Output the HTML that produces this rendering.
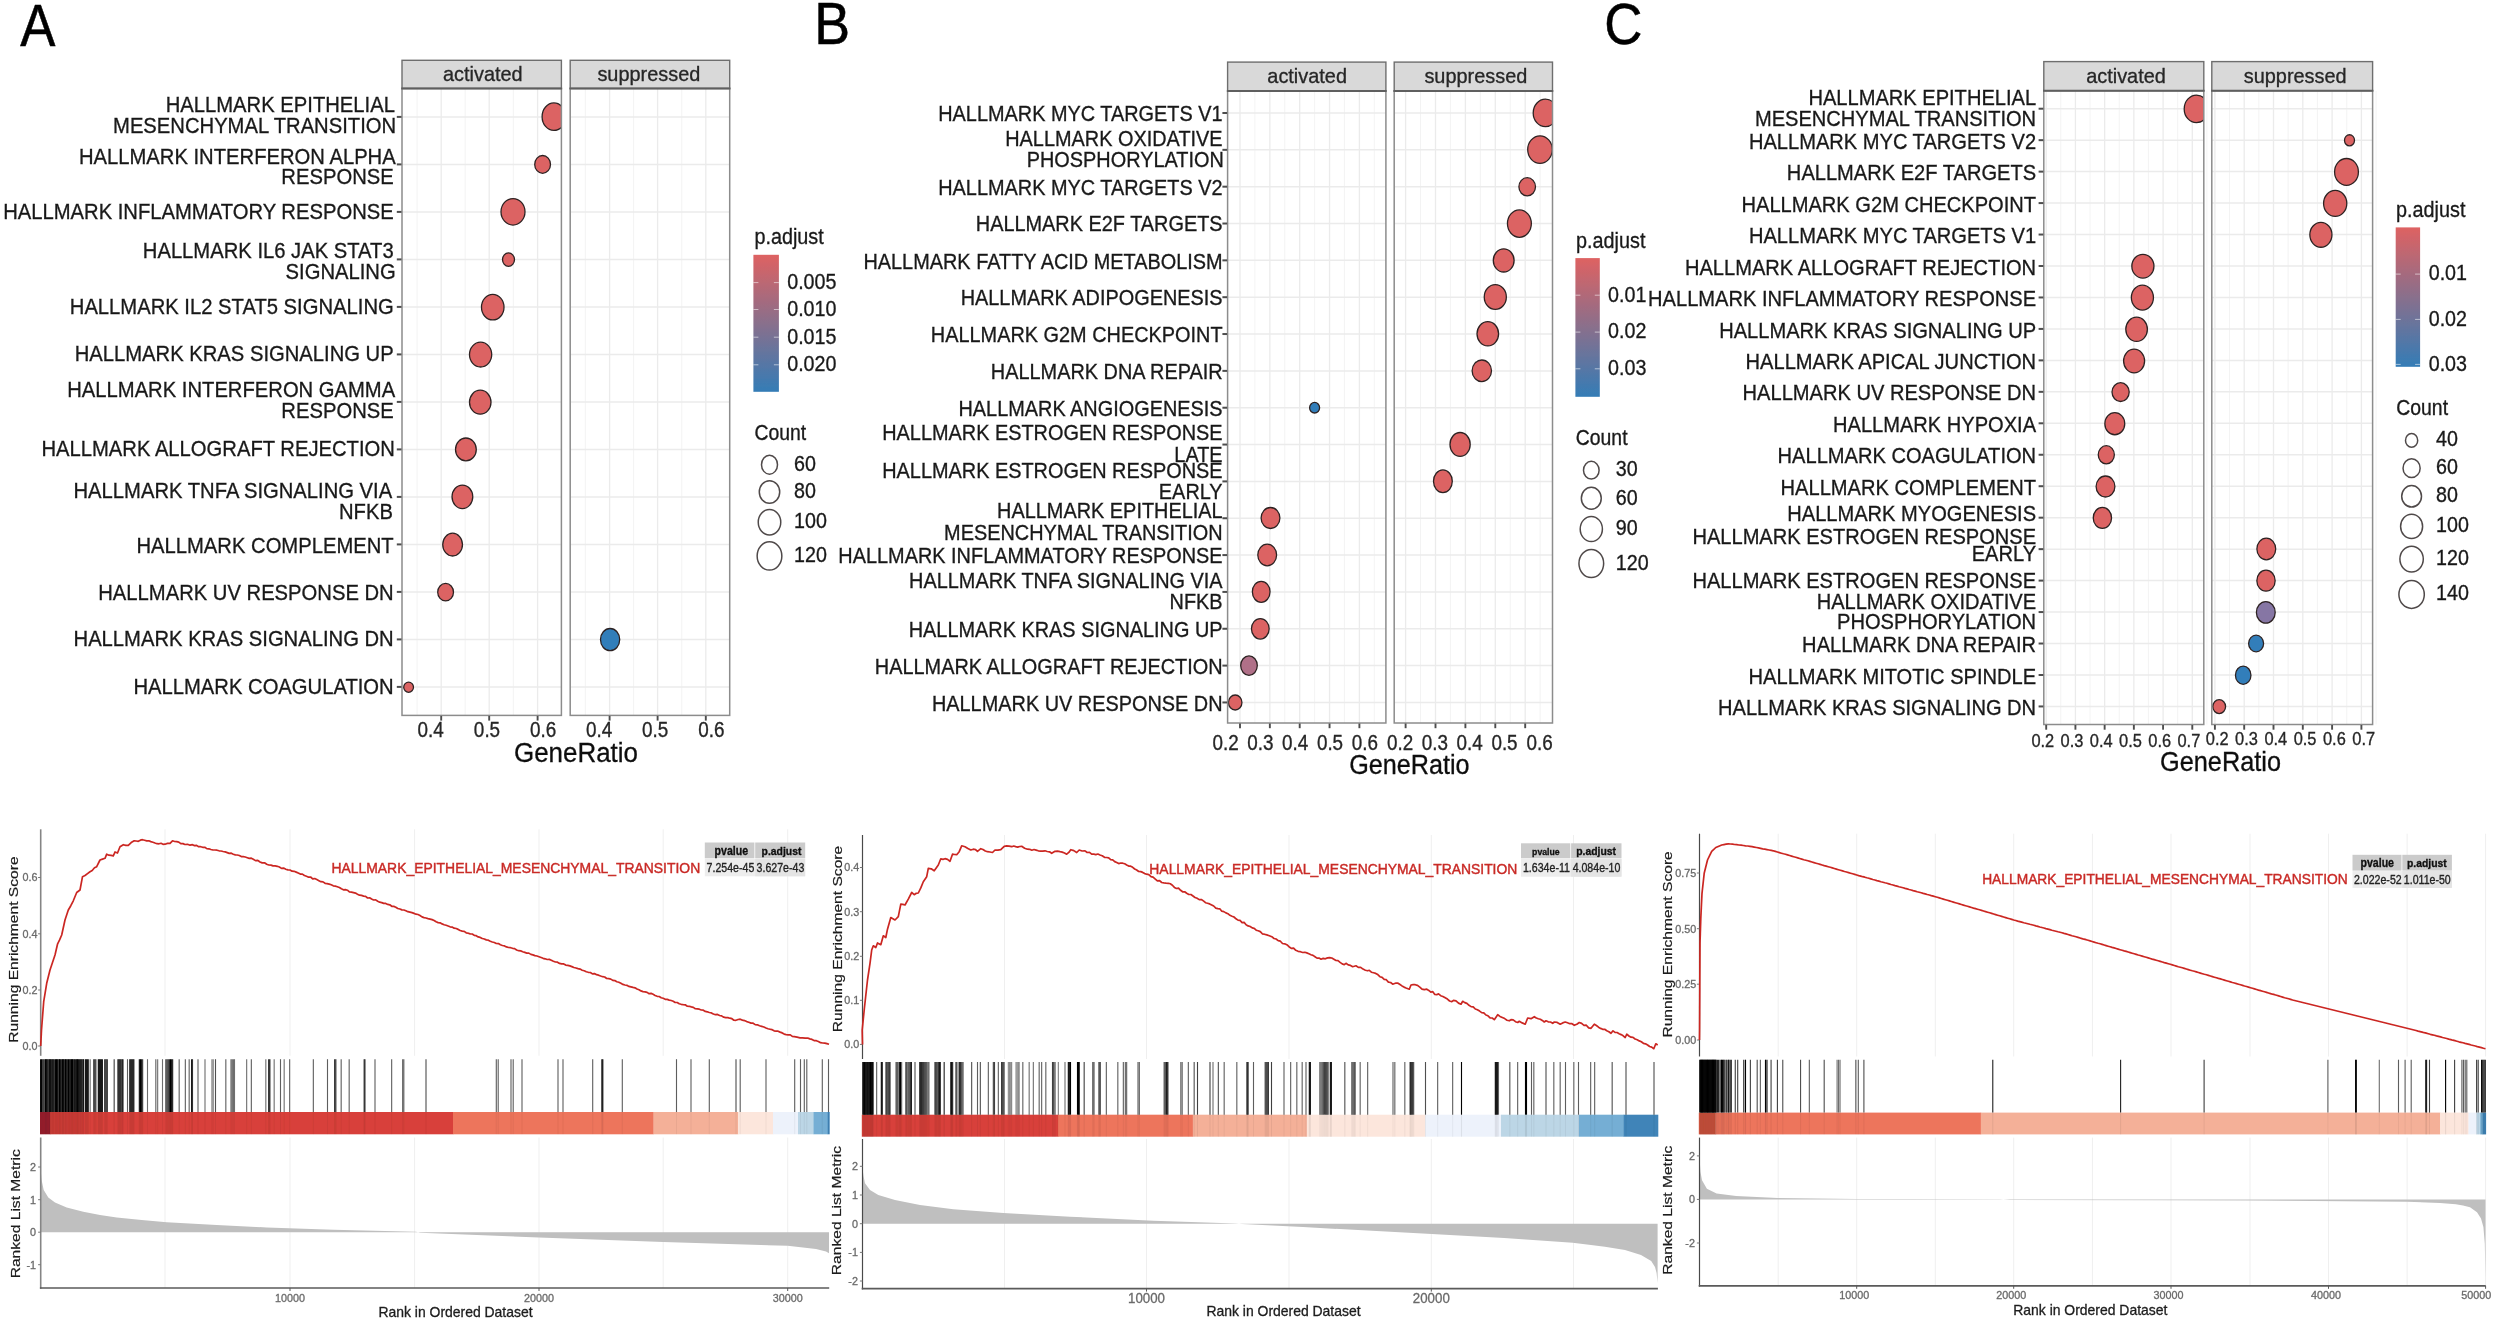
<!DOCTYPE html>
<html lang="en"><head><meta charset="utf-8"><title>GSEA hallmark enrichment figure</title>
<style>html,body{margin:0;padding:0;background:#fff}svg{display:block}text{font-family:'Liberation Sans', Arial, Helvetica, sans-serif;}</style></head><body>
<svg width="2496" height="1322" viewBox="0 0 2496 1322">
<defs><filter id="soft" x="-2%" y="-2%" width="104%" height="104%"><feGaussianBlur stdDeviation="0.55"/></filter></defs>
<rect width="2496" height="1322" fill="#ffffff"/>
<g filter="url(#soft)">
<text transform="translate(20.30,45.80) scale(1.000,1.140)" font-size="52.7" text-anchor="start" fill="#000" stroke="#000" stroke-width="0.5">A</text>
<text transform="translate(814.20,44.30) scale(1.000,1.103)" font-size="53.7" text-anchor="start" fill="#000" stroke="#000" stroke-width="0.5">B</text>
<text transform="translate(1604.20,43.90) scale(1.000,1.095)" font-size="52.8" text-anchor="start" fill="#000" stroke="#000" stroke-width="0.5">C</text>
<rect x="402.00" y="60.30" width="159.40" height="28.20" fill="#d9d9d9" stroke="#6e6e6e" stroke-width="1.4"/>
<text transform="translate(482.80,80.89) scale(1.000,1.040)" font-size="19.9" text-anchor="middle" fill="#262626" stroke="#262626" stroke-width="0.3">activated</text>
<rect x="570.20" y="60.30" width="159.50" height="28.20" fill="#d9d9d9" stroke="#6e6e6e" stroke-width="1.4"/>
<text transform="translate(648.85,80.89) scale(1.000,1.040)" font-size="19.9" text-anchor="middle" fill="#262626" stroke="#262626" stroke-width="0.3">suppressed</text>
<rect x="402.00" y="88.50" width="159.40" height="626.90" fill="#ffffff"/>
<line x1="417.10" y1="88.50" x2="417.10" y2="715.40" stroke="#f2f2f2" stroke-width="0.9"/>
<line x1="465.20" y1="88.50" x2="465.20" y2="715.40" stroke="#f2f2f2" stroke-width="0.9"/>
<line x1="513.40" y1="88.50" x2="513.40" y2="715.40" stroke="#f2f2f2" stroke-width="0.9"/>
<line x1="441.20" y1="88.50" x2="441.20" y2="715.40" stroke="#ebebeb" stroke-width="1.3"/>
<line x1="489.20" y1="88.50" x2="489.20" y2="715.40" stroke="#ebebeb" stroke-width="1.3"/>
<line x1="537.60" y1="88.50" x2="537.60" y2="715.40" stroke="#ebebeb" stroke-width="1.3"/>
<line x1="402.00" y1="116.90" x2="561.40" y2="116.90" stroke="#ebebeb" stroke-width="1.5"/>
<line x1="402.00" y1="164.40" x2="561.40" y2="164.40" stroke="#ebebeb" stroke-width="1.5"/>
<line x1="402.00" y1="211.90" x2="561.40" y2="211.90" stroke="#ebebeb" stroke-width="1.5"/>
<line x1="402.00" y1="259.40" x2="561.40" y2="259.40" stroke="#ebebeb" stroke-width="1.5"/>
<line x1="402.00" y1="306.90" x2="561.40" y2="306.90" stroke="#ebebeb" stroke-width="1.5"/>
<line x1="402.00" y1="354.40" x2="561.40" y2="354.40" stroke="#ebebeb" stroke-width="1.5"/>
<line x1="402.00" y1="401.90" x2="561.40" y2="401.90" stroke="#ebebeb" stroke-width="1.5"/>
<line x1="402.00" y1="449.40" x2="561.40" y2="449.40" stroke="#ebebeb" stroke-width="1.5"/>
<line x1="402.00" y1="496.90" x2="561.40" y2="496.90" stroke="#ebebeb" stroke-width="1.5"/>
<line x1="402.00" y1="544.40" x2="561.40" y2="544.40" stroke="#ebebeb" stroke-width="1.5"/>
<line x1="402.00" y1="591.90" x2="561.40" y2="591.90" stroke="#ebebeb" stroke-width="1.5"/>
<line x1="402.00" y1="639.40" x2="561.40" y2="639.40" stroke="#ebebeb" stroke-width="1.5"/>
<line x1="402.00" y1="686.90" x2="561.40" y2="686.90" stroke="#ebebeb" stroke-width="1.5"/>
<rect x="570.20" y="88.50" width="159.50" height="626.90" fill="#ffffff"/>
<line x1="585.40" y1="88.50" x2="585.40" y2="715.40" stroke="#f2f2f2" stroke-width="0.9"/>
<line x1="633.60" y1="88.50" x2="633.60" y2="715.40" stroke="#f2f2f2" stroke-width="0.9"/>
<line x1="681.80" y1="88.50" x2="681.80" y2="715.40" stroke="#f2f2f2" stroke-width="0.9"/>
<line x1="609.60" y1="88.50" x2="609.60" y2="715.40" stroke="#ebebeb" stroke-width="1.3"/>
<line x1="657.60" y1="88.50" x2="657.60" y2="715.40" stroke="#ebebeb" stroke-width="1.3"/>
<line x1="705.80" y1="88.50" x2="705.80" y2="715.40" stroke="#ebebeb" stroke-width="1.3"/>
<line x1="570.20" y1="116.90" x2="729.70" y2="116.90" stroke="#ebebeb" stroke-width="1.5"/>
<line x1="570.20" y1="164.40" x2="729.70" y2="164.40" stroke="#ebebeb" stroke-width="1.5"/>
<line x1="570.20" y1="211.90" x2="729.70" y2="211.90" stroke="#ebebeb" stroke-width="1.5"/>
<line x1="570.20" y1="259.40" x2="729.70" y2="259.40" stroke="#ebebeb" stroke-width="1.5"/>
<line x1="570.20" y1="306.90" x2="729.70" y2="306.90" stroke="#ebebeb" stroke-width="1.5"/>
<line x1="570.20" y1="354.40" x2="729.70" y2="354.40" stroke="#ebebeb" stroke-width="1.5"/>
<line x1="570.20" y1="401.90" x2="729.70" y2="401.90" stroke="#ebebeb" stroke-width="1.5"/>
<line x1="570.20" y1="449.40" x2="729.70" y2="449.40" stroke="#ebebeb" stroke-width="1.5"/>
<line x1="570.20" y1="496.90" x2="729.70" y2="496.90" stroke="#ebebeb" stroke-width="1.5"/>
<line x1="570.20" y1="544.40" x2="729.70" y2="544.40" stroke="#ebebeb" stroke-width="1.5"/>
<line x1="570.20" y1="591.90" x2="729.70" y2="591.90" stroke="#ebebeb" stroke-width="1.5"/>
<line x1="570.20" y1="639.40" x2="729.70" y2="639.40" stroke="#ebebeb" stroke-width="1.5"/>
<line x1="570.20" y1="686.90" x2="729.70" y2="686.90" stroke="#ebebeb" stroke-width="1.5"/>
<clipPath id="c1"><rect x="402" y="88.5" width="159.39999999999998" height="626.9"/></clipPath>
<g clip-path="url(#c1)">
<ellipse cx="553.90" cy="116.70" rx="11.80" ry="13.75" fill="#dc6464" stroke="#2e2424" stroke-width="1.3"/>
<ellipse cx="542.60" cy="164.40" rx="7.88" ry="8.88" fill="#dc6464" stroke="#2e2424" stroke-width="1.3"/>
<ellipse cx="513.00" cy="211.80" rx="12.00" ry="13.25" fill="#dc6464" stroke="#2e2424" stroke-width="1.3"/>
<ellipse cx="508.50" cy="259.60" rx="6.00" ry="6.75" fill="#dc6464" stroke="#2e2424" stroke-width="1.3"/>
<ellipse cx="492.75" cy="307.20" rx="11.25" ry="12.75" fill="#dc6464" stroke="#2e2424" stroke-width="1.3"/>
<ellipse cx="480.60" cy="354.60" rx="11.12" ry="12.38" fill="#dc6464" stroke="#2e2424" stroke-width="1.3"/>
<ellipse cx="480.25" cy="402.20" rx="10.75" ry="12.00" fill="#dc6464" stroke="#2e2424" stroke-width="1.3"/>
<ellipse cx="465.90" cy="449.40" rx="10.38" ry="11.38" fill="#dc6464" stroke="#2e2424" stroke-width="1.3"/>
<ellipse cx="462.40" cy="496.80" rx="10.38" ry="11.75" fill="#dc6464" stroke="#2e2424" stroke-width="1.3"/>
<ellipse cx="452.60" cy="544.60" rx="9.88" ry="11.38" fill="#dc6464" stroke="#2e2424" stroke-width="1.3"/>
<ellipse cx="445.60" cy="592.20" rx="7.88" ry="8.75" fill="#dc6464" stroke="#2e2424" stroke-width="1.3"/>
<ellipse cx="408.60" cy="687.20" rx="4.88" ry="5.12" fill="#dc6464" stroke="#2e2424" stroke-width="1.3"/>
</g>
<clipPath id="c2"><rect x="570.2" y="88.5" width="159.5" height="626.9"/></clipPath>
<g clip-path="url(#c2)">
<ellipse cx="610.10" cy="639.60" rx="9.62" ry="11.12" fill="#327eba" stroke="#2e2424" stroke-width="1.3"/>
</g>
<rect x="402.00" y="88.50" width="159.40" height="626.90" fill="none" stroke="#8c8c8c" stroke-width="1.5"/>
<line x1="401.30" y1="88.50" x2="562.10" y2="88.50" stroke="#5f5f5f" stroke-width="2.0"/>
<rect x="570.20" y="88.50" width="159.50" height="626.90" fill="none" stroke="#8c8c8c" stroke-width="1.5"/>
<line x1="569.50" y1="88.50" x2="730.40" y2="88.50" stroke="#5f5f5f" stroke-width="2.0"/>
<line x1="396.80" y1="116.90" x2="401.50" y2="116.90" stroke="#4d4d4d" stroke-width="2.0"/>
<text transform="translate(394.90,112.00) scale(1.000,1.100)" font-size="20.22" text-anchor="end" fill="#1a1a1a" stroke="#1a1a1a" stroke-width="0.3">HALLMARK EPITHELIAL</text>
<text transform="translate(396.10,133.00) scale(1.000,1.100)" font-size="20.22" text-anchor="end" fill="#1a1a1a" stroke="#1a1a1a" stroke-width="0.3">MESENCHYMAL TRANSITION</text>
<line x1="396.80" y1="164.40" x2="401.50" y2="164.40" stroke="#4d4d4d" stroke-width="2.0"/>
<text transform="translate(395.70,163.70) scale(1.000,1.100)" font-size="20.22" text-anchor="end" fill="#1a1a1a" stroke="#1a1a1a" stroke-width="0.3">HALLMARK INTERFERON ALPHA</text>
<text transform="translate(393.70,184.00) scale(1.000,1.100)" font-size="20.22" text-anchor="end" fill="#1a1a1a" stroke="#1a1a1a" stroke-width="0.3">RESPONSE</text>
<line x1="396.80" y1="211.90" x2="401.50" y2="211.90" stroke="#4d4d4d" stroke-width="2.0"/>
<text transform="translate(393.70,218.90) scale(1.000,1.100)" font-size="20.22" text-anchor="end" fill="#1a1a1a" stroke="#1a1a1a" stroke-width="0.3">HALLMARK INFLAMMATORY RESPONSE</text>
<line x1="396.80" y1="259.40" x2="401.50" y2="259.40" stroke="#4d4d4d" stroke-width="2.0"/>
<text transform="translate(393.70,258.40) scale(1.000,1.100)" font-size="20.22" text-anchor="end" fill="#1a1a1a" stroke="#1a1a1a" stroke-width="0.3">HALLMARK IL6 JAK STAT3</text>
<text transform="translate(395.70,278.70) scale(1.000,1.100)" font-size="20.22" text-anchor="end" fill="#1a1a1a" stroke="#1a1a1a" stroke-width="0.3">SIGNALING</text>
<line x1="396.80" y1="306.90" x2="401.50" y2="306.90" stroke="#4d4d4d" stroke-width="2.0"/>
<text transform="translate(393.70,313.90) scale(1.000,1.100)" font-size="20.22" text-anchor="end" fill="#1a1a1a" stroke="#1a1a1a" stroke-width="0.3">HALLMARK IL2 STAT5 SIGNALING</text>
<line x1="396.80" y1="354.40" x2="401.50" y2="354.40" stroke="#4d4d4d" stroke-width="2.0"/>
<text transform="translate(393.70,361.40) scale(1.000,1.100)" font-size="20.22" text-anchor="end" fill="#1a1a1a" stroke="#1a1a1a" stroke-width="0.3">HALLMARK KRAS SIGNALING UP</text>
<line x1="396.80" y1="401.90" x2="401.50" y2="401.90" stroke="#4d4d4d" stroke-width="2.0"/>
<text transform="translate(395.20,397.20) scale(1.000,1.100)" font-size="20.22" text-anchor="end" fill="#1a1a1a" stroke="#1a1a1a" stroke-width="0.3">HALLMARK INTERFERON GAMMA</text>
<text transform="translate(393.70,417.50) scale(1.000,1.100)" font-size="20.22" text-anchor="end" fill="#1a1a1a" stroke="#1a1a1a" stroke-width="0.3">RESPONSE</text>
<line x1="396.80" y1="449.40" x2="401.50" y2="449.40" stroke="#4d4d4d" stroke-width="2.0"/>
<text transform="translate(394.90,456.20) scale(1.000,1.100)" font-size="20.22" text-anchor="end" fill="#1a1a1a" stroke="#1a1a1a" stroke-width="0.3">HALLMARK ALLOGRAFT REJECTION</text>
<line x1="396.80" y1="496.90" x2="401.50" y2="496.90" stroke="#4d4d4d" stroke-width="2.0"/>
<text transform="translate(392.20,498.00) scale(1.000,1.100)" font-size="20.22" text-anchor="end" fill="#1a1a1a" stroke="#1a1a1a" stroke-width="0.3">HALLMARK TNFA SIGNALING VIA</text>
<text transform="translate(392.90,518.70) scale(1.000,1.100)" font-size="20.22" text-anchor="end" fill="#1a1a1a" stroke="#1a1a1a" stroke-width="0.3">NFKB</text>
<line x1="396.80" y1="544.40" x2="401.50" y2="544.40" stroke="#4d4d4d" stroke-width="2.0"/>
<text transform="translate(393.70,553.40) scale(1.000,1.100)" font-size="20.22" text-anchor="end" fill="#1a1a1a" stroke="#1a1a1a" stroke-width="0.3">HALLMARK COMPLEMENT</text>
<line x1="396.80" y1="591.90" x2="401.50" y2="591.90" stroke="#4d4d4d" stroke-width="2.0"/>
<text transform="translate(393.70,600.30) scale(1.000,1.100)" font-size="20.22" text-anchor="end" fill="#1a1a1a" stroke="#1a1a1a" stroke-width="0.3">HALLMARK UV RESPONSE DN</text>
<line x1="396.80" y1="639.40" x2="401.50" y2="639.40" stroke="#4d4d4d" stroke-width="2.0"/>
<text transform="translate(393.70,646.40) scale(1.000,1.100)" font-size="20.22" text-anchor="end" fill="#1a1a1a" stroke="#1a1a1a" stroke-width="0.3">HALLMARK KRAS SIGNALING DN</text>
<line x1="396.80" y1="686.90" x2="401.50" y2="686.90" stroke="#4d4d4d" stroke-width="2.0"/>
<text transform="translate(393.70,693.90) scale(1.000,1.100)" font-size="20.22" text-anchor="end" fill="#1a1a1a" stroke="#1a1a1a" stroke-width="0.3">HALLMARK COAGULATION</text>
<line x1="441.20" y1="715.90" x2="441.20" y2="720.60" stroke="#4d4d4d" stroke-width="1.9"/>
<text transform="translate(430.60,736.90) scale(1.000,1.200)" font-size="18.9" text-anchor="middle" fill="#262626" stroke="#262626" stroke-width="0.3">0.4</text>
<line x1="489.20" y1="715.90" x2="489.20" y2="720.60" stroke="#4d4d4d" stroke-width="1.9"/>
<text transform="translate(487.00,736.90) scale(1.000,1.200)" font-size="18.9" text-anchor="middle" fill="#262626" stroke="#262626" stroke-width="0.3">0.5</text>
<line x1="537.60" y1="715.90" x2="537.60" y2="720.60" stroke="#4d4d4d" stroke-width="1.9"/>
<text transform="translate(543.10,736.90) scale(1.000,1.200)" font-size="18.9" text-anchor="middle" fill="#262626" stroke="#262626" stroke-width="0.3">0.6</text>
<line x1="609.60" y1="715.90" x2="609.60" y2="720.60" stroke="#4d4d4d" stroke-width="1.9"/>
<text transform="translate(599.10,736.90) scale(1.000,1.200)" font-size="18.9" text-anchor="middle" fill="#262626" stroke="#262626" stroke-width="0.3">0.4</text>
<line x1="657.60" y1="715.90" x2="657.60" y2="720.60" stroke="#4d4d4d" stroke-width="1.9"/>
<text transform="translate(655.20,736.90) scale(1.000,1.200)" font-size="18.9" text-anchor="middle" fill="#262626" stroke="#262626" stroke-width="0.3">0.5</text>
<line x1="705.80" y1="715.90" x2="705.80" y2="720.60" stroke="#4d4d4d" stroke-width="1.9"/>
<text transform="translate(711.40,736.90) scale(1.000,1.200)" font-size="18.9" text-anchor="middle" fill="#262626" stroke="#262626" stroke-width="0.3">0.6</text>
<text transform="translate(576.00,762.00) scale(1.000,1.080)" font-size="25.95" text-anchor="middle" fill="#111" stroke="#111" stroke-width="0.3">GeneRatio</text>
<linearGradient id="gA" x1="0" y1="0" x2="0" y2="1"><stop offset="0" stop-color="#de6262"/><stop offset="1" stop-color="#347cb6"/></linearGradient>
<rect x="753.40" y="254.80" width="25.50" height="137.00" fill="url(#gA)"/>
<line x1="753.40" y1="282.60" x2="758.40" y2="282.60" stroke="#ffffff" stroke-width="1.0" opacity="0.55"/>
<line x1="773.90" y1="282.60" x2="778.90" y2="282.60" stroke="#ffffff" stroke-width="1.0" opacity="0.55"/>
<text transform="translate(787.20,288.90) scale(1.000,1.100)" font-size="19.7" text-anchor="start" fill="#1a1a1a" stroke="#1a1a1a" stroke-width="0.3">0.005</text>
<line x1="753.40" y1="309.50" x2="758.40" y2="309.50" stroke="#ffffff" stroke-width="1.0" opacity="0.55"/>
<line x1="773.90" y1="309.50" x2="778.90" y2="309.50" stroke="#ffffff" stroke-width="1.0" opacity="0.55"/>
<text transform="translate(787.20,315.80) scale(1.000,1.100)" font-size="19.7" text-anchor="start" fill="#1a1a1a" stroke="#1a1a1a" stroke-width="0.3">0.010</text>
<line x1="753.40" y1="337.20" x2="758.40" y2="337.20" stroke="#ffffff" stroke-width="1.0" opacity="0.55"/>
<line x1="773.90" y1="337.20" x2="778.90" y2="337.20" stroke="#ffffff" stroke-width="1.0" opacity="0.55"/>
<text transform="translate(787.20,343.50) scale(1.000,1.100)" font-size="19.7" text-anchor="start" fill="#1a1a1a" stroke="#1a1a1a" stroke-width="0.3">0.015</text>
<line x1="753.40" y1="364.80" x2="758.40" y2="364.80" stroke="#ffffff" stroke-width="1.0" opacity="0.55"/>
<line x1="773.90" y1="364.80" x2="778.90" y2="364.80" stroke="#ffffff" stroke-width="1.0" opacity="0.55"/>
<text transform="translate(787.20,371.10) scale(1.000,1.100)" font-size="19.7" text-anchor="start" fill="#1a1a1a" stroke="#1a1a1a" stroke-width="0.3">0.020</text>
<text transform="translate(754.40,243.60) scale(1.000,1.100)" font-size="19.8" text-anchor="start" fill="#1a1a1a" stroke="#1a1a1a" stroke-width="0.3">p.adjust</text>
<text transform="translate(754.40,440.00) scale(1.000,1.100)" font-size="19.4" text-anchor="start" fill="#1a1a1a" stroke="#1a1a1a" stroke-width="0.3">Count</text>
<ellipse cx="769.50" cy="464.70" rx="8.00" ry="9.45" fill="#fff" stroke="#504a4a" stroke-width="1.5"/>
<text transform="translate(794.00,470.70) scale(1.000,1.100)" font-size="19.7" text-anchor="start" fill="#1a1a1a" stroke="#1a1a1a" stroke-width="0.3">60</text>
<ellipse cx="769.50" cy="492.00" rx="10.20" ry="11.25" fill="#fff" stroke="#504a4a" stroke-width="1.5"/>
<text transform="translate(794.00,498.40) scale(1.000,1.100)" font-size="19.7" text-anchor="start" fill="#1a1a1a" stroke="#1a1a1a" stroke-width="0.3">80</text>
<ellipse cx="769.50" cy="522.20" rx="11.25" ry="12.70" fill="#fff" stroke="#504a4a" stroke-width="1.5"/>
<text transform="translate(794.00,528.20) scale(1.000,1.100)" font-size="19.7" text-anchor="start" fill="#1a1a1a" stroke="#1a1a1a" stroke-width="0.3">100</text>
<ellipse cx="769.50" cy="555.90" rx="12.35" ry="14.15" fill="#fff" stroke="#504a4a" stroke-width="1.5"/>
<text transform="translate(794.00,561.90) scale(1.000,1.100)" font-size="19.7" text-anchor="start" fill="#1a1a1a" stroke="#1a1a1a" stroke-width="0.3">120</text>
<rect x="1227.60" y="62.10" width="158.30" height="28.90" fill="#d9d9d9" stroke="#6e6e6e" stroke-width="1.4"/>
<text transform="translate(1307.15,83.20) scale(1.000,1.040)" font-size="19.9" text-anchor="middle" fill="#262626" stroke="#262626" stroke-width="0.3">activated</text>
<rect x="1394.20" y="62.10" width="158.30" height="28.90" fill="#d9d9d9" stroke="#6e6e6e" stroke-width="1.4"/>
<text transform="translate(1475.85,83.20) scale(1.000,1.040)" font-size="19.9" text-anchor="middle" fill="#262626" stroke="#262626" stroke-width="0.3">suppressed</text>
<rect x="1227.60" y="91.00" width="158.30" height="632.00" fill="#ffffff"/>
<line x1="1254.92" y1="91.00" x2="1254.92" y2="723.00" stroke="#f2f2f2" stroke-width="0.9"/>
<line x1="1284.77" y1="91.00" x2="1284.77" y2="723.00" stroke="#f2f2f2" stroke-width="0.9"/>
<line x1="1314.62" y1="91.00" x2="1314.62" y2="723.00" stroke="#f2f2f2" stroke-width="0.9"/>
<line x1="1344.47" y1="91.00" x2="1344.47" y2="723.00" stroke="#f2f2f2" stroke-width="0.9"/>
<line x1="1374.32" y1="91.00" x2="1374.32" y2="723.00" stroke="#f2f2f2" stroke-width="0.9"/>
<line x1="1240.00" y1="91.00" x2="1240.00" y2="723.00" stroke="#ebebeb" stroke-width="1.3"/>
<line x1="1269.85" y1="91.00" x2="1269.85" y2="723.00" stroke="#ebebeb" stroke-width="1.3"/>
<line x1="1299.70" y1="91.00" x2="1299.70" y2="723.00" stroke="#ebebeb" stroke-width="1.3"/>
<line x1="1329.55" y1="91.00" x2="1329.55" y2="723.00" stroke="#ebebeb" stroke-width="1.3"/>
<line x1="1359.40" y1="91.00" x2="1359.40" y2="723.00" stroke="#ebebeb" stroke-width="1.3"/>
<line x1="1227.60" y1="113.00" x2="1385.90" y2="113.00" stroke="#ebebeb" stroke-width="1.5"/>
<line x1="1227.60" y1="149.84" x2="1385.90" y2="149.84" stroke="#ebebeb" stroke-width="1.5"/>
<line x1="1227.60" y1="186.68" x2="1385.90" y2="186.68" stroke="#ebebeb" stroke-width="1.5"/>
<line x1="1227.60" y1="223.52" x2="1385.90" y2="223.52" stroke="#ebebeb" stroke-width="1.5"/>
<line x1="1227.60" y1="260.36" x2="1385.90" y2="260.36" stroke="#ebebeb" stroke-width="1.5"/>
<line x1="1227.60" y1="297.20" x2="1385.90" y2="297.20" stroke="#ebebeb" stroke-width="1.5"/>
<line x1="1227.60" y1="334.04" x2="1385.90" y2="334.04" stroke="#ebebeb" stroke-width="1.5"/>
<line x1="1227.60" y1="370.88" x2="1385.90" y2="370.88" stroke="#ebebeb" stroke-width="1.5"/>
<line x1="1227.60" y1="407.72" x2="1385.90" y2="407.72" stroke="#ebebeb" stroke-width="1.5"/>
<line x1="1227.60" y1="444.56" x2="1385.90" y2="444.56" stroke="#ebebeb" stroke-width="1.5"/>
<line x1="1227.60" y1="481.40" x2="1385.90" y2="481.40" stroke="#ebebeb" stroke-width="1.5"/>
<line x1="1227.60" y1="518.24" x2="1385.90" y2="518.24" stroke="#ebebeb" stroke-width="1.5"/>
<line x1="1227.60" y1="555.08" x2="1385.90" y2="555.08" stroke="#ebebeb" stroke-width="1.5"/>
<line x1="1227.60" y1="591.92" x2="1385.90" y2="591.92" stroke="#ebebeb" stroke-width="1.5"/>
<line x1="1227.60" y1="628.76" x2="1385.90" y2="628.76" stroke="#ebebeb" stroke-width="1.5"/>
<line x1="1227.60" y1="665.60" x2="1385.90" y2="665.60" stroke="#ebebeb" stroke-width="1.5"/>
<line x1="1227.60" y1="702.44" x2="1385.90" y2="702.44" stroke="#ebebeb" stroke-width="1.5"/>
<rect x="1394.20" y="91.00" width="158.30" height="632.00" fill="#ffffff"/>
<line x1="1420.55" y1="91.00" x2="1420.55" y2="723.00" stroke="#f2f2f2" stroke-width="0.9"/>
<line x1="1450.45" y1="91.00" x2="1450.45" y2="723.00" stroke="#f2f2f2" stroke-width="0.9"/>
<line x1="1480.35" y1="91.00" x2="1480.35" y2="723.00" stroke="#f2f2f2" stroke-width="0.9"/>
<line x1="1510.25" y1="91.00" x2="1510.25" y2="723.00" stroke="#f2f2f2" stroke-width="0.9"/>
<line x1="1540.15" y1="91.00" x2="1540.15" y2="723.00" stroke="#f2f2f2" stroke-width="0.9"/>
<line x1="1405.60" y1="91.00" x2="1405.60" y2="723.00" stroke="#ebebeb" stroke-width="1.3"/>
<line x1="1435.50" y1="91.00" x2="1435.50" y2="723.00" stroke="#ebebeb" stroke-width="1.3"/>
<line x1="1465.40" y1="91.00" x2="1465.40" y2="723.00" stroke="#ebebeb" stroke-width="1.3"/>
<line x1="1495.30" y1="91.00" x2="1495.30" y2="723.00" stroke="#ebebeb" stroke-width="1.3"/>
<line x1="1525.20" y1="91.00" x2="1525.20" y2="723.00" stroke="#ebebeb" stroke-width="1.3"/>
<line x1="1394.20" y1="113.00" x2="1552.50" y2="113.00" stroke="#ebebeb" stroke-width="1.5"/>
<line x1="1394.20" y1="149.84" x2="1552.50" y2="149.84" stroke="#ebebeb" stroke-width="1.5"/>
<line x1="1394.20" y1="186.68" x2="1552.50" y2="186.68" stroke="#ebebeb" stroke-width="1.5"/>
<line x1="1394.20" y1="223.52" x2="1552.50" y2="223.52" stroke="#ebebeb" stroke-width="1.5"/>
<line x1="1394.20" y1="260.36" x2="1552.50" y2="260.36" stroke="#ebebeb" stroke-width="1.5"/>
<line x1="1394.20" y1="297.20" x2="1552.50" y2="297.20" stroke="#ebebeb" stroke-width="1.5"/>
<line x1="1394.20" y1="334.04" x2="1552.50" y2="334.04" stroke="#ebebeb" stroke-width="1.5"/>
<line x1="1394.20" y1="370.88" x2="1552.50" y2="370.88" stroke="#ebebeb" stroke-width="1.5"/>
<line x1="1394.20" y1="407.72" x2="1552.50" y2="407.72" stroke="#ebebeb" stroke-width="1.5"/>
<line x1="1394.20" y1="444.56" x2="1552.50" y2="444.56" stroke="#ebebeb" stroke-width="1.5"/>
<line x1="1394.20" y1="481.40" x2="1552.50" y2="481.40" stroke="#ebebeb" stroke-width="1.5"/>
<line x1="1394.20" y1="518.24" x2="1552.50" y2="518.24" stroke="#ebebeb" stroke-width="1.5"/>
<line x1="1394.20" y1="555.08" x2="1552.50" y2="555.08" stroke="#ebebeb" stroke-width="1.5"/>
<line x1="1394.20" y1="591.92" x2="1552.50" y2="591.92" stroke="#ebebeb" stroke-width="1.5"/>
<line x1="1394.20" y1="628.76" x2="1552.50" y2="628.76" stroke="#ebebeb" stroke-width="1.5"/>
<line x1="1394.20" y1="665.60" x2="1552.50" y2="665.60" stroke="#ebebeb" stroke-width="1.5"/>
<line x1="1394.20" y1="702.44" x2="1552.50" y2="702.44" stroke="#ebebeb" stroke-width="1.5"/>
<clipPath id="c3"><rect x="1227.6" y="91.0" width="158.30000000000018" height="632.0"/></clipPath>
<g clip-path="url(#c3)">
<ellipse cx="1314.60" cy="407.70" rx="5.00" ry="5.30" fill="#327eba" stroke="#2e2424" stroke-width="1.3"/>
<ellipse cx="1270.50" cy="518.00" rx="9.40" ry="10.50" fill="#dc6464" stroke="#2e2424" stroke-width="1.3"/>
<ellipse cx="1267.20" cy="555.00" rx="9.40" ry="10.80" fill="#dc6464" stroke="#2e2424" stroke-width="1.3"/>
<ellipse cx="1261.20" cy="591.80" rx="8.85" ry="10.50" fill="#dc6464" stroke="#2e2424" stroke-width="1.3"/>
<ellipse cx="1260.30" cy="628.80" rx="8.85" ry="10.25" fill="#dc6464" stroke="#2e2424" stroke-width="1.3"/>
<ellipse cx="1249.00" cy="665.60" rx="8.30" ry="9.70" fill="#b07088" stroke="#2e2424" stroke-width="1.3"/>
<ellipse cx="1235.20" cy="702.50" rx="6.75" ry="7.50" fill="#dc6464" stroke="#2e2424" stroke-width="1.3"/>
</g>
<clipPath id="c4"><rect x="1394.2" y="91.0" width="158.29999999999995" height="632.0"/></clipPath>
<g clip-path="url(#c4)">
<ellipse cx="1545.40" cy="112.90" rx="12.20" ry="13.70" fill="#dc6464" stroke="#2e2424" stroke-width="1.3"/>
<ellipse cx="1540.00" cy="149.60" rx="12.30" ry="13.80" fill="#dc6464" stroke="#2e2424" stroke-width="1.3"/>
<ellipse cx="1527.20" cy="186.80" rx="8.30" ry="9.15" fill="#dc6464" stroke="#2e2424" stroke-width="1.3"/>
<ellipse cx="1519.40" cy="223.60" rx="11.95" ry="13.70" fill="#dc6464" stroke="#2e2424" stroke-width="1.3"/>
<ellipse cx="1503.70" cy="260.40" rx="10.40" ry="11.60" fill="#dc6464" stroke="#2e2424" stroke-width="1.3"/>
<ellipse cx="1495.30" cy="297.00" rx="11.05" ry="12.45" fill="#dc6464" stroke="#2e2424" stroke-width="1.3"/>
<ellipse cx="1487.80" cy="333.80" rx="10.80" ry="12.15" fill="#dc6464" stroke="#2e2424" stroke-width="1.3"/>
<ellipse cx="1481.80" cy="370.80" rx="9.70" ry="10.80" fill="#dc6464" stroke="#2e2424" stroke-width="1.3"/>
<ellipse cx="1460.10" cy="444.40" rx="10.10" ry="11.90" fill="#dc6464" stroke="#2e2424" stroke-width="1.3"/>
<ellipse cx="1442.90" cy="481.30" rx="9.40" ry="11.35" fill="#dc6464" stroke="#2e2424" stroke-width="1.3"/>
</g>
<rect x="1227.60" y="91.00" width="158.30" height="632.00" fill="none" stroke="#8c8c8c" stroke-width="1.5"/>
<line x1="1226.90" y1="91.00" x2="1386.60" y2="91.00" stroke="#5f5f5f" stroke-width="2.0"/>
<rect x="1394.20" y="91.00" width="158.30" height="632.00" fill="none" stroke="#8c8c8c" stroke-width="1.5"/>
<line x1="1393.50" y1="91.00" x2="1553.20" y2="91.00" stroke="#5f5f5f" stroke-width="2.0"/>
<line x1="1222.40" y1="113.00" x2="1227.10" y2="113.00" stroke="#4d4d4d" stroke-width="2.0"/>
<text transform="translate(1222.60,121.20) scale(1.000,1.100)" font-size="19.9" text-anchor="end" fill="#1a1a1a" stroke="#1a1a1a" stroke-width="0.3">HALLMARK MYC TARGETS V1</text>
<line x1="1222.40" y1="149.84" x2="1227.10" y2="149.84" stroke="#4d4d4d" stroke-width="2.0"/>
<text transform="translate(1222.60,146.20) scale(1.000,1.100)" font-size="19.9" text-anchor="end" fill="#1a1a1a" stroke="#1a1a1a" stroke-width="0.3">HALLMARK OXIDATIVE</text>
<text transform="translate(1223.80,166.90) scale(1.000,1.100)" font-size="19.9" text-anchor="end" fill="#1a1a1a" stroke="#1a1a1a" stroke-width="0.3">PHOSPHORYLATION</text>
<line x1="1222.40" y1="186.68" x2="1227.10" y2="186.68" stroke="#4d4d4d" stroke-width="2.0"/>
<text transform="translate(1222.60,194.88) scale(1.000,1.100)" font-size="19.9" text-anchor="end" fill="#1a1a1a" stroke="#1a1a1a" stroke-width="0.3">HALLMARK MYC TARGETS V2</text>
<line x1="1222.40" y1="223.52" x2="1227.10" y2="223.52" stroke="#4d4d4d" stroke-width="2.0"/>
<text transform="translate(1222.60,231.30) scale(1.000,1.100)" font-size="19.9" text-anchor="end" fill="#1a1a1a" stroke="#1a1a1a" stroke-width="0.3">HALLMARK E2F TARGETS</text>
<line x1="1222.40" y1="260.36" x2="1227.10" y2="260.36" stroke="#4d4d4d" stroke-width="2.0"/>
<text transform="translate(1222.60,268.56) scale(1.000,1.100)" font-size="19.9" text-anchor="end" fill="#1a1a1a" stroke="#1a1a1a" stroke-width="0.3">HALLMARK FATTY ACID METABOLISM</text>
<line x1="1222.40" y1="297.20" x2="1227.10" y2="297.20" stroke="#4d4d4d" stroke-width="2.0"/>
<text transform="translate(1222.60,305.40) scale(1.000,1.100)" font-size="19.9" text-anchor="end" fill="#1a1a1a" stroke="#1a1a1a" stroke-width="0.3">HALLMARK ADIPOGENESIS</text>
<line x1="1222.40" y1="334.04" x2="1227.10" y2="334.04" stroke="#4d4d4d" stroke-width="2.0"/>
<text transform="translate(1222.60,342.24) scale(1.000,1.100)" font-size="19.9" text-anchor="end" fill="#1a1a1a" stroke="#1a1a1a" stroke-width="0.3">HALLMARK G2M CHECKPOINT</text>
<line x1="1222.40" y1="370.88" x2="1227.10" y2="370.88" stroke="#4d4d4d" stroke-width="2.0"/>
<text transform="translate(1222.60,379.08) scale(1.000,1.100)" font-size="19.9" text-anchor="end" fill="#1a1a1a" stroke="#1a1a1a" stroke-width="0.3">HALLMARK DNA REPAIR</text>
<line x1="1222.40" y1="407.72" x2="1227.10" y2="407.72" stroke="#4d4d4d" stroke-width="2.0"/>
<text transform="translate(1222.60,415.92) scale(1.000,1.100)" font-size="19.9" text-anchor="end" fill="#1a1a1a" stroke="#1a1a1a" stroke-width="0.3">HALLMARK ANGIOGENESIS</text>
<line x1="1222.40" y1="444.56" x2="1227.10" y2="444.56" stroke="#4d4d4d" stroke-width="2.0"/>
<text transform="translate(1222.60,440.10) scale(1.000,1.100)" font-size="19.9" text-anchor="end" fill="#1a1a1a" stroke="#1a1a1a" stroke-width="0.3">HALLMARK ESTROGEN RESPONSE</text>
<text transform="translate(1222.60,461.60) scale(1.000,1.100)" font-size="19.9" text-anchor="end" fill="#1a1a1a" stroke="#1a1a1a" stroke-width="0.3">LATE</text>
<line x1="1222.40" y1="481.40" x2="1227.10" y2="481.40" stroke="#4d4d4d" stroke-width="2.0"/>
<text transform="translate(1222.60,478.20) scale(1.000,1.100)" font-size="19.9" text-anchor="end" fill="#1a1a1a" stroke="#1a1a1a" stroke-width="0.3">HALLMARK ESTROGEN RESPONSE</text>
<text transform="translate(1222.60,499.40) scale(1.000,1.100)" font-size="19.9" text-anchor="end" fill="#1a1a1a" stroke="#1a1a1a" stroke-width="0.3">EARLY</text>
<line x1="1222.40" y1="518.24" x2="1227.10" y2="518.24" stroke="#4d4d4d" stroke-width="2.0"/>
<text transform="translate(1222.60,518.00) scale(1.000,1.100)" font-size="19.9" text-anchor="end" fill="#1a1a1a" stroke="#1a1a1a" stroke-width="0.3">HALLMARK EPITHELIAL</text>
<text transform="translate(1222.60,539.50) scale(1.000,1.100)" font-size="19.9" text-anchor="end" fill="#1a1a1a" stroke="#1a1a1a" stroke-width="0.3">MESENCHYMAL TRANSITION</text>
<line x1="1222.40" y1="555.08" x2="1227.10" y2="555.08" stroke="#4d4d4d" stroke-width="2.0"/>
<text transform="translate(1222.60,563.00) scale(1.000,1.100)" font-size="19.9" text-anchor="end" fill="#1a1a1a" stroke="#1a1a1a" stroke-width="0.3">HALLMARK INFLAMMATORY RESPONSE</text>
<line x1="1222.40" y1="591.92" x2="1227.10" y2="591.92" stroke="#4d4d4d" stroke-width="2.0"/>
<text transform="translate(1222.60,587.60) scale(1.000,1.100)" font-size="19.9" text-anchor="end" fill="#1a1a1a" stroke="#1a1a1a" stroke-width="0.3">HALLMARK TNFA SIGNALING VIA</text>
<text transform="translate(1222.60,609.10) scale(1.000,1.100)" font-size="19.9" text-anchor="end" fill="#1a1a1a" stroke="#1a1a1a" stroke-width="0.3">NFKB</text>
<line x1="1222.40" y1="628.76" x2="1227.10" y2="628.76" stroke="#4d4d4d" stroke-width="2.0"/>
<text transform="translate(1222.60,636.96) scale(1.000,1.100)" font-size="19.9" text-anchor="end" fill="#1a1a1a" stroke="#1a1a1a" stroke-width="0.3">HALLMARK KRAS SIGNALING UP</text>
<line x1="1222.40" y1="665.60" x2="1227.10" y2="665.60" stroke="#4d4d4d" stroke-width="2.0"/>
<text transform="translate(1222.60,673.80) scale(1.000,1.100)" font-size="19.9" text-anchor="end" fill="#1a1a1a" stroke="#1a1a1a" stroke-width="0.3">HALLMARK ALLOGRAFT REJECTION</text>
<line x1="1222.40" y1="702.44" x2="1227.10" y2="702.44" stroke="#4d4d4d" stroke-width="2.0"/>
<text transform="translate(1222.60,710.64) scale(1.000,1.100)" font-size="19.9" text-anchor="end" fill="#1a1a1a" stroke="#1a1a1a" stroke-width="0.3">HALLMARK UV RESPONSE DN</text>
<line x1="1240.00" y1="723.50" x2="1240.00" y2="728.20" stroke="#4d4d4d" stroke-width="1.9"/>
<text transform="translate(1225.70,749.60) scale(1.000,1.200)" font-size="18.85" text-anchor="middle" fill="#262626" stroke="#262626" stroke-width="0.3">0.2</text>
<line x1="1269.85" y1="723.50" x2="1269.85" y2="728.20" stroke="#4d4d4d" stroke-width="1.9"/>
<text transform="translate(1260.40,749.60) scale(1.000,1.200)" font-size="18.85" text-anchor="middle" fill="#262626" stroke="#262626" stroke-width="0.3">0.3</text>
<line x1="1299.70" y1="723.50" x2="1299.70" y2="728.20" stroke="#4d4d4d" stroke-width="1.9"/>
<text transform="translate(1295.10,749.60) scale(1.000,1.200)" font-size="18.85" text-anchor="middle" fill="#262626" stroke="#262626" stroke-width="0.3">0.4</text>
<line x1="1329.55" y1="723.50" x2="1329.55" y2="728.20" stroke="#4d4d4d" stroke-width="1.9"/>
<text transform="translate(1330.00,749.60) scale(1.000,1.200)" font-size="18.85" text-anchor="middle" fill="#262626" stroke="#262626" stroke-width="0.3">0.5</text>
<line x1="1359.40" y1="723.50" x2="1359.40" y2="728.20" stroke="#4d4d4d" stroke-width="1.9"/>
<text transform="translate(1364.80,749.60) scale(1.000,1.200)" font-size="18.85" text-anchor="middle" fill="#262626" stroke="#262626" stroke-width="0.3">0.6</text>
<line x1="1405.60" y1="723.50" x2="1405.60" y2="728.20" stroke="#4d4d4d" stroke-width="1.9"/>
<text transform="translate(1400.20,749.60) scale(1.000,1.200)" font-size="18.85" text-anchor="middle" fill="#262626" stroke="#262626" stroke-width="0.3">0.2</text>
<line x1="1435.50" y1="723.50" x2="1435.50" y2="728.20" stroke="#4d4d4d" stroke-width="1.9"/>
<text transform="translate(1434.80,749.60) scale(1.000,1.200)" font-size="18.85" text-anchor="middle" fill="#262626" stroke="#262626" stroke-width="0.3">0.3</text>
<line x1="1465.40" y1="723.50" x2="1465.40" y2="728.20" stroke="#4d4d4d" stroke-width="1.9"/>
<text transform="translate(1469.70,749.60) scale(1.000,1.200)" font-size="18.85" text-anchor="middle" fill="#262626" stroke="#262626" stroke-width="0.3">0.4</text>
<line x1="1495.30" y1="723.50" x2="1495.30" y2="728.20" stroke="#4d4d4d" stroke-width="1.9"/>
<text transform="translate(1504.50,749.60) scale(1.000,1.200)" font-size="18.85" text-anchor="middle" fill="#262626" stroke="#262626" stroke-width="0.3">0.5</text>
<line x1="1525.20" y1="723.50" x2="1525.20" y2="728.20" stroke="#4d4d4d" stroke-width="1.9"/>
<text transform="translate(1539.60,749.60) scale(1.000,1.200)" font-size="18.85" text-anchor="middle" fill="#262626" stroke="#262626" stroke-width="0.3">0.6</text>
<text transform="translate(1409.40,774.00) scale(1.000,1.080)" font-size="25.2" text-anchor="middle" fill="#111" stroke="#111" stroke-width="0.3">GeneRatio</text>
<linearGradient id="gB" x1="0" y1="0" x2="0" y2="1"><stop offset="0" stop-color="#de6262"/><stop offset="1" stop-color="#347cb6"/></linearGradient>
<rect x="1575.40" y="258.10" width="24.40" height="138.70" fill="url(#gB)"/>
<line x1="1575.40" y1="295.20" x2="1580.40" y2="295.20" stroke="#ffffff" stroke-width="1.0" opacity="0.55"/>
<line x1="1594.80" y1="295.20" x2="1599.80" y2="295.20" stroke="#ffffff" stroke-width="1.0" opacity="0.55"/>
<text transform="translate(1608.10,301.50) scale(1.000,1.100)" font-size="19.7" text-anchor="start" fill="#1a1a1a" stroke="#1a1a1a" stroke-width="0.3">0.01</text>
<line x1="1575.40" y1="332.10" x2="1580.40" y2="332.10" stroke="#ffffff" stroke-width="1.0" opacity="0.55"/>
<line x1="1594.80" y1="332.10" x2="1599.80" y2="332.10" stroke="#ffffff" stroke-width="1.0" opacity="0.55"/>
<text transform="translate(1608.10,338.40) scale(1.000,1.100)" font-size="19.7" text-anchor="start" fill="#1a1a1a" stroke="#1a1a1a" stroke-width="0.3">0.02</text>
<line x1="1575.40" y1="368.80" x2="1580.40" y2="368.80" stroke="#ffffff" stroke-width="1.0" opacity="0.55"/>
<line x1="1594.80" y1="368.80" x2="1599.80" y2="368.80" stroke="#ffffff" stroke-width="1.0" opacity="0.55"/>
<text transform="translate(1608.10,375.10) scale(1.000,1.100)" font-size="19.7" text-anchor="start" fill="#1a1a1a" stroke="#1a1a1a" stroke-width="0.3">0.03</text>
<text transform="translate(1576.10,247.60) scale(1.000,1.100)" font-size="19.8" text-anchor="start" fill="#1a1a1a" stroke="#1a1a1a" stroke-width="0.3">p.adjust</text>
<text transform="translate(1575.80,445.20) scale(1.000,1.100)" font-size="19.4" text-anchor="start" fill="#1a1a1a" stroke="#1a1a1a" stroke-width="0.3">Count</text>
<ellipse cx="1591.30" cy="470.20" rx="7.80" ry="8.90" fill="#fff" stroke="#504a4a" stroke-width="1.5"/>
<text transform="translate(1615.80,476.20) scale(1.000,1.100)" font-size="19.7" text-anchor="start" fill="#1a1a1a" stroke="#1a1a1a" stroke-width="0.3">30</text>
<ellipse cx="1591.30" cy="498.30" rx="9.95" ry="11.05" fill="#fff" stroke="#504a4a" stroke-width="1.5"/>
<text transform="translate(1615.80,504.50) scale(1.000,1.100)" font-size="19.7" text-anchor="start" fill="#1a1a1a" stroke="#1a1a1a" stroke-width="0.3">60</text>
<ellipse cx="1591.30" cy="529.00" rx="11.10" ry="12.55" fill="#fff" stroke="#504a4a" stroke-width="1.5"/>
<text transform="translate(1615.80,535.10) scale(1.000,1.100)" font-size="19.7" text-anchor="start" fill="#1a1a1a" stroke="#1a1a1a" stroke-width="0.3">90</text>
<ellipse cx="1591.30" cy="563.50" rx="12.35" ry="14.00" fill="#fff" stroke="#504a4a" stroke-width="1.5"/>
<text transform="translate(1615.80,569.70) scale(1.000,1.100)" font-size="19.7" text-anchor="start" fill="#1a1a1a" stroke="#1a1a1a" stroke-width="0.3">120</text>
<rect x="2043.80" y="61.60" width="160.00" height="29.20" fill="#d9d9d9" stroke="#6e6e6e" stroke-width="1.4"/>
<text transform="translate(2126.00,82.92) scale(1.000,1.040)" font-size="19.9" text-anchor="middle" fill="#262626" stroke="#262626" stroke-width="0.3">activated</text>
<rect x="2211.80" y="61.60" width="160.80" height="29.20" fill="#d9d9d9" stroke="#6e6e6e" stroke-width="1.4"/>
<text transform="translate(2295.20,82.92) scale(1.000,1.040)" font-size="19.9" text-anchor="middle" fill="#262626" stroke="#262626" stroke-width="0.3">suppressed</text>
<rect x="2043.80" y="90.80" width="160.00" height="633.70" fill="#ffffff"/>
<line x1="2060.81" y1="90.80" x2="2060.81" y2="724.50" stroke="#f2f2f2" stroke-width="0.9"/>
<line x1="2090.03" y1="90.80" x2="2090.03" y2="724.50" stroke="#f2f2f2" stroke-width="0.9"/>
<line x1="2119.25" y1="90.80" x2="2119.25" y2="724.50" stroke="#f2f2f2" stroke-width="0.9"/>
<line x1="2148.47" y1="90.80" x2="2148.47" y2="724.50" stroke="#f2f2f2" stroke-width="0.9"/>
<line x1="2177.69" y1="90.80" x2="2177.69" y2="724.50" stroke="#f2f2f2" stroke-width="0.9"/>
<line x1="2206.91" y1="90.80" x2="2206.91" y2="724.50" stroke="#f2f2f2" stroke-width="0.9"/>
<line x1="2046.20" y1="90.80" x2="2046.20" y2="724.50" stroke="#ebebeb" stroke-width="1.3"/>
<line x1="2075.42" y1="90.80" x2="2075.42" y2="724.50" stroke="#ebebeb" stroke-width="1.3"/>
<line x1="2104.64" y1="90.80" x2="2104.64" y2="724.50" stroke="#ebebeb" stroke-width="1.3"/>
<line x1="2133.86" y1="90.80" x2="2133.86" y2="724.50" stroke="#ebebeb" stroke-width="1.3"/>
<line x1="2163.08" y1="90.80" x2="2163.08" y2="724.50" stroke="#ebebeb" stroke-width="1.3"/>
<line x1="2192.30" y1="90.80" x2="2192.30" y2="724.50" stroke="#ebebeb" stroke-width="1.3"/>
<line x1="2043.80" y1="108.70" x2="2203.80" y2="108.70" stroke="#ebebeb" stroke-width="1.5"/>
<line x1="2043.80" y1="140.16" x2="2203.80" y2="140.16" stroke="#ebebeb" stroke-width="1.5"/>
<line x1="2043.80" y1="171.62" x2="2203.80" y2="171.62" stroke="#ebebeb" stroke-width="1.5"/>
<line x1="2043.80" y1="203.08" x2="2203.80" y2="203.08" stroke="#ebebeb" stroke-width="1.5"/>
<line x1="2043.80" y1="234.54" x2="2203.80" y2="234.54" stroke="#ebebeb" stroke-width="1.5"/>
<line x1="2043.80" y1="266.00" x2="2203.80" y2="266.00" stroke="#ebebeb" stroke-width="1.5"/>
<line x1="2043.80" y1="297.46" x2="2203.80" y2="297.46" stroke="#ebebeb" stroke-width="1.5"/>
<line x1="2043.80" y1="328.92" x2="2203.80" y2="328.92" stroke="#ebebeb" stroke-width="1.5"/>
<line x1="2043.80" y1="360.38" x2="2203.80" y2="360.38" stroke="#ebebeb" stroke-width="1.5"/>
<line x1="2043.80" y1="391.84" x2="2203.80" y2="391.84" stroke="#ebebeb" stroke-width="1.5"/>
<line x1="2043.80" y1="423.30" x2="2203.80" y2="423.30" stroke="#ebebeb" stroke-width="1.5"/>
<line x1="2043.80" y1="454.76" x2="2203.80" y2="454.76" stroke="#ebebeb" stroke-width="1.5"/>
<line x1="2043.80" y1="486.22" x2="2203.80" y2="486.22" stroke="#ebebeb" stroke-width="1.5"/>
<line x1="2043.80" y1="517.68" x2="2203.80" y2="517.68" stroke="#ebebeb" stroke-width="1.5"/>
<line x1="2043.80" y1="549.14" x2="2203.80" y2="549.14" stroke="#ebebeb" stroke-width="1.5"/>
<line x1="2043.80" y1="580.60" x2="2203.80" y2="580.60" stroke="#ebebeb" stroke-width="1.5"/>
<line x1="2043.80" y1="612.06" x2="2203.80" y2="612.06" stroke="#ebebeb" stroke-width="1.5"/>
<line x1="2043.80" y1="643.52" x2="2203.80" y2="643.52" stroke="#ebebeb" stroke-width="1.5"/>
<line x1="2043.80" y1="674.98" x2="2203.80" y2="674.98" stroke="#ebebeb" stroke-width="1.5"/>
<line x1="2043.80" y1="706.44" x2="2203.80" y2="706.44" stroke="#ebebeb" stroke-width="1.5"/>
<rect x="2211.80" y="90.80" width="160.80" height="633.70" fill="#ffffff"/>
<line x1="2229.55" y1="90.80" x2="2229.55" y2="724.50" stroke="#f2f2f2" stroke-width="0.9"/>
<line x1="2258.85" y1="90.80" x2="2258.85" y2="724.50" stroke="#f2f2f2" stroke-width="0.9"/>
<line x1="2288.15" y1="90.80" x2="2288.15" y2="724.50" stroke="#f2f2f2" stroke-width="0.9"/>
<line x1="2317.45" y1="90.80" x2="2317.45" y2="724.50" stroke="#f2f2f2" stroke-width="0.9"/>
<line x1="2346.75" y1="90.80" x2="2346.75" y2="724.50" stroke="#f2f2f2" stroke-width="0.9"/>
<line x1="2376.05" y1="90.80" x2="2376.05" y2="724.50" stroke="#f2f2f2" stroke-width="0.9"/>
<line x1="2214.90" y1="90.80" x2="2214.90" y2="724.50" stroke="#ebebeb" stroke-width="1.3"/>
<line x1="2244.20" y1="90.80" x2="2244.20" y2="724.50" stroke="#ebebeb" stroke-width="1.3"/>
<line x1="2273.50" y1="90.80" x2="2273.50" y2="724.50" stroke="#ebebeb" stroke-width="1.3"/>
<line x1="2302.80" y1="90.80" x2="2302.80" y2="724.50" stroke="#ebebeb" stroke-width="1.3"/>
<line x1="2332.10" y1="90.80" x2="2332.10" y2="724.50" stroke="#ebebeb" stroke-width="1.3"/>
<line x1="2361.40" y1="90.80" x2="2361.40" y2="724.50" stroke="#ebebeb" stroke-width="1.3"/>
<line x1="2211.80" y1="108.70" x2="2372.60" y2="108.70" stroke="#ebebeb" stroke-width="1.5"/>
<line x1="2211.80" y1="140.16" x2="2372.60" y2="140.16" stroke="#ebebeb" stroke-width="1.5"/>
<line x1="2211.80" y1="171.62" x2="2372.60" y2="171.62" stroke="#ebebeb" stroke-width="1.5"/>
<line x1="2211.80" y1="203.08" x2="2372.60" y2="203.08" stroke="#ebebeb" stroke-width="1.5"/>
<line x1="2211.80" y1="234.54" x2="2372.60" y2="234.54" stroke="#ebebeb" stroke-width="1.5"/>
<line x1="2211.80" y1="266.00" x2="2372.60" y2="266.00" stroke="#ebebeb" stroke-width="1.5"/>
<line x1="2211.80" y1="297.46" x2="2372.60" y2="297.46" stroke="#ebebeb" stroke-width="1.5"/>
<line x1="2211.80" y1="328.92" x2="2372.60" y2="328.92" stroke="#ebebeb" stroke-width="1.5"/>
<line x1="2211.80" y1="360.38" x2="2372.60" y2="360.38" stroke="#ebebeb" stroke-width="1.5"/>
<line x1="2211.80" y1="391.84" x2="2372.60" y2="391.84" stroke="#ebebeb" stroke-width="1.5"/>
<line x1="2211.80" y1="423.30" x2="2372.60" y2="423.30" stroke="#ebebeb" stroke-width="1.5"/>
<line x1="2211.80" y1="454.76" x2="2372.60" y2="454.76" stroke="#ebebeb" stroke-width="1.5"/>
<line x1="2211.80" y1="486.22" x2="2372.60" y2="486.22" stroke="#ebebeb" stroke-width="1.5"/>
<line x1="2211.80" y1="517.68" x2="2372.60" y2="517.68" stroke="#ebebeb" stroke-width="1.5"/>
<line x1="2211.80" y1="549.14" x2="2372.60" y2="549.14" stroke="#ebebeb" stroke-width="1.5"/>
<line x1="2211.80" y1="580.60" x2="2372.60" y2="580.60" stroke="#ebebeb" stroke-width="1.5"/>
<line x1="2211.80" y1="612.06" x2="2372.60" y2="612.06" stroke="#ebebeb" stroke-width="1.5"/>
<line x1="2211.80" y1="643.52" x2="2372.60" y2="643.52" stroke="#ebebeb" stroke-width="1.5"/>
<line x1="2211.80" y1="674.98" x2="2372.60" y2="674.98" stroke="#ebebeb" stroke-width="1.5"/>
<line x1="2211.80" y1="706.44" x2="2372.60" y2="706.44" stroke="#ebebeb" stroke-width="1.5"/>
<clipPath id="c5"><rect x="2043.8" y="90.8" width="160.00000000000023" height="633.7"/></clipPath>
<g clip-path="url(#c5)">
<ellipse cx="2196.50" cy="108.90" rx="12.30" ry="13.80" fill="#dc6464" stroke="#2e2424" stroke-width="1.3"/>
<ellipse cx="2142.90" cy="266.20" rx="11.05" ry="11.90" fill="#dc6464" stroke="#2e2424" stroke-width="1.3"/>
<ellipse cx="2142.40" cy="297.60" rx="11.05" ry="12.45" fill="#dc6464" stroke="#2e2424" stroke-width="1.3"/>
<ellipse cx="2136.60" cy="329.30" rx="10.80" ry="12.15" fill="#dc6464" stroke="#2e2424" stroke-width="1.3"/>
<ellipse cx="2134.10" cy="361.00" rx="10.50" ry="11.90" fill="#dc6464" stroke="#2e2424" stroke-width="1.3"/>
<ellipse cx="2120.60" cy="392.10" rx="8.60" ry="9.40" fill="#dc6464" stroke="#2e2424" stroke-width="1.3"/>
<ellipse cx="2114.80" cy="423.70" rx="9.95" ry="11.05" fill="#dc6464" stroke="#2e2424" stroke-width="1.3"/>
<ellipse cx="2106.30" cy="454.80" rx="8.05" ry="9.15" fill="#dc6464" stroke="#2e2424" stroke-width="1.3"/>
<ellipse cx="2105.50" cy="486.50" rx="9.40" ry="10.50" fill="#dc6464" stroke="#2e2424" stroke-width="1.3"/>
<ellipse cx="2102.40" cy="517.90" rx="9.15" ry="10.50" fill="#dc6464" stroke="#2e2424" stroke-width="1.3"/>
</g>
<clipPath id="c6"><rect x="2211.8" y="90.8" width="160.79999999999973" height="633.7"/></clipPath>
<g clip-path="url(#c6)">
<ellipse cx="2349.50" cy="140.30" rx="5.00" ry="5.55" fill="#dc6464" stroke="#2e2424" stroke-width="1.3"/>
<ellipse cx="2346.50" cy="171.90" rx="11.90" ry="13.40" fill="#dc6464" stroke="#2e2424" stroke-width="1.3"/>
<ellipse cx="2335.20" cy="203.40" rx="11.60" ry="13.00" fill="#dc6464" stroke="#2e2424" stroke-width="1.3"/>
<ellipse cx="2320.90" cy="234.80" rx="11.05" ry="12.45" fill="#dc6464" stroke="#2e2424" stroke-width="1.3"/>
<ellipse cx="2266.30" cy="549.00" rx="9.40" ry="10.80" fill="#dc6464" stroke="#2e2424" stroke-width="1.3"/>
<ellipse cx="2266.00" cy="580.70" rx="9.15" ry="10.50" fill="#dc6464" stroke="#2e2424" stroke-width="1.3"/>
<ellipse cx="2265.80" cy="612.40" rx="9.40" ry="10.80" fill="#8676a4" stroke="#2e2424" stroke-width="1.3"/>
<ellipse cx="2256.10" cy="643.50" rx="7.50" ry="8.30" fill="#327eba" stroke="#2e2424" stroke-width="1.3"/>
<ellipse cx="2243.20" cy="675.20" rx="7.75" ry="9.15" fill="#327eba" stroke="#2e2424" stroke-width="1.3"/>
<ellipse cx="2219.20" cy="706.60" rx="6.40" ry="6.95" fill="#dc6464" stroke="#2e2424" stroke-width="1.3"/>
</g>
<rect x="2043.80" y="90.80" width="160.00" height="633.70" fill="none" stroke="#8c8c8c" stroke-width="1.5"/>
<line x1="2043.10" y1="90.80" x2="2204.50" y2="90.80" stroke="#5f5f5f" stroke-width="2.0"/>
<rect x="2211.80" y="90.80" width="160.80" height="633.70" fill="none" stroke="#8c8c8c" stroke-width="1.5"/>
<line x1="2211.10" y1="90.80" x2="2373.30" y2="90.80" stroke="#5f5f5f" stroke-width="2.0"/>
<line x1="2038.60" y1="108.70" x2="2043.30" y2="108.70" stroke="#4d4d4d" stroke-width="2.0"/>
<text transform="translate(2036.10,105.20) scale(1.000,1.100)" font-size="20.1" text-anchor="end" fill="#1a1a1a" stroke="#1a1a1a" stroke-width="0.3">HALLMARK EPITHELIAL</text>
<text transform="translate(2036.10,126.40) scale(1.000,1.100)" font-size="20.1" text-anchor="end" fill="#1a1a1a" stroke="#1a1a1a" stroke-width="0.3">MESENCHYMAL TRANSITION</text>
<line x1="2038.60" y1="140.16" x2="2043.30" y2="140.16" stroke="#4d4d4d" stroke-width="2.0"/>
<text transform="translate(2036.10,148.76) scale(1.000,1.100)" font-size="20.1" text-anchor="end" fill="#1a1a1a" stroke="#1a1a1a" stroke-width="0.3">HALLMARK MYC TARGETS V2</text>
<line x1="2038.60" y1="171.62" x2="2043.30" y2="171.62" stroke="#4d4d4d" stroke-width="2.0"/>
<text transform="translate(2036.10,180.22) scale(1.000,1.100)" font-size="20.1" text-anchor="end" fill="#1a1a1a" stroke="#1a1a1a" stroke-width="0.3">HALLMARK E2F TARGETS</text>
<line x1="2038.60" y1="203.08" x2="2043.30" y2="203.08" stroke="#4d4d4d" stroke-width="2.0"/>
<text transform="translate(2036.10,211.68) scale(1.000,1.100)" font-size="20.1" text-anchor="end" fill="#1a1a1a" stroke="#1a1a1a" stroke-width="0.3">HALLMARK G2M CHECKPOINT</text>
<line x1="2038.60" y1="234.54" x2="2043.30" y2="234.54" stroke="#4d4d4d" stroke-width="2.0"/>
<text transform="translate(2036.10,243.14) scale(1.000,1.100)" font-size="20.1" text-anchor="end" fill="#1a1a1a" stroke="#1a1a1a" stroke-width="0.3">HALLMARK MYC TARGETS V1</text>
<line x1="2038.60" y1="266.00" x2="2043.30" y2="266.00" stroke="#4d4d4d" stroke-width="2.0"/>
<text transform="translate(2036.10,274.60) scale(1.000,1.100)" font-size="20.1" text-anchor="end" fill="#1a1a1a" stroke="#1a1a1a" stroke-width="0.3">HALLMARK ALLOGRAFT REJECTION</text>
<line x1="2038.60" y1="297.46" x2="2043.30" y2="297.46" stroke="#4d4d4d" stroke-width="2.0"/>
<text transform="translate(2036.10,306.06) scale(1.000,1.100)" font-size="20.1" text-anchor="end" fill="#1a1a1a" stroke="#1a1a1a" stroke-width="0.3">HALLMARK INFLAMMATORY RESPONSE</text>
<line x1="2038.60" y1="328.92" x2="2043.30" y2="328.92" stroke="#4d4d4d" stroke-width="2.0"/>
<text transform="translate(2036.10,337.52) scale(1.000,1.100)" font-size="20.1" text-anchor="end" fill="#1a1a1a" stroke="#1a1a1a" stroke-width="0.3">HALLMARK KRAS SIGNALING UP</text>
<line x1="2038.60" y1="360.38" x2="2043.30" y2="360.38" stroke="#4d4d4d" stroke-width="2.0"/>
<text transform="translate(2036.10,368.98) scale(1.000,1.100)" font-size="20.1" text-anchor="end" fill="#1a1a1a" stroke="#1a1a1a" stroke-width="0.3">HALLMARK APICAL JUNCTION</text>
<line x1="2038.60" y1="391.84" x2="2043.30" y2="391.84" stroke="#4d4d4d" stroke-width="2.0"/>
<text transform="translate(2036.10,400.44) scale(1.000,1.100)" font-size="20.1" text-anchor="end" fill="#1a1a1a" stroke="#1a1a1a" stroke-width="0.3">HALLMARK UV RESPONSE DN</text>
<line x1="2038.60" y1="423.30" x2="2043.30" y2="423.30" stroke="#4d4d4d" stroke-width="2.0"/>
<text transform="translate(2036.10,431.90) scale(1.000,1.100)" font-size="20.1" text-anchor="end" fill="#1a1a1a" stroke="#1a1a1a" stroke-width="0.3">HALLMARK HYPOXIA</text>
<line x1="2038.60" y1="454.76" x2="2043.30" y2="454.76" stroke="#4d4d4d" stroke-width="2.0"/>
<text transform="translate(2036.10,463.36) scale(1.000,1.100)" font-size="20.1" text-anchor="end" fill="#1a1a1a" stroke="#1a1a1a" stroke-width="0.3">HALLMARK COAGULATION</text>
<line x1="2038.60" y1="486.22" x2="2043.30" y2="486.22" stroke="#4d4d4d" stroke-width="2.0"/>
<text transform="translate(2036.10,494.82) scale(1.000,1.100)" font-size="20.1" text-anchor="end" fill="#1a1a1a" stroke="#1a1a1a" stroke-width="0.3">HALLMARK COMPLEMENT</text>
<line x1="2038.60" y1="517.68" x2="2043.30" y2="517.68" stroke="#4d4d4d" stroke-width="2.0"/>
<text transform="translate(2036.10,521.20) scale(1.000,1.100)" font-size="20.1" text-anchor="end" fill="#1a1a1a" stroke="#1a1a1a" stroke-width="0.3">HALLMARK MYOGENESIS</text>
<line x1="2038.60" y1="549.14" x2="2043.30" y2="549.14" stroke="#4d4d4d" stroke-width="2.0"/>
<text transform="translate(2036.10,544.20) scale(1.000,1.100)" font-size="20.1" text-anchor="end" fill="#1a1a1a" stroke="#1a1a1a" stroke-width="0.3">HALLMARK ESTROGEN RESPONSE</text>
<text transform="translate(2036.10,560.80) scale(1.000,1.100)" font-size="20.1" text-anchor="end" fill="#1a1a1a" stroke="#1a1a1a" stroke-width="0.3">EARLY</text>
<line x1="2038.60" y1="580.60" x2="2043.30" y2="580.60" stroke="#4d4d4d" stroke-width="2.0"/>
<text transform="translate(2036.10,587.60) scale(1.000,1.100)" font-size="20.1" text-anchor="end" fill="#1a1a1a" stroke="#1a1a1a" stroke-width="0.3">HALLMARK ESTROGEN RESPONSE</text>
<line x1="2038.60" y1="612.06" x2="2043.30" y2="612.06" stroke="#4d4d4d" stroke-width="2.0"/>
<text transform="translate(2036.10,609.00) scale(1.000,1.100)" font-size="20.1" text-anchor="end" fill="#1a1a1a" stroke="#1a1a1a" stroke-width="0.3">HALLMARK OXIDATIVE</text>
<text transform="translate(2036.10,629.20) scale(1.000,1.100)" font-size="20.1" text-anchor="end" fill="#1a1a1a" stroke="#1a1a1a" stroke-width="0.3">PHOSPHORYLATION</text>
<line x1="2038.60" y1="643.52" x2="2043.30" y2="643.52" stroke="#4d4d4d" stroke-width="2.0"/>
<text transform="translate(2036.10,652.12) scale(1.000,1.100)" font-size="20.1" text-anchor="end" fill="#1a1a1a" stroke="#1a1a1a" stroke-width="0.3">HALLMARK DNA REPAIR</text>
<line x1="2038.60" y1="674.98" x2="2043.30" y2="674.98" stroke="#4d4d4d" stroke-width="2.0"/>
<text transform="translate(2036.10,683.58) scale(1.000,1.100)" font-size="20.1" text-anchor="end" fill="#1a1a1a" stroke="#1a1a1a" stroke-width="0.3">HALLMARK MITOTIC SPINDLE</text>
<line x1="2038.60" y1="706.44" x2="2043.30" y2="706.44" stroke="#4d4d4d" stroke-width="2.0"/>
<text transform="translate(2036.10,715.04) scale(1.000,1.100)" font-size="20.1" text-anchor="end" fill="#1a1a1a" stroke="#1a1a1a" stroke-width="0.3">HALLMARK KRAS SIGNALING DN</text>
<line x1="2046.20" y1="725.00" x2="2046.20" y2="729.70" stroke="#4d4d4d" stroke-width="1.9"/>
<text transform="translate(2042.80,746.70) scale(1.000,1.160)" font-size="16.4" text-anchor="middle" fill="#262626" stroke="#262626" stroke-width="0.3">0.2</text>
<line x1="2075.42" y1="725.00" x2="2075.42" y2="729.70" stroke="#4d4d4d" stroke-width="1.9"/>
<text transform="translate(2072.02,746.70) scale(1.000,1.160)" font-size="16.4" text-anchor="middle" fill="#262626" stroke="#262626" stroke-width="0.3">0.3</text>
<line x1="2104.64" y1="725.00" x2="2104.64" y2="729.70" stroke="#4d4d4d" stroke-width="1.9"/>
<text transform="translate(2101.24,746.70) scale(1.000,1.160)" font-size="16.4" text-anchor="middle" fill="#262626" stroke="#262626" stroke-width="0.3">0.4</text>
<line x1="2133.86" y1="725.00" x2="2133.86" y2="729.70" stroke="#4d4d4d" stroke-width="1.9"/>
<text transform="translate(2130.46,746.70) scale(1.000,1.160)" font-size="16.4" text-anchor="middle" fill="#262626" stroke="#262626" stroke-width="0.3">0.5</text>
<line x1="2163.08" y1="725.00" x2="2163.08" y2="729.70" stroke="#4d4d4d" stroke-width="1.9"/>
<text transform="translate(2159.68,746.70) scale(1.000,1.160)" font-size="16.4" text-anchor="middle" fill="#262626" stroke="#262626" stroke-width="0.3">0.6</text>
<line x1="2192.30" y1="725.00" x2="2192.30" y2="729.70" stroke="#4d4d4d" stroke-width="1.9"/>
<text transform="translate(2188.90,746.70) scale(1.000,1.160)" font-size="16.4" text-anchor="middle" fill="#262626" stroke="#262626" stroke-width="0.3">0.7</text>
<line x1="2214.90" y1="725.00" x2="2214.90" y2="729.70" stroke="#4d4d4d" stroke-width="1.9"/>
<text transform="translate(2217.20,744.50) scale(1.000,1.160)" font-size="16.4" text-anchor="middle" fill="#262626" stroke="#262626" stroke-width="0.3">0.2</text>
<line x1="2244.20" y1="725.00" x2="2244.20" y2="729.70" stroke="#4d4d4d" stroke-width="1.9"/>
<text transform="translate(2246.50,744.50) scale(1.000,1.160)" font-size="16.4" text-anchor="middle" fill="#262626" stroke="#262626" stroke-width="0.3">0.3</text>
<line x1="2273.50" y1="725.00" x2="2273.50" y2="729.70" stroke="#4d4d4d" stroke-width="1.9"/>
<text transform="translate(2275.80,744.50) scale(1.000,1.160)" font-size="16.4" text-anchor="middle" fill="#262626" stroke="#262626" stroke-width="0.3">0.4</text>
<line x1="2302.80" y1="725.00" x2="2302.80" y2="729.70" stroke="#4d4d4d" stroke-width="1.9"/>
<text transform="translate(2305.10,744.50) scale(1.000,1.160)" font-size="16.4" text-anchor="middle" fill="#262626" stroke="#262626" stroke-width="0.3">0.5</text>
<line x1="2332.10" y1="725.00" x2="2332.10" y2="729.70" stroke="#4d4d4d" stroke-width="1.9"/>
<text transform="translate(2334.40,744.50) scale(1.000,1.160)" font-size="16.4" text-anchor="middle" fill="#262626" stroke="#262626" stroke-width="0.3">0.6</text>
<line x1="2361.40" y1="725.00" x2="2361.40" y2="729.70" stroke="#4d4d4d" stroke-width="1.9"/>
<text transform="translate(2363.70,744.50) scale(1.000,1.160)" font-size="16.4" text-anchor="middle" fill="#262626" stroke="#262626" stroke-width="0.3">0.7</text>
<text transform="translate(2220.50,771.20) scale(1.000,1.080)" font-size="25.3" text-anchor="middle" fill="#111" stroke="#111" stroke-width="0.3">GeneRatio</text>
<linearGradient id="gC" x1="0" y1="0" x2="0" y2="1"><stop offset="0" stop-color="#de6262"/><stop offset="1" stop-color="#347cb6"/></linearGradient>
<rect x="2395.70" y="227.40" width="24.40" height="139.40" fill="url(#gC)"/>
<line x1="2395.70" y1="274.10" x2="2400.70" y2="274.10" stroke="#ffffff" stroke-width="1.0" opacity="0.55"/>
<line x1="2415.10" y1="274.10" x2="2420.10" y2="274.10" stroke="#ffffff" stroke-width="1.0" opacity="0.55"/>
<text transform="translate(2428.70,280.40) scale(1.000,1.100)" font-size="19.7" text-anchor="start" fill="#1a1a1a" stroke="#1a1a1a" stroke-width="0.3">0.01</text>
<line x1="2395.70" y1="319.40" x2="2400.70" y2="319.40" stroke="#ffffff" stroke-width="1.0" opacity="0.55"/>
<line x1="2415.10" y1="319.40" x2="2420.10" y2="319.40" stroke="#ffffff" stroke-width="1.0" opacity="0.55"/>
<text transform="translate(2428.70,325.70) scale(1.000,1.100)" font-size="19.7" text-anchor="start" fill="#1a1a1a" stroke="#1a1a1a" stroke-width="0.3">0.02</text>
<line x1="2395.70" y1="364.40" x2="2400.70" y2="364.40" stroke="#ffffff" stroke-width="1.0" opacity="0.55"/>
<line x1="2415.10" y1="364.40" x2="2420.10" y2="364.40" stroke="#ffffff" stroke-width="1.0" opacity="0.55"/>
<text transform="translate(2428.70,370.70) scale(1.000,1.100)" font-size="19.7" text-anchor="start" fill="#1a1a1a" stroke="#1a1a1a" stroke-width="0.3">0.03</text>
<text transform="translate(2396.10,216.60) scale(1.000,1.100)" font-size="19.8" text-anchor="start" fill="#1a1a1a" stroke="#1a1a1a" stroke-width="0.3">p.adjust</text>
<text transform="translate(2396.30,414.90) scale(1.000,1.100)" font-size="19.4" text-anchor="start" fill="#1a1a1a" stroke="#1a1a1a" stroke-width="0.3">Count</text>
<ellipse cx="2411.60" cy="440.40" rx="6.10" ry="6.90" fill="#fff" stroke="#504a4a" stroke-width="1.5"/>
<text transform="translate(2436.00,446.30) scale(1.000,1.100)" font-size="19.7" text-anchor="start" fill="#1a1a1a" stroke="#1a1a1a" stroke-width="0.3">40</text>
<ellipse cx="2411.60" cy="468.20" rx="8.55" ry="9.40" fill="#fff" stroke="#504a4a" stroke-width="1.5"/>
<text transform="translate(2436.00,474.10) scale(1.000,1.100)" font-size="19.7" text-anchor="start" fill="#1a1a1a" stroke="#1a1a1a" stroke-width="0.3">60</text>
<ellipse cx="2411.60" cy="496.30" rx="9.90" ry="10.70" fill="#fff" stroke="#504a4a" stroke-width="1.5"/>
<text transform="translate(2436.00,502.00) scale(1.000,1.100)" font-size="19.7" text-anchor="start" fill="#1a1a1a" stroke="#1a1a1a" stroke-width="0.3">80</text>
<ellipse cx="2411.60" cy="526.40" rx="11.00" ry="12.20" fill="#fff" stroke="#504a4a" stroke-width="1.5"/>
<text transform="translate(2436.00,532.30) scale(1.000,1.100)" font-size="19.7" text-anchor="start" fill="#1a1a1a" stroke="#1a1a1a" stroke-width="0.3">100</text>
<ellipse cx="2411.60" cy="559.10" rx="11.70" ry="12.90" fill="#fff" stroke="#504a4a" stroke-width="1.5"/>
<text transform="translate(2436.00,564.80) scale(1.000,1.100)" font-size="19.7" text-anchor="start" fill="#1a1a1a" stroke="#1a1a1a" stroke-width="0.3">120</text>
<ellipse cx="2411.60" cy="594.50" rx="12.70" ry="13.90" fill="#fff" stroke="#504a4a" stroke-width="1.5"/>
<text transform="translate(2436.00,599.80) scale(1.000,1.100)" font-size="19.7" text-anchor="start" fill="#1a1a1a" stroke="#1a1a1a" stroke-width="0.3">140</text>
<line x1="165.00" y1="829.30" x2="165.00" y2="1055.80" stroke="#efefef" stroke-width="1.0"/>
<line x1="165.00" y1="1137.50" x2="165.00" y2="1288.00" stroke="#efefef" stroke-width="1.0"/>
<line x1="290.00" y1="829.30" x2="290.00" y2="1055.80" stroke="#efefef" stroke-width="1.0"/>
<line x1="290.00" y1="1137.50" x2="290.00" y2="1288.00" stroke="#efefef" stroke-width="1.0"/>
<line x1="414.60" y1="829.30" x2="414.60" y2="1055.80" stroke="#efefef" stroke-width="1.0"/>
<line x1="414.60" y1="1137.50" x2="414.60" y2="1288.00" stroke="#efefef" stroke-width="1.0"/>
<line x1="539.00" y1="829.30" x2="539.00" y2="1055.80" stroke="#efefef" stroke-width="1.0"/>
<line x1="539.00" y1="1137.50" x2="539.00" y2="1288.00" stroke="#efefef" stroke-width="1.0"/>
<line x1="663.20" y1="829.30" x2="663.20" y2="1055.80" stroke="#efefef" stroke-width="1.0"/>
<line x1="663.20" y1="1137.50" x2="663.20" y2="1288.00" stroke="#efefef" stroke-width="1.0"/>
<line x1="787.70" y1="829.30" x2="787.70" y2="1055.80" stroke="#efefef" stroke-width="1.0"/>
<line x1="787.70" y1="1137.50" x2="787.70" y2="1288.00" stroke="#efefef" stroke-width="1.0"/>
<line x1="40.70" y1="829.30" x2="40.70" y2="1055.80" stroke="#858585" stroke-width="1.6"/>
<line x1="38.10" y1="877.50" x2="40.70" y2="877.50" stroke="#777" stroke-width="1.0"/>
<text transform="translate(37.50,881.40) scale(1.000,1.000)" font-size="10.8" text-anchor="end" fill="#6a6a6a" stroke="#6a6a6a" stroke-width="0.3">0.6</text>
<line x1="38.10" y1="933.80" x2="40.70" y2="933.80" stroke="#777" stroke-width="1.0"/>
<text transform="translate(37.50,937.70) scale(1.000,1.000)" font-size="10.8" text-anchor="end" fill="#6a6a6a" stroke="#6a6a6a" stroke-width="0.3">0.4</text>
<line x1="38.10" y1="990.00" x2="40.70" y2="990.00" stroke="#777" stroke-width="1.0"/>
<text transform="translate(37.50,993.90) scale(1.000,1.000)" font-size="10.8" text-anchor="end" fill="#6a6a6a" stroke="#6a6a6a" stroke-width="0.3">0.2</text>
<line x1="38.10" y1="1046.00" x2="40.70" y2="1046.00" stroke="#777" stroke-width="1.0"/>
<text transform="translate(37.50,1049.90) scale(1.000,1.000)" font-size="10.8" text-anchor="end" fill="#6a6a6a" stroke="#6a6a6a" stroke-width="0.3">0.0</text>
<text transform="translate(18.20,949.60) scale(1.000,1.228) rotate(-90)" font-size="12.7" text-anchor="middle" fill="#1c1c1c" stroke="#1c1c1c" stroke-width="0.2">Running Enrichment Score</text>
<path d="M40.7,1046.0 L41.5,1030.0 L43.7,1001.7 L46.7,983.3 L50.0,970.0 L52.5,962.6 L55.0,955.0 L57.5,944.2 L59.6,939.9 L61.7,935.0 L65.0,920.0 L68.3,910.0 L70.8,905.7 L73.3,900.8 L76.7,892.5 L80.0,890.0 L82.5,876.7 L85.0,875.5 L87.5,873.6 L90.0,871.7 L92.2,870.5 L94.5,867.8 L96.7,866.7 L100.0,860.0 L102.5,859.1 L105.0,858.3 L106.7,854.2 L108.9,855.2 L111.1,855.4 L113.3,855.8 L115.0,852.0 L117.5,853.0 L120.0,846.7 L123.3,844.7 L125.8,845.4 L128.3,845.3 L131.2,842.6 L134.2,840.8 L136.2,841.0 L138.3,841.3 L140.4,840.2 L142.5,839.7 L144.6,840.3 L146.7,840.9 L148.8,840.8 L150.8,841.6 L152.9,842.2 L155.0,843.0 L157.0,843.7 L159.0,843.8 L161.0,843.3 L163.0,844.3 L165.0,844.2 L167.5,843.4 L170.0,843.3 L172.5,840.8 L174.6,841.5 L176.7,841.6 L178.8,842.1 L180.8,843.7 L182.9,843.6 L185.0,844.5 L187.5,844.3 L190.0,845.2 L192.5,844.7 L194.5,845.6 L196.6,845.4 L198.6,846.7 L200.7,846.7 L202.7,847.3 L204.8,847.3 L206.8,848.6 L208.9,848.8 L210.9,849.5 L213.0,850.0 L215.0,850.0 L217.0,850.2 L219.1,850.8 L221.1,851.0 L223.1,851.5 L225.2,851.9 L227.2,852.6 L229.2,853.4 L231.3,853.2 L233.3,854.2 L235.3,854.9 L237.3,855.0 L239.3,855.5 L241.3,856.6 L243.3,856.7 L245.3,857.0 L247.3,857.7 L249.3,858.4 L251.3,858.2 L253.3,859.2 L255.5,860.6 L257.8,860.3 L260.0,862.0 L262.2,862.9 L264.5,862.8 L266.7,864.2 L268.8,865.0 L270.9,865.1 L273.1,865.9 L275.2,865.8 L277.3,866.3 L279.4,867.0 L281.5,868.4 L283.6,868.1 L285.8,869.2 L287.9,869.9 L290.0,870.0 L292.1,871.2 L294.1,871.3 L296.2,872.1 L298.2,873.0 L300.3,874.1 L302.4,874.1 L304.4,875.5 L306.5,876.3 L308.6,877.2 L310.6,877.0 L312.7,878.8 L314.7,878.6 L316.8,879.6 L318.9,880.7 L320.9,881.7 L323.0,881.9 L325.1,883.3 L327.1,883.6 L329.2,884.1 L331.2,884.8 L333.3,885.8 L335.3,886.1 L337.3,886.7 L339.4,887.5 L341.4,888.8 L343.4,889.8 L345.4,889.6 L347.4,890.2 L349.4,891.9 L351.5,892.1 L353.5,892.6 L355.5,893.1 L357.5,894.2 L359.5,895.2 L361.5,895.4 L363.6,896.1 L365.6,896.4 L367.6,898.0 L369.6,897.8 L371.6,899.0 L373.6,900.0 L375.7,899.9 L377.7,901.3 L379.7,902.2 L381.7,902.6 L383.7,903.4 L385.7,903.4 L387.8,904.4 L389.8,904.8 L391.8,906.3 L393.8,906.4 L395.8,907.2 L397.8,908.5 L399.9,909.0 L401.9,909.9 L403.9,910.0 L405.9,910.7 L407.9,911.7 L409.9,912.1 L412.0,912.6 L414.0,913.4 L416.0,914.2 L418.0,914.5 L420.0,915.5 L422.0,916.9 L424.0,917.6 L426.0,918.0 L428.0,918.6 L430.1,919.1 L432.1,919.6 L434.1,920.5 L436.1,921.8 L438.1,922.6 L440.1,922.8 L442.1,923.9 L444.1,924.7 L446.1,925.3 L448.1,926.0 L450.1,926.8 L452.1,927.1 L454.1,928.2 L456.2,928.5 L458.2,929.4 L460.2,930.5 L462.2,931.1 L464.2,931.4 L466.2,932.8 L468.2,933.2 L470.2,933.9 L472.2,934.0 L474.2,935.3 L476.2,935.7 L478.2,936.9 L480.2,937.4 L482.3,938.5 L484.3,939.0 L486.3,939.9 L488.3,940.2 L490.3,941.2 L492.3,942.0 L494.3,942.5 L496.3,943.5 L498.4,943.6 L500.4,944.8 L502.4,945.5 L504.5,945.9 L506.5,946.9 L508.5,947.5 L510.6,947.7 L512.6,948.3 L514.6,948.6 L516.6,950.0 L518.7,950.7 L520.7,950.9 L522.7,951.7 L524.8,952.4 L526.8,953.1 L528.8,953.1 L530.9,954.4 L532.9,954.9 L534.9,955.6 L537.0,956.0 L539.0,956.7 L541.1,957.5 L543.1,958.3 L545.2,958.8 L547.2,959.5 L549.3,959.4 L551.3,960.2 L553.4,961.2 L555.4,962.0 L557.5,962.2 L559.5,963.4 L561.6,963.9 L563.7,963.9 L565.7,965.1 L567.8,965.4 L569.8,965.9 L571.9,966.6 L573.9,967.5 L576.0,968.0 L578.0,968.6 L580.1,969.1 L582.2,970.2 L584.2,970.8 L586.3,971.7 L588.3,972.3 L590.4,972.5 L592.4,973.9 L594.5,973.6 L596.5,974.7 L598.6,975.2 L600.6,976.0 L602.7,976.7 L604.7,977.0 L606.7,978.5 L608.8,978.7 L610.8,979.1 L612.8,980.4 L614.8,980.6 L616.8,981.8 L618.8,982.3 L620.9,983.3 L622.9,984.4 L624.9,985.0 L626.9,985.3 L628.9,986.4 L630.9,986.9 L633.0,987.4 L635.0,987.8 L637.0,989.0 L639.0,989.7 L641.0,990.9 L643.0,991.6 L645.1,991.9 L647.1,992.4 L649.1,993.7 L651.1,993.4 L653.1,994.3 L655.1,995.5 L657.2,996.3 L659.2,996.5 L661.2,997.7 L663.2,998.3 L665.2,999.3 L667.2,999.4 L669.2,1000.1 L671.2,1000.5 L673.2,1001.2 L675.2,1002.5 L677.2,1002.5 L679.2,1003.7 L681.2,1004.3 L683.2,1004.6 L685.2,1004.8 L687.3,1006.2 L689.3,1006.3 L691.3,1006.9 L693.3,1007.4 L695.3,1008.7 L697.3,1008.8 L699.3,1009.2 L701.3,1010.0 L703.3,1010.2 L705.3,1011.4 L707.3,1011.8 L709.3,1012.5 L711.4,1012.9 L713.4,1014.0 L715.5,1014.7 L717.5,1014.4 L719.6,1015.5 L721.6,1015.9 L723.7,1017.2 L725.7,1017.6 L727.8,1017.6 L729.8,1018.2 L731.9,1018.7 L733.9,1020.2 L736.0,1020.3 L738.1,1019.5 L740.2,1019.2 L742.4,1020.1 L744.5,1020.6 L746.7,1021.6 L748.8,1022.2 L751.0,1023.1 L753.1,1023.2 L755.2,1024.6 L757.4,1024.8 L759.5,1025.8 L761.7,1026.4 L763.9,1027.0 L766.0,1028.0 L768.0,1028.7 L770.0,1029.2 L772.1,1029.7 L774.1,1030.8 L776.1,1031.2 L778.1,1031.2 L780.1,1032.1 L782.2,1032.9 L784.2,1034.1 L786.2,1034.6 L788.2,1034.9 L790.3,1034.9 L792.3,1036.4 L794.3,1036.7 L797.1,1037.2 L800.0,1037.8 L802.6,1037.9 L805.1,1038.2 L807.7,1038.0 L809.8,1038.9 L812.0,1039.4 L814.1,1040.6 L816.3,1040.7 L818.4,1041.5 L820.6,1042.7 L822.7,1043.0 L824.8,1043.1 L826.9,1043.6 L829.0,1044.2" fill="none" stroke="#cb2722" stroke-width="1.7" stroke-linejoin="round"/>
<text transform="translate(700.20,873.00) scale(1.000,1.070)" font-size="13.93" text-anchor="end" fill="#c92a26" stroke="#c92a26" stroke-width="0.4">HALLMARK_EPITHELIAL_MESENCHYMAL_TRANSITION</text>
<rect x="704.80" y="842.50" width="49.60" height="15.80" fill="#cbcbcb"/>
<rect x="755.20" y="842.50" width="50.00" height="15.80" fill="#cbcbcb"/>
<rect x="704.80" y="858.80" width="100.40" height="17.50" fill="#ededed"/>
<rect x="755.20" y="858.80" width="50.00" height="17.50" fill="#e4e4e4"/>
<text transform="translate(731.30,854.50) scale(1.000,1.120)" font-size="10.6" text-anchor="middle" fill="#111" font-weight="bold" stroke="#111" stroke-width="0.3">pvalue</text>
<text transform="translate(781.50,854.50) scale(1.000,1.120)" font-size="10.4" text-anchor="middle" fill="#111" font-weight="bold" stroke="#111" stroke-width="0.3">p.adjust</text>
<text transform="translate(730.40,871.90) scale(1.000,1.120)" font-size="10.6" text-anchor="middle" fill="#222" stroke="#222" stroke-width="0.3">7.254e-45</text>
<text transform="translate(780.40,871.90) scale(1.000,1.120)" font-size="10.6" text-anchor="middle" fill="#222" stroke="#222" stroke-width="0.3">3.627e-43</text>
<rect x="40.00" y="1112.00" width="10.30" height="22.30" fill="#9e2230"/>
<rect x="50.00" y="1112.00" width="403.30" height="22.30" fill="#d8403a"/>
<rect x="453.00" y="1112.00" width="200.80" height="22.30" fill="#ed745c"/>
<rect x="653.50" y="1112.00" width="84.80" height="22.30" fill="#f4b098"/>
<rect x="738.00" y="1112.00" width="35.30" height="22.30" fill="#fce6dc"/>
<rect x="773.00" y="1112.00" width="25.30" height="22.30" fill="#edf2fb"/>
<rect x="798.00" y="1112.00" width="15.80" height="22.30" fill="#bcd6e6"/>
<rect x="813.50" y="1112.00" width="14.50" height="22.30" fill="#74aed4"/>
<rect x="827.70" y="1112.00" width="2.00" height="22.30" fill="#3f84b8"/>
<line x1="40.60" y1="1059.20" x2="40.60" y2="1112.00" stroke="#000" stroke-width="1.12" opacity="1.00"/>
<line x1="40.60" y1="1112.00" x2="40.60" y2="1134.30" stroke="#000" stroke-width="1.12" opacity="0.070"/>
<line x1="41.58" y1="1059.20" x2="41.58" y2="1112.00" stroke="#000" stroke-width="1.12" opacity="1.00"/>
<line x1="41.58" y1="1112.00" x2="41.58" y2="1134.30" stroke="#000" stroke-width="1.12" opacity="0.070"/>
<line x1="42.42" y1="1059.20" x2="42.42" y2="1112.00" stroke="#000" stroke-width="1.12" opacity="0.69"/>
<line x1="42.42" y1="1112.00" x2="42.42" y2="1134.30" stroke="#000" stroke-width="1.12" opacity="0.048"/>
<line x1="43.34" y1="1059.20" x2="43.34" y2="1112.00" stroke="#000" stroke-width="1.12" opacity="0.69"/>
<line x1="43.34" y1="1112.00" x2="43.34" y2="1134.30" stroke="#000" stroke-width="1.12" opacity="0.048"/>
<line x1="44.05" y1="1059.20" x2="44.05" y2="1112.00" stroke="#000" stroke-width="1.12" opacity="0.69"/>
<line x1="44.05" y1="1112.00" x2="44.05" y2="1134.30" stroke="#000" stroke-width="1.12" opacity="0.048"/>
<line x1="45.01" y1="1059.20" x2="45.01" y2="1112.00" stroke="#000" stroke-width="1.12" opacity="0.87"/>
<line x1="45.01" y1="1112.00" x2="45.01" y2="1134.30" stroke="#000" stroke-width="1.12" opacity="0.061"/>
<line x1="45.58" y1="1059.20" x2="45.58" y2="1112.00" stroke="#000" stroke-width="1.12" opacity="1.00"/>
<line x1="45.58" y1="1112.00" x2="45.58" y2="1134.30" stroke="#000" stroke-width="1.12" opacity="0.070"/>
<line x1="46.32" y1="1059.20" x2="46.32" y2="1112.00" stroke="#000" stroke-width="1.12" opacity="0.87"/>
<line x1="46.32" y1="1112.00" x2="46.32" y2="1134.30" stroke="#000" stroke-width="1.12" opacity="0.061"/>
<line x1="46.91" y1="1059.20" x2="46.91" y2="1112.00" stroke="#000" stroke-width="1.12" opacity="1.00"/>
<line x1="46.91" y1="1112.00" x2="46.91" y2="1134.30" stroke="#000" stroke-width="1.12" opacity="0.070"/>
<line x1="47.49" y1="1059.20" x2="47.49" y2="1112.00" stroke="#000" stroke-width="1.12" opacity="0.69"/>
<line x1="47.49" y1="1112.00" x2="47.49" y2="1134.30" stroke="#000" stroke-width="1.12" opacity="0.048"/>
<line x1="48.46" y1="1059.20" x2="48.46" y2="1112.00" stroke="#000" stroke-width="1.12" opacity="0.69"/>
<line x1="48.46" y1="1112.00" x2="48.46" y2="1134.30" stroke="#000" stroke-width="1.12" opacity="0.048"/>
<line x1="49.27" y1="1059.20" x2="49.27" y2="1112.00" stroke="#000" stroke-width="1.12" opacity="1.00"/>
<line x1="49.27" y1="1112.00" x2="49.27" y2="1134.30" stroke="#000" stroke-width="1.12" opacity="0.070"/>
<line x1="49.84" y1="1059.20" x2="49.84" y2="1112.00" stroke="#000" stroke-width="1.12" opacity="0.87"/>
<line x1="49.84" y1="1112.00" x2="49.84" y2="1134.30" stroke="#000" stroke-width="1.12" opacity="0.061"/>
<line x1="50.41" y1="1059.20" x2="50.41" y2="1112.00" stroke="#000" stroke-width="1.12" opacity="0.87"/>
<line x1="50.41" y1="1112.00" x2="50.41" y2="1134.30" stroke="#000" stroke-width="1.12" opacity="0.061"/>
<line x1="51.10" y1="1059.20" x2="51.10" y2="1112.00" stroke="#000" stroke-width="1.12" opacity="0.87"/>
<line x1="51.10" y1="1112.00" x2="51.10" y2="1134.30" stroke="#000" stroke-width="1.12" opacity="0.061"/>
<line x1="51.89" y1="1059.20" x2="51.89" y2="1112.00" stroke="#000" stroke-width="1.12" opacity="1.00"/>
<line x1="51.89" y1="1112.00" x2="51.89" y2="1134.30" stroke="#000" stroke-width="1.12" opacity="0.070"/>
<line x1="52.69" y1="1059.20" x2="52.69" y2="1112.00" stroke="#000" stroke-width="1.12" opacity="0.87"/>
<line x1="52.69" y1="1112.00" x2="52.69" y2="1134.30" stroke="#000" stroke-width="1.12" opacity="0.061"/>
<line x1="53.29" y1="1059.20" x2="53.29" y2="1112.00" stroke="#000" stroke-width="1.12" opacity="0.87"/>
<line x1="53.29" y1="1112.00" x2="53.29" y2="1134.30" stroke="#000" stroke-width="1.12" opacity="0.061"/>
<line x1="54.00" y1="1059.20" x2="54.00" y2="1112.00" stroke="#000" stroke-width="1.12" opacity="0.69"/>
<line x1="54.00" y1="1112.00" x2="54.00" y2="1134.30" stroke="#000" stroke-width="1.12" opacity="0.048"/>
<line x1="54.81" y1="1059.20" x2="54.81" y2="1112.00" stroke="#000" stroke-width="1.12" opacity="0.87"/>
<line x1="54.81" y1="1112.00" x2="54.81" y2="1134.30" stroke="#000" stroke-width="1.12" opacity="0.061"/>
<line x1="55.58" y1="1059.20" x2="55.58" y2="1112.00" stroke="#000" stroke-width="1.12" opacity="1.00"/>
<line x1="55.58" y1="1112.00" x2="55.58" y2="1134.30" stroke="#000" stroke-width="1.12" opacity="0.070"/>
<line x1="56.48" y1="1059.20" x2="56.48" y2="1112.00" stroke="#000" stroke-width="1.12" opacity="1.00"/>
<line x1="56.48" y1="1112.00" x2="56.48" y2="1134.30" stroke="#000" stroke-width="1.12" opacity="0.070"/>
<line x1="57.30" y1="1059.20" x2="57.30" y2="1112.00" stroke="#000" stroke-width="1.12" opacity="1.00"/>
<line x1="57.30" y1="1112.00" x2="57.30" y2="1134.30" stroke="#000" stroke-width="1.12" opacity="0.070"/>
<line x1="58.01" y1="1059.20" x2="58.01" y2="1112.00" stroke="#000" stroke-width="1.12" opacity="0.87"/>
<line x1="58.01" y1="1112.00" x2="58.01" y2="1134.30" stroke="#000" stroke-width="1.12" opacity="0.061"/>
<line x1="58.92" y1="1059.20" x2="58.92" y2="1112.00" stroke="#000" stroke-width="1.12" opacity="0.87"/>
<line x1="58.92" y1="1112.00" x2="58.92" y2="1134.30" stroke="#000" stroke-width="1.12" opacity="0.061"/>
<line x1="59.50" y1="1059.20" x2="59.50" y2="1112.00" stroke="#000" stroke-width="1.12" opacity="1.00"/>
<line x1="59.50" y1="1112.00" x2="59.50" y2="1134.30" stroke="#000" stroke-width="1.12" opacity="0.070"/>
<line x1="60.29" y1="1059.20" x2="60.29" y2="1112.00" stroke="#000" stroke-width="1.12" opacity="1.00"/>
<line x1="60.29" y1="1112.00" x2="60.29" y2="1134.30" stroke="#000" stroke-width="1.12" opacity="0.070"/>
<line x1="61.17" y1="1059.20" x2="61.17" y2="1112.00" stroke="#000" stroke-width="1.12" opacity="1.00"/>
<line x1="61.17" y1="1112.00" x2="61.17" y2="1134.30" stroke="#000" stroke-width="1.12" opacity="0.070"/>
<line x1="61.99" y1="1059.20" x2="61.99" y2="1112.00" stroke="#000" stroke-width="1.12" opacity="0.69"/>
<line x1="61.99" y1="1112.00" x2="61.99" y2="1134.30" stroke="#000" stroke-width="1.12" opacity="0.048"/>
<line x1="62.59" y1="1059.20" x2="62.59" y2="1112.00" stroke="#000" stroke-width="1.12" opacity="1.00"/>
<line x1="62.59" y1="1112.00" x2="62.59" y2="1134.30" stroke="#000" stroke-width="1.12" opacity="0.070"/>
<line x1="63.22" y1="1059.20" x2="63.22" y2="1112.00" stroke="#000" stroke-width="1.12" opacity="1.00"/>
<line x1="63.22" y1="1112.00" x2="63.22" y2="1134.30" stroke="#000" stroke-width="1.12" opacity="0.070"/>
<line x1="63.84" y1="1059.20" x2="63.84" y2="1112.00" stroke="#000" stroke-width="1.12" opacity="1.00"/>
<line x1="63.84" y1="1112.00" x2="63.84" y2="1134.30" stroke="#000" stroke-width="1.12" opacity="0.070"/>
<line x1="64.58" y1="1059.20" x2="64.58" y2="1112.00" stroke="#000" stroke-width="1.12" opacity="0.69"/>
<line x1="64.58" y1="1112.00" x2="64.58" y2="1134.30" stroke="#000" stroke-width="1.12" opacity="0.048"/>
<line x1="65.47" y1="1059.20" x2="65.47" y2="1112.00" stroke="#000" stroke-width="1.12" opacity="1.00"/>
<line x1="65.47" y1="1112.00" x2="65.47" y2="1134.30" stroke="#000" stroke-width="1.12" opacity="0.070"/>
<line x1="66.17" y1="1059.20" x2="66.17" y2="1112.00" stroke="#000" stroke-width="1.12" opacity="1.00"/>
<line x1="66.17" y1="1112.00" x2="66.17" y2="1134.30" stroke="#000" stroke-width="1.12" opacity="0.070"/>
<line x1="66.99" y1="1059.20" x2="66.99" y2="1112.00" stroke="#000" stroke-width="1.12" opacity="1.00"/>
<line x1="66.99" y1="1112.00" x2="66.99" y2="1134.30" stroke="#000" stroke-width="1.12" opacity="0.070"/>
<line x1="67.57" y1="1059.20" x2="67.57" y2="1112.00" stroke="#000" stroke-width="1.12" opacity="0.69"/>
<line x1="67.57" y1="1112.00" x2="67.57" y2="1134.30" stroke="#000" stroke-width="1.12" opacity="0.048"/>
<line x1="68.55" y1="1059.20" x2="68.55" y2="1112.00" stroke="#000" stroke-width="1.12" opacity="1.00"/>
<line x1="68.55" y1="1112.00" x2="68.55" y2="1134.30" stroke="#000" stroke-width="1.12" opacity="0.070"/>
<line x1="69.41" y1="1059.20" x2="69.41" y2="1112.00" stroke="#000" stroke-width="1.12" opacity="0.69"/>
<line x1="69.41" y1="1112.00" x2="69.41" y2="1134.30" stroke="#000" stroke-width="1.12" opacity="0.048"/>
<line x1="69.99" y1="1059.20" x2="69.99" y2="1112.00" stroke="#000" stroke-width="1.12" opacity="1.00"/>
<line x1="69.99" y1="1112.00" x2="69.99" y2="1134.30" stroke="#000" stroke-width="1.12" opacity="0.070"/>
<line x1="70.83" y1="1059.20" x2="70.83" y2="1112.00" stroke="#000" stroke-width="1.12" opacity="1.00"/>
<line x1="70.83" y1="1112.00" x2="70.83" y2="1134.30" stroke="#000" stroke-width="1.12" opacity="0.070"/>
<line x1="71.51" y1="1059.20" x2="71.51" y2="1112.00" stroke="#000" stroke-width="1.12" opacity="1.00"/>
<line x1="71.51" y1="1112.00" x2="71.51" y2="1134.30" stroke="#000" stroke-width="1.12" opacity="0.070"/>
<line x1="72.46" y1="1059.20" x2="72.46" y2="1112.00" stroke="#000" stroke-width="1.12" opacity="1.00"/>
<line x1="72.46" y1="1112.00" x2="72.46" y2="1134.30" stroke="#000" stroke-width="1.12" opacity="0.070"/>
<line x1="73.02" y1="1059.20" x2="73.02" y2="1112.00" stroke="#000" stroke-width="1.12" opacity="1.00"/>
<line x1="73.02" y1="1112.00" x2="73.02" y2="1134.30" stroke="#000" stroke-width="1.12" opacity="0.070"/>
<line x1="73.73" y1="1059.20" x2="73.73" y2="1112.00" stroke="#000" stroke-width="1.12" opacity="0.69"/>
<line x1="73.73" y1="1112.00" x2="73.73" y2="1134.30" stroke="#000" stroke-width="1.12" opacity="0.048"/>
<line x1="74.50" y1="1059.20" x2="74.50" y2="1112.00" stroke="#000" stroke-width="1.12" opacity="0.87"/>
<line x1="74.50" y1="1112.00" x2="74.50" y2="1134.30" stroke="#000" stroke-width="1.12" opacity="0.061"/>
<line x1="75.39" y1="1059.20" x2="75.39" y2="1112.00" stroke="#000" stroke-width="1.12" opacity="0.87"/>
<line x1="75.39" y1="1112.00" x2="75.39" y2="1134.30" stroke="#000" stroke-width="1.12" opacity="0.061"/>
<line x1="76.28" y1="1059.20" x2="76.28" y2="1112.00" stroke="#000" stroke-width="1.12" opacity="1.00"/>
<line x1="76.28" y1="1112.00" x2="76.28" y2="1134.30" stroke="#000" stroke-width="1.12" opacity="0.070"/>
<line x1="77.00" y1="1059.20" x2="77.00" y2="1112.00" stroke="#000" stroke-width="1.12" opacity="1.00"/>
<line x1="77.00" y1="1112.00" x2="77.00" y2="1134.30" stroke="#000" stroke-width="1.12" opacity="0.070"/>
<line x1="77.59" y1="1059.20" x2="77.59" y2="1112.00" stroke="#000" stroke-width="1.12" opacity="1.00"/>
<line x1="77.59" y1="1112.00" x2="77.59" y2="1134.30" stroke="#000" stroke-width="1.12" opacity="0.070"/>
<line x1="78.32" y1="1059.20" x2="78.32" y2="1112.00" stroke="#000" stroke-width="1.12" opacity="1.00"/>
<line x1="78.32" y1="1112.00" x2="78.32" y2="1134.30" stroke="#000" stroke-width="1.12" opacity="0.070"/>
<line x1="79.27" y1="1059.20" x2="79.27" y2="1112.00" stroke="#000" stroke-width="1.12" opacity="1.00"/>
<line x1="79.27" y1="1112.00" x2="79.27" y2="1134.30" stroke="#000" stroke-width="1.12" opacity="0.070"/>
<line x1="80.21" y1="1059.20" x2="80.21" y2="1112.00" stroke="#000" stroke-width="1.12" opacity="1.00"/>
<line x1="80.21" y1="1112.00" x2="80.21" y2="1134.30" stroke="#000" stroke-width="1.12" opacity="0.070"/>
<line x1="81.07" y1="1059.20" x2="81.07" y2="1112.00" stroke="#000" stroke-width="1.12" opacity="1.00"/>
<line x1="81.07" y1="1112.00" x2="81.07" y2="1134.30" stroke="#000" stroke-width="1.12" opacity="0.070"/>
<line x1="81.93" y1="1059.20" x2="81.93" y2="1112.00" stroke="#000" stroke-width="1.12" opacity="1.00"/>
<line x1="81.93" y1="1112.00" x2="81.93" y2="1134.30" stroke="#000" stroke-width="1.12" opacity="0.070"/>
<line x1="82.91" y1="1059.20" x2="82.91" y2="1112.00" stroke="#000" stroke-width="1.12" opacity="0.87"/>
<line x1="82.91" y1="1112.00" x2="82.91" y2="1134.30" stroke="#000" stroke-width="1.12" opacity="0.061"/>
<line x1="83.50" y1="1059.20" x2="83.50" y2="1112.00" stroke="#000" stroke-width="1.12" opacity="0.87"/>
<line x1="83.50" y1="1112.00" x2="83.50" y2="1134.30" stroke="#000" stroke-width="1.12" opacity="0.061"/>
<line x1="85.33" y1="1059.20" x2="85.33" y2="1112.00" stroke="#000" stroke-width="1.12" opacity="1.00"/>
<line x1="85.33" y1="1112.00" x2="85.33" y2="1134.30" stroke="#000" stroke-width="1.12" opacity="0.070"/>
<line x1="86.33" y1="1059.20" x2="86.33" y2="1112.00" stroke="#000" stroke-width="1.12" opacity="1.00"/>
<line x1="86.33" y1="1112.00" x2="86.33" y2="1134.30" stroke="#000" stroke-width="1.12" opacity="0.070"/>
<line x1="87.33" y1="1059.20" x2="87.33" y2="1112.00" stroke="#000" stroke-width="1.12" opacity="1.00"/>
<line x1="87.33" y1="1112.00" x2="87.33" y2="1134.30" stroke="#000" stroke-width="1.12" opacity="0.070"/>
<line x1="88.33" y1="1059.20" x2="88.33" y2="1112.00" stroke="#000" stroke-width="1.12" opacity="0.87"/>
<line x1="88.33" y1="1112.00" x2="88.33" y2="1134.30" stroke="#000" stroke-width="1.12" opacity="0.061"/>
<line x1="90.17" y1="1059.20" x2="90.17" y2="1112.00" stroke="#000" stroke-width="1.12" opacity="0.57"/>
<line x1="90.17" y1="1112.00" x2="90.17" y2="1134.30" stroke="#000" stroke-width="1.12" opacity="0.040"/>
<line x1="93.67" y1="1059.20" x2="93.67" y2="1112.00" stroke="#000" stroke-width="1.12" opacity="0.75"/>
<line x1="93.67" y1="1112.00" x2="93.67" y2="1134.30" stroke="#000" stroke-width="1.12" opacity="0.053"/>
<line x1="94.67" y1="1059.20" x2="94.67" y2="1112.00" stroke="#000" stroke-width="1.12" opacity="0.75"/>
<line x1="94.67" y1="1112.00" x2="94.67" y2="1134.30" stroke="#000" stroke-width="1.12" opacity="0.053"/>
<line x1="95.83" y1="1059.20" x2="95.83" y2="1112.00" stroke="#000" stroke-width="1.12" opacity="0.87"/>
<line x1="95.83" y1="1112.00" x2="95.83" y2="1134.30" stroke="#000" stroke-width="1.12" opacity="0.061"/>
<line x1="98.33" y1="1059.20" x2="98.33" y2="1112.00" stroke="#000" stroke-width="1.12" opacity="1.00"/>
<line x1="98.33" y1="1112.00" x2="98.33" y2="1134.30" stroke="#000" stroke-width="1.12" opacity="0.070"/>
<line x1="99.33" y1="1059.20" x2="99.33" y2="1112.00" stroke="#000" stroke-width="1.12" opacity="1.00"/>
<line x1="99.33" y1="1112.00" x2="99.33" y2="1134.30" stroke="#000" stroke-width="1.12" opacity="0.070"/>
<line x1="100.33" y1="1059.20" x2="100.33" y2="1112.00" stroke="#000" stroke-width="1.12" opacity="1.00"/>
<line x1="100.33" y1="1112.00" x2="100.33" y2="1134.30" stroke="#000" stroke-width="1.12" opacity="0.070"/>
<line x1="101.33" y1="1059.20" x2="101.33" y2="1112.00" stroke="#000" stroke-width="1.12" opacity="1.00"/>
<line x1="101.33" y1="1112.00" x2="101.33" y2="1134.30" stroke="#000" stroke-width="1.12" opacity="0.070"/>
<line x1="102.33" y1="1059.20" x2="102.33" y2="1112.00" stroke="#000" stroke-width="1.12" opacity="1.00"/>
<line x1="102.33" y1="1112.00" x2="102.33" y2="1134.30" stroke="#000" stroke-width="1.12" opacity="0.070"/>
<line x1="104.83" y1="1059.20" x2="104.83" y2="1112.00" stroke="#000" stroke-width="1.12" opacity="1.00"/>
<line x1="104.83" y1="1112.00" x2="104.83" y2="1134.30" stroke="#000" stroke-width="1.12" opacity="0.070"/>
<line x1="106.00" y1="1059.20" x2="106.00" y2="1112.00" stroke="#000" stroke-width="1.12" opacity="1.00"/>
<line x1="106.00" y1="1112.00" x2="106.00" y2="1134.30" stroke="#000" stroke-width="1.12" opacity="0.070"/>
<line x1="107.17" y1="1059.20" x2="107.17" y2="1112.00" stroke="#000" stroke-width="1.12" opacity="1.00"/>
<line x1="107.17" y1="1112.00" x2="107.17" y2="1134.30" stroke="#000" stroke-width="1.12" opacity="0.070"/>
<line x1="114.17" y1="1059.20" x2="114.17" y2="1112.00" stroke="#000" stroke-width="1.12" opacity="0.75"/>
<line x1="114.17" y1="1112.00" x2="114.17" y2="1134.30" stroke="#000" stroke-width="1.12" opacity="0.053"/>
<line x1="118.00" y1="1059.20" x2="118.00" y2="1112.00" stroke="#000" stroke-width="1.12" opacity="1.00"/>
<line x1="118.00" y1="1112.00" x2="118.00" y2="1134.30" stroke="#000" stroke-width="1.12" opacity="0.070"/>
<line x1="119.00" y1="1059.20" x2="119.00" y2="1112.00" stroke="#000" stroke-width="1.12" opacity="1.00"/>
<line x1="119.00" y1="1112.00" x2="119.00" y2="1134.30" stroke="#000" stroke-width="1.12" opacity="0.070"/>
<line x1="120.00" y1="1059.20" x2="120.00" y2="1112.00" stroke="#000" stroke-width="1.12" opacity="1.00"/>
<line x1="120.00" y1="1112.00" x2="120.00" y2="1134.30" stroke="#000" stroke-width="1.12" opacity="0.070"/>
<line x1="121.00" y1="1059.20" x2="121.00" y2="1112.00" stroke="#000" stroke-width="1.12" opacity="1.00"/>
<line x1="121.00" y1="1112.00" x2="121.00" y2="1134.30" stroke="#000" stroke-width="1.12" opacity="0.070"/>
<line x1="122.17" y1="1059.20" x2="122.17" y2="1112.00" stroke="#000" stroke-width="1.12" opacity="1.00"/>
<line x1="122.17" y1="1112.00" x2="122.17" y2="1134.30" stroke="#000" stroke-width="1.12" opacity="0.070"/>
<line x1="123.00" y1="1059.20" x2="123.00" y2="1112.00" stroke="#000" stroke-width="1.12" opacity="0.87"/>
<line x1="123.00" y1="1112.00" x2="123.00" y2="1134.30" stroke="#000" stroke-width="1.12" opacity="0.061"/>
<line x1="127.50" y1="1059.20" x2="127.50" y2="1112.00" stroke="#000" stroke-width="1.12" opacity="0.63"/>
<line x1="127.50" y1="1112.00" x2="127.50" y2="1134.30" stroke="#000" stroke-width="1.12" opacity="0.044"/>
<line x1="129.83" y1="1059.20" x2="129.83" y2="1112.00" stroke="#000" stroke-width="1.12" opacity="1.00"/>
<line x1="129.83" y1="1112.00" x2="129.83" y2="1134.30" stroke="#000" stroke-width="1.12" opacity="0.070"/>
<line x1="130.83" y1="1059.20" x2="130.83" y2="1112.00" stroke="#000" stroke-width="1.12" opacity="1.00"/>
<line x1="130.83" y1="1112.00" x2="130.83" y2="1134.30" stroke="#000" stroke-width="1.12" opacity="0.070"/>
<line x1="131.83" y1="1059.20" x2="131.83" y2="1112.00" stroke="#000" stroke-width="1.12" opacity="1.00"/>
<line x1="131.83" y1="1112.00" x2="131.83" y2="1134.30" stroke="#000" stroke-width="1.12" opacity="0.070"/>
<line x1="132.83" y1="1059.20" x2="132.83" y2="1112.00" stroke="#000" stroke-width="1.12" opacity="1.00"/>
<line x1="132.83" y1="1112.00" x2="132.83" y2="1134.30" stroke="#000" stroke-width="1.12" opacity="0.070"/>
<line x1="133.83" y1="1059.20" x2="133.83" y2="1112.00" stroke="#000" stroke-width="1.12" opacity="1.00"/>
<line x1="133.83" y1="1112.00" x2="133.83" y2="1134.30" stroke="#000" stroke-width="1.12" opacity="0.070"/>
<line x1="139.33" y1="1059.20" x2="139.33" y2="1112.00" stroke="#000" stroke-width="1.12" opacity="1.00"/>
<line x1="139.33" y1="1112.00" x2="139.33" y2="1134.30" stroke="#000" stroke-width="1.12" opacity="0.070"/>
<line x1="140.50" y1="1059.20" x2="140.50" y2="1112.00" stroke="#000" stroke-width="1.12" opacity="1.00"/>
<line x1="140.50" y1="1112.00" x2="140.50" y2="1134.30" stroke="#000" stroke-width="1.12" opacity="0.070"/>
<line x1="141.67" y1="1059.20" x2="141.67" y2="1112.00" stroke="#000" stroke-width="1.12" opacity="1.00"/>
<line x1="141.67" y1="1112.00" x2="141.67" y2="1134.30" stroke="#000" stroke-width="1.12" opacity="0.070"/>
<line x1="142.67" y1="1059.20" x2="142.67" y2="1112.00" stroke="#000" stroke-width="1.12" opacity="0.75"/>
<line x1="142.67" y1="1112.00" x2="142.67" y2="1134.30" stroke="#000" stroke-width="1.12" opacity="0.053"/>
<line x1="147.50" y1="1059.20" x2="147.50" y2="1112.00" stroke="#000" stroke-width="1.12" opacity="0.57"/>
<line x1="147.50" y1="1112.00" x2="147.50" y2="1134.30" stroke="#000" stroke-width="1.12" opacity="0.040"/>
<line x1="155.83" y1="1059.20" x2="155.83" y2="1112.00" stroke="#000" stroke-width="1.12" opacity="0.63"/>
<line x1="155.83" y1="1112.00" x2="155.83" y2="1134.30" stroke="#000" stroke-width="1.12" opacity="0.044"/>
<line x1="157.67" y1="1059.20" x2="157.67" y2="1112.00" stroke="#000" stroke-width="1.12" opacity="0.57"/>
<line x1="157.67" y1="1112.00" x2="157.67" y2="1134.30" stroke="#000" stroke-width="1.12" opacity="0.040"/>
<line x1="162.50" y1="1059.20" x2="162.50" y2="1112.00" stroke="#000" stroke-width="1.12" opacity="0.57"/>
<line x1="162.50" y1="1112.00" x2="162.50" y2="1134.30" stroke="#000" stroke-width="1.12" opacity="0.040"/>
<line x1="165.83" y1="1059.20" x2="165.83" y2="1112.00" stroke="#000" stroke-width="1.12" opacity="0.75"/>
<line x1="165.83" y1="1112.00" x2="165.83" y2="1134.30" stroke="#000" stroke-width="1.12" opacity="0.053"/>
<line x1="167.00" y1="1059.20" x2="167.00" y2="1112.00" stroke="#000" stroke-width="1.12" opacity="0.87"/>
<line x1="167.00" y1="1112.00" x2="167.00" y2="1134.30" stroke="#000" stroke-width="1.12" opacity="0.061"/>
<line x1="168.17" y1="1059.20" x2="168.17" y2="1112.00" stroke="#000" stroke-width="1.12" opacity="0.87"/>
<line x1="168.17" y1="1112.00" x2="168.17" y2="1134.30" stroke="#000" stroke-width="1.12" opacity="0.061"/>
<line x1="169.33" y1="1059.20" x2="169.33" y2="1112.00" stroke="#000" stroke-width="1.12" opacity="0.94"/>
<line x1="169.33" y1="1112.00" x2="169.33" y2="1134.30" stroke="#000" stroke-width="1.12" opacity="0.065"/>
<line x1="170.50" y1="1059.20" x2="170.50" y2="1112.00" stroke="#000" stroke-width="1.12" opacity="1.00"/>
<line x1="170.50" y1="1112.00" x2="170.50" y2="1134.30" stroke="#000" stroke-width="1.12" opacity="0.070"/>
<line x1="171.67" y1="1059.20" x2="171.67" y2="1112.00" stroke="#000" stroke-width="1.12" opacity="1.00"/>
<line x1="171.67" y1="1112.00" x2="171.67" y2="1134.30" stroke="#000" stroke-width="1.12" opacity="0.070"/>
<line x1="172.67" y1="1059.20" x2="172.67" y2="1112.00" stroke="#000" stroke-width="1.12" opacity="0.87"/>
<line x1="172.67" y1="1112.00" x2="172.67" y2="1134.30" stroke="#000" stroke-width="1.12" opacity="0.061"/>
<line x1="179.17" y1="1059.20" x2="179.17" y2="1112.00" stroke="#000" stroke-width="1.12" opacity="0.63"/>
<line x1="179.17" y1="1112.00" x2="179.17" y2="1134.30" stroke="#000" stroke-width="1.12" opacity="0.044"/>
<line x1="185.33" y1="1059.20" x2="185.33" y2="1112.00" stroke="#000" stroke-width="1.12" opacity="0.63"/>
<line x1="185.33" y1="1112.00" x2="185.33" y2="1134.30" stroke="#000" stroke-width="1.12" opacity="0.044"/>
<line x1="189.17" y1="1059.20" x2="189.17" y2="1112.00" stroke="#000" stroke-width="1.12" opacity="0.63"/>
<line x1="189.17" y1="1112.00" x2="189.17" y2="1134.30" stroke="#000" stroke-width="1.12" opacity="0.044"/>
<line x1="191.67" y1="1059.20" x2="191.67" y2="1112.00" stroke="#000" stroke-width="1.12" opacity="1.00"/>
<line x1="191.67" y1="1112.00" x2="191.67" y2="1134.30" stroke="#000" stroke-width="1.12" opacity="0.070"/>
<line x1="192.50" y1="1059.20" x2="192.50" y2="1112.00" stroke="#000" stroke-width="1.12" opacity="0.75"/>
<line x1="192.50" y1="1112.00" x2="192.50" y2="1134.30" stroke="#000" stroke-width="1.12" opacity="0.053"/>
<line x1="198.00" y1="1059.20" x2="198.00" y2="1112.00" stroke="#000" stroke-width="1.12" opacity="0.63"/>
<line x1="198.00" y1="1112.00" x2="198.00" y2="1134.30" stroke="#000" stroke-width="1.12" opacity="0.044"/>
<line x1="205.00" y1="1059.20" x2="205.00" y2="1112.00" stroke="#000" stroke-width="1.12" opacity="0.57"/>
<line x1="205.00" y1="1112.00" x2="205.00" y2="1134.30" stroke="#000" stroke-width="1.12" opacity="0.040"/>
<line x1="212.00" y1="1059.20" x2="212.00" y2="1112.00" stroke="#000" stroke-width="1.12" opacity="0.57"/>
<line x1="212.00" y1="1112.00" x2="212.00" y2="1134.30" stroke="#000" stroke-width="1.12" opacity="0.040"/>
<line x1="213.33" y1="1059.20" x2="213.33" y2="1112.00" stroke="#000" stroke-width="1.12" opacity="0.45"/>
<line x1="213.33" y1="1112.00" x2="213.33" y2="1134.30" stroke="#000" stroke-width="1.12" opacity="0.031"/>
<line x1="215.50" y1="1059.20" x2="215.50" y2="1112.00" stroke="#000" stroke-width="1.12" opacity="0.69"/>
<line x1="215.50" y1="1112.00" x2="215.50" y2="1134.30" stroke="#000" stroke-width="1.12" opacity="0.048"/>
<line x1="225.83" y1="1059.20" x2="225.83" y2="1112.00" stroke="#000" stroke-width="1.12" opacity="0.63"/>
<line x1="225.83" y1="1112.00" x2="225.83" y2="1134.30" stroke="#000" stroke-width="1.12" opacity="0.044"/>
<line x1="231.00" y1="1059.20" x2="231.00" y2="1112.00" stroke="#000" stroke-width="1.12" opacity="0.63"/>
<line x1="231.00" y1="1112.00" x2="231.00" y2="1134.30" stroke="#000" stroke-width="1.12" opacity="0.044"/>
<line x1="232.17" y1="1059.20" x2="232.17" y2="1112.00" stroke="#000" stroke-width="1.12" opacity="0.63"/>
<line x1="232.17" y1="1112.00" x2="232.17" y2="1134.30" stroke="#000" stroke-width="1.12" opacity="0.044"/>
<line x1="233.33" y1="1059.20" x2="233.33" y2="1112.00" stroke="#000" stroke-width="1.12" opacity="0.63"/>
<line x1="233.33" y1="1112.00" x2="233.33" y2="1134.30" stroke="#000" stroke-width="1.12" opacity="0.044"/>
<line x1="234.50" y1="1059.20" x2="234.50" y2="1112.00" stroke="#000" stroke-width="1.12" opacity="0.57"/>
<line x1="234.50" y1="1112.00" x2="234.50" y2="1134.30" stroke="#000" stroke-width="1.12" opacity="0.040"/>
<line x1="246.67" y1="1059.20" x2="246.67" y2="1112.00" stroke="#000" stroke-width="1.12" opacity="0.57"/>
<line x1="246.67" y1="1112.00" x2="246.67" y2="1134.30" stroke="#000" stroke-width="1.12" opacity="0.040"/>
<line x1="251.33" y1="1059.20" x2="251.33" y2="1112.00" stroke="#000" stroke-width="1.12" opacity="0.63"/>
<line x1="251.33" y1="1112.00" x2="251.33" y2="1134.30" stroke="#000" stroke-width="1.12" opacity="0.044"/>
<line x1="265.83" y1="1059.20" x2="265.83" y2="1112.00" stroke="#000" stroke-width="1.12" opacity="0.57"/>
<line x1="265.83" y1="1112.00" x2="265.83" y2="1134.30" stroke="#000" stroke-width="1.12" opacity="0.040"/>
<line x1="268.67" y1="1059.20" x2="268.67" y2="1112.00" stroke="#000" stroke-width="1.12" opacity="0.87"/>
<line x1="268.67" y1="1112.00" x2="268.67" y2="1134.30" stroke="#000" stroke-width="1.12" opacity="0.061"/>
<line x1="269.83" y1="1059.20" x2="269.83" y2="1112.00" stroke="#000" stroke-width="1.12" opacity="1.00"/>
<line x1="269.83" y1="1112.00" x2="269.83" y2="1134.30" stroke="#000" stroke-width="1.12" opacity="0.070"/>
<line x1="274.17" y1="1059.20" x2="274.17" y2="1112.00" stroke="#000" stroke-width="1.12" opacity="0.57"/>
<line x1="274.17" y1="1112.00" x2="274.17" y2="1134.30" stroke="#000" stroke-width="1.12" opacity="0.040"/>
<line x1="280.50" y1="1059.20" x2="280.50" y2="1112.00" stroke="#000" stroke-width="1.12" opacity="0.63"/>
<line x1="280.50" y1="1112.00" x2="280.50" y2="1134.30" stroke="#000" stroke-width="1.12" opacity="0.044"/>
<line x1="284.17" y1="1059.20" x2="284.17" y2="1112.00" stroke="#000" stroke-width="1.12" opacity="0.57"/>
<line x1="284.17" y1="1112.00" x2="284.17" y2="1134.30" stroke="#000" stroke-width="1.12" opacity="0.040"/>
<line x1="289.67" y1="1059.20" x2="289.67" y2="1112.00" stroke="#000" stroke-width="1.12" opacity="0.63"/>
<line x1="289.67" y1="1112.00" x2="289.67" y2="1134.30" stroke="#000" stroke-width="1.12" opacity="0.044"/>
<line x1="313.33" y1="1059.20" x2="313.33" y2="1112.00" stroke="#000" stroke-width="1.12" opacity="0.63"/>
<line x1="313.33" y1="1112.00" x2="313.33" y2="1134.30" stroke="#000" stroke-width="1.12" opacity="0.044"/>
<line x1="327.50" y1="1059.20" x2="327.50" y2="1112.00" stroke="#000" stroke-width="1.12" opacity="0.63"/>
<line x1="327.50" y1="1112.00" x2="327.50" y2="1134.30" stroke="#000" stroke-width="1.12" opacity="0.044"/>
<line x1="334.67" y1="1059.20" x2="334.67" y2="1112.00" stroke="#000" stroke-width="1.12" opacity="0.87"/>
<line x1="334.67" y1="1112.00" x2="334.67" y2="1134.30" stroke="#000" stroke-width="1.12" opacity="0.061"/>
<line x1="335.83" y1="1059.20" x2="335.83" y2="1112.00" stroke="#000" stroke-width="1.12" opacity="0.87"/>
<line x1="335.83" y1="1112.00" x2="335.83" y2="1134.30" stroke="#000" stroke-width="1.12" opacity="0.061"/>
<line x1="341.17" y1="1059.20" x2="341.17" y2="1112.00" stroke="#000" stroke-width="1.12" opacity="0.63"/>
<line x1="341.17" y1="1112.00" x2="341.17" y2="1134.30" stroke="#000" stroke-width="1.12" opacity="0.044"/>
<line x1="349.17" y1="1059.20" x2="349.17" y2="1112.00" stroke="#000" stroke-width="1.12" opacity="0.63"/>
<line x1="349.17" y1="1112.00" x2="349.17" y2="1134.30" stroke="#000" stroke-width="1.12" opacity="0.044"/>
<line x1="364.17" y1="1059.20" x2="364.17" y2="1112.00" stroke="#000" stroke-width="1.12" opacity="0.87"/>
<line x1="364.17" y1="1112.00" x2="364.17" y2="1134.30" stroke="#000" stroke-width="1.12" opacity="0.061"/>
<line x1="365.00" y1="1059.20" x2="365.00" y2="1112.00" stroke="#000" stroke-width="1.12" opacity="0.75"/>
<line x1="365.00" y1="1112.00" x2="365.00" y2="1134.30" stroke="#000" stroke-width="1.12" opacity="0.053"/>
<line x1="375.00" y1="1059.20" x2="375.00" y2="1112.00" stroke="#000" stroke-width="1.12" opacity="0.63"/>
<line x1="375.00" y1="1112.00" x2="375.00" y2="1134.30" stroke="#000" stroke-width="1.12" opacity="0.044"/>
<line x1="391.67" y1="1059.20" x2="391.67" y2="1112.00" stroke="#000" stroke-width="1.12" opacity="0.63"/>
<line x1="391.67" y1="1112.00" x2="391.67" y2="1134.30" stroke="#000" stroke-width="1.12" opacity="0.044"/>
<line x1="402.67" y1="1059.20" x2="402.67" y2="1112.00" stroke="#000" stroke-width="1.12" opacity="0.63"/>
<line x1="402.67" y1="1112.00" x2="402.67" y2="1134.30" stroke="#000" stroke-width="1.12" opacity="0.044"/>
<line x1="403.83" y1="1059.20" x2="403.83" y2="1112.00" stroke="#000" stroke-width="1.12" opacity="0.63"/>
<line x1="403.83" y1="1112.00" x2="403.83" y2="1134.30" stroke="#000" stroke-width="1.12" opacity="0.044"/>
<line x1="426.00" y1="1059.20" x2="426.00" y2="1112.00" stroke="#000" stroke-width="1.12" opacity="0.69"/>
<line x1="426.00" y1="1112.00" x2="426.00" y2="1134.30" stroke="#000" stroke-width="1.12" opacity="0.048"/>
<line x1="496.30" y1="1059.20" x2="496.30" y2="1112.00" stroke="#000" stroke-width="1.12" opacity="0.63"/>
<line x1="496.30" y1="1112.00" x2="496.30" y2="1134.30" stroke="#000" stroke-width="1.12" opacity="0.044"/>
<line x1="498.20" y1="1059.20" x2="498.20" y2="1112.00" stroke="#000" stroke-width="1.12" opacity="0.63"/>
<line x1="498.20" y1="1112.00" x2="498.20" y2="1134.30" stroke="#000" stroke-width="1.12" opacity="0.044"/>
<line x1="511.00" y1="1059.20" x2="511.00" y2="1112.00" stroke="#000" stroke-width="1.12" opacity="0.63"/>
<line x1="511.00" y1="1112.00" x2="511.00" y2="1134.30" stroke="#000" stroke-width="1.12" opacity="0.044"/>
<line x1="513.20" y1="1059.20" x2="513.20" y2="1112.00" stroke="#000" stroke-width="1.12" opacity="0.63"/>
<line x1="513.20" y1="1112.00" x2="513.20" y2="1134.30" stroke="#000" stroke-width="1.12" opacity="0.044"/>
<line x1="522.00" y1="1059.20" x2="522.00" y2="1112.00" stroke="#000" stroke-width="1.12" opacity="0.63"/>
<line x1="522.00" y1="1112.00" x2="522.00" y2="1134.30" stroke="#000" stroke-width="1.12" opacity="0.044"/>
<line x1="558.00" y1="1059.20" x2="558.00" y2="1112.00" stroke="#000" stroke-width="1.12" opacity="0.63"/>
<line x1="558.00" y1="1112.00" x2="558.00" y2="1134.30" stroke="#000" stroke-width="1.12" opacity="0.044"/>
<line x1="563.00" y1="1059.20" x2="563.00" y2="1112.00" stroke="#000" stroke-width="1.12" opacity="0.63"/>
<line x1="563.00" y1="1112.00" x2="563.00" y2="1134.30" stroke="#000" stroke-width="1.12" opacity="0.044"/>
<line x1="592.70" y1="1059.20" x2="592.70" y2="1112.00" stroke="#000" stroke-width="1.12" opacity="0.63"/>
<line x1="592.70" y1="1112.00" x2="592.70" y2="1134.30" stroke="#000" stroke-width="1.12" opacity="0.044"/>
<line x1="601.90" y1="1059.20" x2="601.90" y2="1112.00" stroke="#000" stroke-width="1.12" opacity="1.00"/>
<line x1="601.90" y1="1112.00" x2="601.90" y2="1134.30" stroke="#000" stroke-width="1.12" opacity="0.070"/>
<line x1="602.80" y1="1059.20" x2="602.80" y2="1112.00" stroke="#000" stroke-width="1.12" opacity="1.00"/>
<line x1="602.80" y1="1112.00" x2="602.80" y2="1134.30" stroke="#000" stroke-width="1.12" opacity="0.070"/>
<line x1="622.30" y1="1059.20" x2="622.30" y2="1112.00" stroke="#000" stroke-width="1.12" opacity="0.63"/>
<line x1="622.30" y1="1112.00" x2="622.30" y2="1134.30" stroke="#000" stroke-width="1.12" opacity="0.044"/>
<line x1="676.50" y1="1059.20" x2="676.50" y2="1112.00" stroke="#000" stroke-width="1.12" opacity="0.63"/>
<line x1="676.50" y1="1112.00" x2="676.50" y2="1134.30" stroke="#000" stroke-width="1.12" opacity="0.044"/>
<line x1="691.00" y1="1059.20" x2="691.00" y2="1112.00" stroke="#000" stroke-width="1.12" opacity="0.63"/>
<line x1="691.00" y1="1112.00" x2="691.00" y2="1134.30" stroke="#000" stroke-width="1.12" opacity="0.044"/>
<line x1="709.30" y1="1059.20" x2="709.30" y2="1112.00" stroke="#000" stroke-width="1.12" opacity="0.63"/>
<line x1="709.30" y1="1112.00" x2="709.30" y2="1134.30" stroke="#000" stroke-width="1.12" opacity="0.044"/>
<line x1="736.00" y1="1059.20" x2="736.00" y2="1112.00" stroke="#000" stroke-width="1.12" opacity="0.69"/>
<line x1="736.00" y1="1112.00" x2="736.00" y2="1134.30" stroke="#000" stroke-width="1.12" opacity="0.048"/>
<line x1="740.20" y1="1059.20" x2="740.20" y2="1112.00" stroke="#000" stroke-width="1.12" opacity="0.63"/>
<line x1="740.20" y1="1112.00" x2="740.20" y2="1134.30" stroke="#000" stroke-width="1.12" opacity="0.044"/>
<line x1="766.00" y1="1059.20" x2="766.00" y2="1112.00" stroke="#000" stroke-width="1.12" opacity="0.63"/>
<line x1="766.00" y1="1112.00" x2="766.00" y2="1134.30" stroke="#000" stroke-width="1.12" opacity="0.044"/>
<line x1="794.70" y1="1059.20" x2="794.70" y2="1112.00" stroke="#000" stroke-width="1.12" opacity="0.63"/>
<line x1="794.70" y1="1112.00" x2="794.70" y2="1134.30" stroke="#000" stroke-width="1.12" opacity="0.044"/>
<line x1="800.50" y1="1059.20" x2="800.50" y2="1112.00" stroke="#000" stroke-width="1.12" opacity="0.63"/>
<line x1="800.50" y1="1112.00" x2="800.50" y2="1134.30" stroke="#000" stroke-width="1.12" opacity="0.044"/>
<line x1="804.30" y1="1059.20" x2="804.30" y2="1112.00" stroke="#000" stroke-width="1.12" opacity="0.63"/>
<line x1="804.30" y1="1112.00" x2="804.30" y2="1134.30" stroke="#000" stroke-width="1.12" opacity="0.044"/>
<line x1="806.80" y1="1059.20" x2="806.80" y2="1112.00" stroke="#000" stroke-width="1.12" opacity="0.63"/>
<line x1="806.80" y1="1112.00" x2="806.80" y2="1134.30" stroke="#000" stroke-width="1.12" opacity="0.044"/>
<line x1="822.30" y1="1059.20" x2="822.30" y2="1112.00" stroke="#000" stroke-width="1.12" opacity="0.63"/>
<line x1="822.30" y1="1112.00" x2="822.30" y2="1134.30" stroke="#000" stroke-width="1.12" opacity="0.044"/>
<line x1="828.50" y1="1059.20" x2="828.50" y2="1112.00" stroke="#000" stroke-width="1.12" opacity="0.63"/>
<line x1="828.50" y1="1112.00" x2="828.50" y2="1134.30" stroke="#000" stroke-width="1.12" opacity="0.044"/>
<path d="M40.7,1232.3 L40.7,1170.0 L41.6,1180.0 L43.7,1190.0 L48.3,1197.5 L55.0,1202.5 L66.7,1207.5 L83.3,1211.7 L100.0,1215.0 L116.7,1217.5 L141.7,1220.0 L166.7,1222.2 L216.7,1225.0 L266.7,1227.5 L333.3,1229.7 L416.0,1231.8 L420.0,1232.8 L539.0,1237.5 L663.2,1242.0 L787.7,1245.8 L816.0,1249.0 L826.0,1251.5 L829.0,1253.2 L829.0,1232.3 Z" fill="#bfbfbf"/>
<line x1="40.70" y1="1137.50" x2="40.70" y2="1288.80" stroke="#858585" stroke-width="1.6"/>
<line x1="39.90" y1="1288.00" x2="829.20" y2="1288.00" stroke="#5a5a5a" stroke-width="1.7"/>
<line x1="38.10" y1="1167.00" x2="40.70" y2="1167.00" stroke="#777" stroke-width="1.0"/>
<text transform="translate(36.10,1171.00) scale(1.000,1.050)" font-size="10.8" text-anchor="end" fill="#6a6a6a" stroke="#6a6a6a" stroke-width="0.3">2</text>
<line x1="38.10" y1="1199.70" x2="40.70" y2="1199.70" stroke="#777" stroke-width="1.0"/>
<text transform="translate(36.10,1203.70) scale(1.000,1.050)" font-size="10.8" text-anchor="end" fill="#6a6a6a" stroke="#6a6a6a" stroke-width="0.3">1</text>
<line x1="38.10" y1="1232.20" x2="40.70" y2="1232.20" stroke="#777" stroke-width="1.0"/>
<text transform="translate(36.10,1236.20) scale(1.000,1.050)" font-size="10.8" text-anchor="end" fill="#6a6a6a" stroke="#6a6a6a" stroke-width="0.3">0</text>
<line x1="38.10" y1="1264.70" x2="40.70" y2="1264.70" stroke="#777" stroke-width="1.0"/>
<text transform="translate(36.10,1268.70) scale(1.000,1.050)" font-size="10.8" text-anchor="end" fill="#6a6a6a" stroke="#6a6a6a" stroke-width="0.3">-1</text>
<text transform="translate(19.70,1213.80) scale(1.000,1.228) rotate(-90)" font-size="12.7" text-anchor="middle" fill="#1c1c1c" stroke="#1c1c1c" stroke-width="0.2">Ranked List Metric</text>
<line x1="290.00" y1="1288.00" x2="290.00" y2="1291.00" stroke="#5a5a5a" stroke-width="1.0"/>
<text transform="translate(290.00,1301.60) scale(1.000,1.070)" font-size="10.8" text-anchor="middle" fill="#6a6a6a" stroke="#6a6a6a" stroke-width="0.3">10000</text>
<line x1="539.00" y1="1288.00" x2="539.00" y2="1291.00" stroke="#5a5a5a" stroke-width="1.0"/>
<text transform="translate(539.00,1301.60) scale(1.000,1.070)" font-size="10.8" text-anchor="middle" fill="#6a6a6a" stroke="#6a6a6a" stroke-width="0.3">20000</text>
<line x1="787.70" y1="1288.00" x2="787.70" y2="1291.00" stroke="#5a5a5a" stroke-width="1.0"/>
<text transform="translate(787.70,1301.60) scale(1.000,1.070)" font-size="10.8" text-anchor="middle" fill="#6a6a6a" stroke="#6a6a6a" stroke-width="0.3">30000</text>
<text transform="translate(455.50,1317.30) scale(1.000,1.060)" font-size="13.95" text-anchor="middle" fill="#1c1c1c" stroke="#1c1c1c" stroke-width="0.3">Rank in Ordered Dataset</text>
<line x1="1004.50" y1="835.00" x2="1004.50" y2="1059.00" stroke="#efefef" stroke-width="1.0"/>
<line x1="1004.50" y1="1139.00" x2="1004.50" y2="1288.60" stroke="#efefef" stroke-width="1.0"/>
<line x1="1146.50" y1="835.00" x2="1146.50" y2="1059.00" stroke="#efefef" stroke-width="1.0"/>
<line x1="1146.50" y1="1139.00" x2="1146.50" y2="1288.60" stroke="#efefef" stroke-width="1.0"/>
<line x1="1289.00" y1="835.00" x2="1289.00" y2="1059.00" stroke="#efefef" stroke-width="1.0"/>
<line x1="1289.00" y1="1139.00" x2="1289.00" y2="1288.60" stroke="#efefef" stroke-width="1.0"/>
<line x1="1431.30" y1="835.00" x2="1431.30" y2="1059.00" stroke="#efefef" stroke-width="1.0"/>
<line x1="1431.30" y1="1139.00" x2="1431.30" y2="1288.60" stroke="#efefef" stroke-width="1.0"/>
<line x1="1573.50" y1="835.00" x2="1573.50" y2="1059.00" stroke="#efefef" stroke-width="1.0"/>
<line x1="1573.50" y1="1139.00" x2="1573.50" y2="1288.60" stroke="#efefef" stroke-width="1.0"/>
<line x1="862.50" y1="835.00" x2="862.50" y2="1059.00" stroke="#4a4a4a" stroke-width="1.2"/>
<line x1="859.90" y1="867.50" x2="862.50" y2="867.50" stroke="#777" stroke-width="1.0"/>
<text transform="translate(859.30,871.40) scale(1.000,1.000)" font-size="10.8" text-anchor="end" fill="#6a6a6a" stroke="#6a6a6a" stroke-width="0.3">0.4</text>
<line x1="859.90" y1="911.70" x2="862.50" y2="911.70" stroke="#777" stroke-width="1.0"/>
<text transform="translate(859.30,915.60) scale(1.000,1.000)" font-size="10.8" text-anchor="end" fill="#6a6a6a" stroke="#6a6a6a" stroke-width="0.3">0.3</text>
<line x1="859.90" y1="956.30" x2="862.50" y2="956.30" stroke="#777" stroke-width="1.0"/>
<text transform="translate(859.30,960.20) scale(1.000,1.000)" font-size="10.8" text-anchor="end" fill="#6a6a6a" stroke="#6a6a6a" stroke-width="0.3">0.2</text>
<line x1="859.90" y1="1000.30" x2="862.50" y2="1000.30" stroke="#777" stroke-width="1.0"/>
<text transform="translate(859.30,1004.20) scale(1.000,1.000)" font-size="10.8" text-anchor="end" fill="#6a6a6a" stroke="#6a6a6a" stroke-width="0.3">0.1</text>
<line x1="859.90" y1="1044.40" x2="862.50" y2="1044.40" stroke="#777" stroke-width="1.0"/>
<text transform="translate(859.30,1048.30) scale(1.000,1.000)" font-size="10.8" text-anchor="end" fill="#6a6a6a" stroke="#6a6a6a" stroke-width="0.3">0.0</text>
<text transform="translate(841.50,939.00) scale(1.000,1.228) rotate(-90)" font-size="12.7" text-anchor="middle" fill="#1c1c1c" stroke="#1c1c1c" stroke-width="0.2">Running Enrichment Score</text>
<path d="M862.5,1044.5 L862.2,1030.0 L864.2,1010.0 L867.5,980.0 L870.0,963.3 L871.7,950.0 L873.3,945.8 L875.8,947.5 L877.5,943.0 L880.8,944.7 L883.3,935.8 L885.8,937.5 L887.5,929.2 L890.8,917.5 L892.9,918.7 L895.0,920.0 L898.3,916.7 L900.8,904.2 L902.9,904.4 L905.0,905.0 L908.3,899.2 L911.7,892.5 L914.2,894.7 L916.2,893.3 L918.3,893.0 L920.8,887.9 L923.3,881.7 L926.7,876.7 L928.3,868.3 L931.2,868.8 L934.2,870.8 L936.2,867.9 L938.3,865.0 L940.8,858.8 L942.9,859.4 L945.0,858.7 L947.5,859.3 L950.0,861.3 L952.5,854.2 L954.6,854.5 L956.7,854.7 L959.2,851.7 L961.7,845.8 L965.0,846.7 L967.9,848.5 L970.8,850.0 L973.3,849.2 L975.4,849.5 L977.5,851.3 L980.8,848.7 L983.0,849.5 L985.3,851.0 L987.5,851.7 L990.0,852.0 L992.5,852.5 L995.0,850.0 L997.9,850.2 L1000.8,849.7 L1004.2,846.3 L1006.7,845.9 L1009.2,846.1 L1011.7,846.7 L1013.7,846.0 L1015.7,846.6 L1017.7,847.1 L1019.7,846.5 L1021.7,846.3 L1024.6,848.2 L1027.5,849.2 L1029.7,849.3 L1031.8,850.2 L1034.0,849.5 L1036.1,850.1 L1038.3,850.8 L1040.5,851.1 L1042.8,851.2 L1045.0,850.8 L1047.2,851.5 L1049.5,851.8 L1051.7,853.3 L1055.0,851.3 L1057.5,851.1 L1060.0,851.7 L1062.2,852.1 L1064.5,853.0 L1066.7,854.2 L1068.8,852.4 L1070.8,849.7 L1073.8,850.6 L1076.7,852.5 L1079.2,850.0 L1082.1,851.0 L1085.0,850.8 L1087.2,852.5 L1089.5,852.4 L1091.7,854.2 L1093.8,854.2 L1095.8,854.6 L1097.9,854.0 L1100.0,855.0 L1102.2,855.7 L1104.5,857.3 L1106.7,857.5 L1108.7,857.9 L1110.7,859.7 L1112.7,859.9 L1114.7,861.6 L1116.7,862.5 L1118.7,863.6 L1120.7,863.0 L1122.7,863.2 L1124.7,863.8 L1126.7,865.0 L1128.7,866.1 L1130.7,866.2 L1132.7,867.3 L1134.7,869.0 L1136.7,870.0 L1138.7,871.5 L1140.7,871.6 L1142.7,872.4 L1144.7,873.6 L1146.7,874.2 L1148.8,874.7 L1151.0,876.7 L1153.1,877.2 L1155.3,879.1 L1157.4,880.9 L1159.6,880.6 L1161.7,882.5 L1163.9,882.9 L1166.1,883.2 L1168.3,883.3 L1170.3,883.8 L1172.4,885.2 L1174.4,887.4 L1176.5,888.5 L1178.5,888.2 L1180.6,890.3 L1182.6,891.8 L1184.7,891.8 L1186.7,893.3 L1188.8,894.5 L1190.9,894.5 L1193.0,896.0 L1195.0,897.5 L1197.1,898.3 L1199.2,899.6 L1201.3,899.5 L1203.4,900.9 L1205.5,902.7 L1207.5,903.2 L1209.6,903.9 L1211.7,905.0 L1213.7,906.0 L1215.8,908.1 L1217.8,908.6 L1219.8,908.8 L1221.8,911.2 L1223.8,911.6 L1225.9,912.9 L1227.9,913.7 L1229.9,915.3 L1232.0,916.2 L1234.0,917.0 L1236.0,918.8 L1238.0,920.1 L1240.0,920.4 L1242.1,922.6 L1244.1,922.4 L1246.1,924.7 L1248.1,925.9 L1250.2,926.5 L1252.2,927.9 L1254.2,928.3 L1256.2,930.2 L1258.2,930.8 L1260.3,931.6 L1262.3,933.8 L1264.3,934.2 L1266.8,934.9 L1269.3,935.7 L1271.8,936.7 L1274.0,938.5 L1276.1,939.0 L1278.2,940.7 L1280.4,941.2 L1282.5,943.5 L1284.7,943.8 L1286.8,944.7 L1289.0,946.7 L1291.3,948.4 L1293.6,948.1 L1295.8,950.3 L1298.1,951.3 L1300.4,951.7 L1302.7,952.5 L1304.8,952.3 L1306.8,952.9 L1308.9,953.7 L1311.0,954.7 L1313.0,955.4 L1315.0,956.7 L1317.0,958.1 L1319.0,958.1 L1321.0,959.2 L1323.2,958.4 L1325.3,958.8 L1327.5,957.9 L1329.6,957.6 L1331.8,958.0 L1333.9,959.2 L1336.0,960.5 L1338.0,960.7 L1340.1,962.4 L1342.2,963.9 L1344.3,964.7 L1346.0,963.3 L1348.2,964.9 L1350.5,965.4 L1352.7,966.7 L1356.0,965.8 L1358.3,967.4 L1360.7,967.3 L1363.0,969.1 L1365.4,970.2 L1367.7,970.8 L1369.3,970.3 L1371.4,972.2 L1373.6,972.8 L1375.7,973.4 L1377.8,974.6 L1379.9,976.7 L1382.1,977.4 L1384.2,979.4 L1386.3,979.7 L1388.4,982.1 L1390.6,982.5 L1392.7,984.2 L1396.0,983.0 L1398.0,983.2 L1400.0,984.5 L1402.0,985.9 L1404.0,987.1 L1406.0,988.0 L1409.3,989.2 L1411.0,985.0 L1413.1,984.7 L1415.2,984.7 L1417.5,985.4 L1419.8,987.2 L1422.0,989.2 L1424.3,989.7 L1426.8,989.2 L1428.8,990.4 L1430.8,992.1 L1432.8,991.7 L1434.8,994.4 L1436.8,994.7 L1438.5,993.8 L1440.7,995.7 L1442.9,996.5 L1445.2,997.8 L1447.4,999.1 L1449.6,1001.0 L1451.8,1001.7 L1453.5,1000.3 L1456.0,1000.9 L1458.5,1003.1 L1461.0,1004.2 L1462.7,1001.3 L1464.8,1002.6 L1466.9,1003.4 L1469.0,1005.3 L1471.1,1006.6 L1473.2,1006.8 L1475.3,1009.0 L1477.4,1009.8 L1479.6,1011.1 L1481.7,1012.6 L1483.8,1012.9 L1485.9,1015.0 L1488.0,1015.8 L1490.1,1017.9 L1492.2,1018.0 L1494.3,1019.7 L1497.7,1014.7 L1500.0,1016.4 L1502.3,1017.5 L1504.7,1018.6 L1507.0,1020.2 L1509.3,1020.8 L1511.0,1019.7 L1513.2,1019.9 L1515.5,1021.7 L1517.7,1022.5 L1519.3,1021.3 L1522.2,1022.9 L1525.2,1024.2 L1527.7,1018.0 L1531.0,1018.7 L1534.3,1016.7 L1536.3,1018.0 L1538.3,1018.7 L1540.3,1019.2 L1542.3,1020.4 L1544.3,1022.0 L1546.0,1020.8 L1548.2,1021.8 L1550.5,1022.0 L1552.7,1023.3 L1554.3,1022.0 L1557.2,1022.4 L1560.2,1024.2 L1562.7,1022.9 L1565.2,1022.0 L1567.5,1022.8 L1569.8,1023.7 L1572.0,1023.7 L1574.3,1025.3 L1576.8,1024.3 L1579.3,1022.5 L1581.6,1023.4 L1584.0,1025.3 L1586.3,1025.2 L1588.7,1027.9 L1591.0,1028.3 L1594.3,1024.2 L1596.4,1025.5 L1598.5,1027.2 L1600.6,1028.4 L1602.7,1029.3 L1604.7,1029.3 L1606.8,1030.8 L1608.9,1031.7 L1611.0,1033.3 L1613.0,1030.8 L1615.0,1032.4 L1617.1,1032.5 L1619.1,1033.7 L1621.1,1034.6 L1623.2,1035.8 L1625.2,1037.5 L1626.8,1034.2 L1628.9,1036.0 L1631.0,1037.2 L1633.0,1037.3 L1635.1,1039.0 L1637.2,1039.7 L1639.3,1040.9 L1641.3,1041.8 L1643.4,1043.3 L1645.5,1043.8 L1647.6,1045.0 L1649.6,1046.5 L1651.7,1047.1 L1653.8,1048.7 L1655.8,1043.8 L1657.7,1045.0" fill="none" stroke="#cb2722" stroke-width="1.7" stroke-linejoin="round"/>
<text transform="translate(1517.30,874.20) scale(1.000,1.070)" font-size="13.9" text-anchor="end" fill="#c92a26" stroke="#c92a26" stroke-width="0.4">HALLMARK_EPITHELIAL_MESENCHYMAL_TRANSITION</text>
<rect x="1521.00" y="843.30" width="49.30" height="15.00" fill="#cbcbcb"/>
<rect x="1571.10" y="843.30" width="50.40" height="15.00" fill="#cbcbcb"/>
<rect x="1521.00" y="858.80" width="100.50" height="17.90" fill="#ededed"/>
<rect x="1571.10" y="858.80" width="50.40" height="17.90" fill="#e4e4e4"/>
<text transform="translate(1545.85,854.50) scale(1.000,1.120)" font-size="8.7" text-anchor="middle" fill="#111" font-weight="bold" stroke="#111" stroke-width="0.3">pvalue</text>
<text transform="translate(1596.10,854.50) scale(1.000,1.120)" font-size="10.4" text-anchor="middle" fill="#111" font-weight="bold" stroke="#111" stroke-width="0.3">p.adjust</text>
<text transform="translate(1546.45,872.30) scale(1.000,1.120)" font-size="10.6" text-anchor="middle" fill="#222" stroke="#222" stroke-width="0.3">1.634e-11</text>
<text transform="translate(1596.50,872.30) scale(1.000,1.120)" font-size="10.6" text-anchor="middle" fill="#222" stroke="#222" stroke-width="0.3">4.084e-10</text>
<rect x="861.80" y="1114.70" width="196.50" height="22.00" fill="#d8403a"/>
<rect x="1058.00" y="1114.70" width="135.10" height="22.00" fill="#ed745c"/>
<rect x="1192.80" y="1114.70" width="114.30" height="22.00" fill="#f4b098"/>
<rect x="1306.80" y="1114.70" width="118.70" height="22.00" fill="#fce6dc"/>
<rect x="1425.20" y="1114.70" width="76.10" height="22.00" fill="#edf2fb"/>
<rect x="1501.00" y="1114.70" width="78.30" height="22.00" fill="#bcd6e6"/>
<rect x="1579.00" y="1114.70" width="44.80" height="22.00" fill="#74aed4"/>
<rect x="1623.50" y="1114.70" width="34.80" height="22.00" fill="#3f84b8"/>
<line x1="862.80" y1="1062.00" x2="862.80" y2="1114.70" stroke="#000" stroke-width="1.12" opacity="1.00"/>
<line x1="862.80" y1="1114.70" x2="862.80" y2="1136.70" stroke="#000" stroke-width="1.12" opacity="0.070"/>
<line x1="863.66" y1="1062.00" x2="863.66" y2="1114.70" stroke="#000" stroke-width="1.12" opacity="1.00"/>
<line x1="863.66" y1="1114.70" x2="863.66" y2="1136.70" stroke="#000" stroke-width="1.12" opacity="0.070"/>
<line x1="864.40" y1="1062.00" x2="864.40" y2="1114.70" stroke="#000" stroke-width="1.12" opacity="1.00"/>
<line x1="864.40" y1="1114.70" x2="864.40" y2="1136.70" stroke="#000" stroke-width="1.12" opacity="0.070"/>
<line x1="865.05" y1="1062.00" x2="865.05" y2="1114.70" stroke="#000" stroke-width="1.12" opacity="1.00"/>
<line x1="865.05" y1="1114.70" x2="865.05" y2="1136.70" stroke="#000" stroke-width="1.12" opacity="0.070"/>
<line x1="865.79" y1="1062.00" x2="865.79" y2="1114.70" stroke="#000" stroke-width="1.12" opacity="1.00"/>
<line x1="865.79" y1="1114.70" x2="865.79" y2="1136.70" stroke="#000" stroke-width="1.12" opacity="0.070"/>
<line x1="866.63" y1="1062.00" x2="866.63" y2="1114.70" stroke="#000" stroke-width="1.12" opacity="0.87"/>
<line x1="866.63" y1="1114.70" x2="866.63" y2="1136.70" stroke="#000" stroke-width="1.12" opacity="0.061"/>
<line x1="867.37" y1="1062.00" x2="867.37" y2="1114.70" stroke="#000" stroke-width="1.12" opacity="0.87"/>
<line x1="867.37" y1="1114.70" x2="867.37" y2="1136.70" stroke="#000" stroke-width="1.12" opacity="0.061"/>
<line x1="867.99" y1="1062.00" x2="867.99" y2="1114.70" stroke="#000" stroke-width="1.12" opacity="1.00"/>
<line x1="867.99" y1="1114.70" x2="867.99" y2="1136.70" stroke="#000" stroke-width="1.12" opacity="0.070"/>
<line x1="868.78" y1="1062.00" x2="868.78" y2="1114.70" stroke="#000" stroke-width="1.12" opacity="1.00"/>
<line x1="868.78" y1="1114.70" x2="868.78" y2="1136.70" stroke="#000" stroke-width="1.12" opacity="0.070"/>
<line x1="869.68" y1="1062.00" x2="869.68" y2="1114.70" stroke="#000" stroke-width="1.12" opacity="1.00"/>
<line x1="869.68" y1="1114.70" x2="869.68" y2="1136.70" stroke="#000" stroke-width="1.12" opacity="0.070"/>
<line x1="870.48" y1="1062.00" x2="870.48" y2="1114.70" stroke="#000" stroke-width="1.12" opacity="1.00"/>
<line x1="870.48" y1="1114.70" x2="870.48" y2="1136.70" stroke="#000" stroke-width="1.12" opacity="0.070"/>
<line x1="871.27" y1="1062.00" x2="871.27" y2="1114.70" stroke="#000" stroke-width="1.12" opacity="1.00"/>
<line x1="871.27" y1="1114.70" x2="871.27" y2="1136.70" stroke="#000" stroke-width="1.12" opacity="0.070"/>
<line x1="871.87" y1="1062.00" x2="871.87" y2="1114.70" stroke="#000" stroke-width="1.12" opacity="1.00"/>
<line x1="871.87" y1="1114.70" x2="871.87" y2="1136.70" stroke="#000" stroke-width="1.12" opacity="0.070"/>
<line x1="872.49" y1="1062.00" x2="872.49" y2="1114.70" stroke="#000" stroke-width="1.12" opacity="0.87"/>
<line x1="872.49" y1="1114.70" x2="872.49" y2="1136.70" stroke="#000" stroke-width="1.12" opacity="0.061"/>
<line x1="873.15" y1="1062.00" x2="873.15" y2="1114.70" stroke="#000" stroke-width="1.12" opacity="0.87"/>
<line x1="873.15" y1="1114.70" x2="873.15" y2="1136.70" stroke="#000" stroke-width="1.12" opacity="0.061"/>
<line x1="876.67" y1="1062.00" x2="876.67" y2="1114.70" stroke="#000" stroke-width="1.12" opacity="0.63"/>
<line x1="876.67" y1="1114.70" x2="876.67" y2="1136.70" stroke="#000" stroke-width="1.12" opacity="0.044"/>
<line x1="881.33" y1="1062.00" x2="881.33" y2="1114.70" stroke="#000" stroke-width="1.12" opacity="1.00"/>
<line x1="881.33" y1="1114.70" x2="881.33" y2="1136.70" stroke="#000" stroke-width="1.12" opacity="0.070"/>
<line x1="882.33" y1="1062.00" x2="882.33" y2="1114.70" stroke="#000" stroke-width="1.12" opacity="0.87"/>
<line x1="882.33" y1="1114.70" x2="882.33" y2="1136.70" stroke="#000" stroke-width="1.12" opacity="0.061"/>
<line x1="886.00" y1="1062.00" x2="886.00" y2="1114.70" stroke="#000" stroke-width="1.12" opacity="0.87"/>
<line x1="886.00" y1="1114.70" x2="886.00" y2="1136.70" stroke="#000" stroke-width="1.12" opacity="0.061"/>
<line x1="887.00" y1="1062.00" x2="887.00" y2="1114.70" stroke="#000" stroke-width="1.12" opacity="0.87"/>
<line x1="887.00" y1="1114.70" x2="887.00" y2="1136.70" stroke="#000" stroke-width="1.12" opacity="0.061"/>
<line x1="888.00" y1="1062.00" x2="888.00" y2="1114.70" stroke="#000" stroke-width="1.12" opacity="0.63"/>
<line x1="888.00" y1="1114.70" x2="888.00" y2="1136.70" stroke="#000" stroke-width="1.12" opacity="0.044"/>
<line x1="889.00" y1="1062.00" x2="889.00" y2="1114.70" stroke="#000" stroke-width="1.12" opacity="1.00"/>
<line x1="889.00" y1="1114.70" x2="889.00" y2="1136.70" stroke="#000" stroke-width="1.12" opacity="0.070"/>
<line x1="890.00" y1="1062.00" x2="890.00" y2="1114.70" stroke="#000" stroke-width="1.12" opacity="0.87"/>
<line x1="890.00" y1="1114.70" x2="890.00" y2="1136.70" stroke="#000" stroke-width="1.12" opacity="0.061"/>
<line x1="896.00" y1="1062.00" x2="896.00" y2="1114.70" stroke="#000" stroke-width="1.12" opacity="0.63"/>
<line x1="896.00" y1="1114.70" x2="896.00" y2="1136.70" stroke="#000" stroke-width="1.12" opacity="0.044"/>
<line x1="897.00" y1="1062.00" x2="897.00" y2="1114.70" stroke="#000" stroke-width="1.12" opacity="0.75"/>
<line x1="897.00" y1="1114.70" x2="897.00" y2="1136.70" stroke="#000" stroke-width="1.12" opacity="0.053"/>
<line x1="898.00" y1="1062.00" x2="898.00" y2="1114.70" stroke="#000" stroke-width="1.12" opacity="0.63"/>
<line x1="898.00" y1="1114.70" x2="898.00" y2="1136.70" stroke="#000" stroke-width="1.12" opacity="0.044"/>
<line x1="899.33" y1="1062.00" x2="899.33" y2="1114.70" stroke="#000" stroke-width="1.12" opacity="1.00"/>
<line x1="899.33" y1="1114.70" x2="899.33" y2="1136.70" stroke="#000" stroke-width="1.12" opacity="0.070"/>
<line x1="900.50" y1="1062.00" x2="900.50" y2="1114.70" stroke="#000" stroke-width="1.12" opacity="1.00"/>
<line x1="900.50" y1="1114.70" x2="900.50" y2="1136.70" stroke="#000" stroke-width="1.12" opacity="0.070"/>
<line x1="901.67" y1="1062.00" x2="901.67" y2="1114.70" stroke="#000" stroke-width="1.12" opacity="0.63"/>
<line x1="901.67" y1="1114.70" x2="901.67" y2="1136.70" stroke="#000" stroke-width="1.12" opacity="0.044"/>
<line x1="905.83" y1="1062.00" x2="905.83" y2="1114.70" stroke="#000" stroke-width="1.12" opacity="0.75"/>
<line x1="905.83" y1="1114.70" x2="905.83" y2="1136.70" stroke="#000" stroke-width="1.12" opacity="0.053"/>
<line x1="906.83" y1="1062.00" x2="906.83" y2="1114.70" stroke="#000" stroke-width="1.12" opacity="0.75"/>
<line x1="906.83" y1="1114.70" x2="906.83" y2="1136.70" stroke="#000" stroke-width="1.12" opacity="0.053"/>
<line x1="908.00" y1="1062.00" x2="908.00" y2="1114.70" stroke="#000" stroke-width="1.12" opacity="0.63"/>
<line x1="908.00" y1="1114.70" x2="908.00" y2="1136.70" stroke="#000" stroke-width="1.12" opacity="0.044"/>
<line x1="909.00" y1="1062.00" x2="909.00" y2="1114.70" stroke="#000" stroke-width="1.12" opacity="0.75"/>
<line x1="909.00" y1="1114.70" x2="909.00" y2="1136.70" stroke="#000" stroke-width="1.12" opacity="0.053"/>
<line x1="910.17" y1="1062.00" x2="910.17" y2="1114.70" stroke="#000" stroke-width="1.12" opacity="1.00"/>
<line x1="910.17" y1="1114.70" x2="910.17" y2="1136.70" stroke="#000" stroke-width="1.12" opacity="0.070"/>
<line x1="911.33" y1="1062.00" x2="911.33" y2="1114.70" stroke="#000" stroke-width="1.12" opacity="1.00"/>
<line x1="911.33" y1="1114.70" x2="911.33" y2="1136.70" stroke="#000" stroke-width="1.12" opacity="0.070"/>
<line x1="915.00" y1="1062.00" x2="915.00" y2="1114.70" stroke="#000" stroke-width="1.12" opacity="0.69"/>
<line x1="915.00" y1="1114.70" x2="915.00" y2="1136.70" stroke="#000" stroke-width="1.12" opacity="0.048"/>
<line x1="919.83" y1="1062.00" x2="919.83" y2="1114.70" stroke="#000" stroke-width="1.12" opacity="1.00"/>
<line x1="919.83" y1="1114.70" x2="919.83" y2="1136.70" stroke="#000" stroke-width="1.12" opacity="0.070"/>
<line x1="920.83" y1="1062.00" x2="920.83" y2="1114.70" stroke="#000" stroke-width="1.12" opacity="1.00"/>
<line x1="920.83" y1="1114.70" x2="920.83" y2="1136.70" stroke="#000" stroke-width="1.12" opacity="0.070"/>
<line x1="921.83" y1="1062.00" x2="921.83" y2="1114.70" stroke="#000" stroke-width="1.12" opacity="1.00"/>
<line x1="921.83" y1="1114.70" x2="921.83" y2="1136.70" stroke="#000" stroke-width="1.12" opacity="0.070"/>
<line x1="922.83" y1="1062.00" x2="922.83" y2="1114.70" stroke="#000" stroke-width="1.12" opacity="0.87"/>
<line x1="922.83" y1="1114.70" x2="922.83" y2="1136.70" stroke="#000" stroke-width="1.12" opacity="0.061"/>
<line x1="923.83" y1="1062.00" x2="923.83" y2="1114.70" stroke="#000" stroke-width="1.12" opacity="0.87"/>
<line x1="923.83" y1="1114.70" x2="923.83" y2="1136.70" stroke="#000" stroke-width="1.12" opacity="0.061"/>
<line x1="924.83" y1="1062.00" x2="924.83" y2="1114.70" stroke="#000" stroke-width="1.12" opacity="0.75"/>
<line x1="924.83" y1="1114.70" x2="924.83" y2="1136.70" stroke="#000" stroke-width="1.12" opacity="0.053"/>
<line x1="925.83" y1="1062.00" x2="925.83" y2="1114.70" stroke="#000" stroke-width="1.12" opacity="0.75"/>
<line x1="925.83" y1="1114.70" x2="925.83" y2="1136.70" stroke="#000" stroke-width="1.12" opacity="0.053"/>
<line x1="926.83" y1="1062.00" x2="926.83" y2="1114.70" stroke="#000" stroke-width="1.12" opacity="0.69"/>
<line x1="926.83" y1="1114.70" x2="926.83" y2="1136.70" stroke="#000" stroke-width="1.12" opacity="0.048"/>
<line x1="928.00" y1="1062.00" x2="928.00" y2="1114.70" stroke="#000" stroke-width="1.12" opacity="0.63"/>
<line x1="928.00" y1="1114.70" x2="928.00" y2="1136.70" stroke="#000" stroke-width="1.12" opacity="0.044"/>
<line x1="929.00" y1="1062.00" x2="929.00" y2="1114.70" stroke="#000" stroke-width="1.12" opacity="0.57"/>
<line x1="929.00" y1="1114.70" x2="929.00" y2="1136.70" stroke="#000" stroke-width="1.12" opacity="0.040"/>
<line x1="935.00" y1="1062.00" x2="935.00" y2="1114.70" stroke="#000" stroke-width="1.12" opacity="0.87"/>
<line x1="935.00" y1="1114.70" x2="935.00" y2="1136.70" stroke="#000" stroke-width="1.12" opacity="0.061"/>
<line x1="936.00" y1="1062.00" x2="936.00" y2="1114.70" stroke="#000" stroke-width="1.12" opacity="0.87"/>
<line x1="936.00" y1="1114.70" x2="936.00" y2="1136.70" stroke="#000" stroke-width="1.12" opacity="0.061"/>
<line x1="937.00" y1="1062.00" x2="937.00" y2="1114.70" stroke="#000" stroke-width="1.12" opacity="0.75"/>
<line x1="937.00" y1="1114.70" x2="937.00" y2="1136.70" stroke="#000" stroke-width="1.12" opacity="0.053"/>
<line x1="938.17" y1="1062.00" x2="938.17" y2="1114.70" stroke="#000" stroke-width="1.12" opacity="1.00"/>
<line x1="938.17" y1="1114.70" x2="938.17" y2="1136.70" stroke="#000" stroke-width="1.12" opacity="0.070"/>
<line x1="939.33" y1="1062.00" x2="939.33" y2="1114.70" stroke="#000" stroke-width="1.12" opacity="1.00"/>
<line x1="939.33" y1="1114.70" x2="939.33" y2="1136.70" stroke="#000" stroke-width="1.12" opacity="0.070"/>
<line x1="940.33" y1="1062.00" x2="940.33" y2="1114.70" stroke="#000" stroke-width="1.12" opacity="0.87"/>
<line x1="940.33" y1="1114.70" x2="940.33" y2="1136.70" stroke="#000" stroke-width="1.12" opacity="0.061"/>
<line x1="944.17" y1="1062.00" x2="944.17" y2="1114.70" stroke="#000" stroke-width="1.12" opacity="0.87"/>
<line x1="944.17" y1="1114.70" x2="944.17" y2="1136.70" stroke="#000" stroke-width="1.12" opacity="0.061"/>
<line x1="950.83" y1="1062.00" x2="950.83" y2="1114.70" stroke="#000" stroke-width="1.12" opacity="1.00"/>
<line x1="950.83" y1="1114.70" x2="950.83" y2="1136.70" stroke="#000" stroke-width="1.12" opacity="0.070"/>
<line x1="951.67" y1="1062.00" x2="951.67" y2="1114.70" stroke="#000" stroke-width="1.12" opacity="1.00"/>
<line x1="951.67" y1="1114.70" x2="951.67" y2="1136.70" stroke="#000" stroke-width="1.12" opacity="0.070"/>
<line x1="952.67" y1="1062.00" x2="952.67" y2="1114.70" stroke="#000" stroke-width="1.12" opacity="0.87"/>
<line x1="952.67" y1="1114.70" x2="952.67" y2="1136.70" stroke="#000" stroke-width="1.12" opacity="0.061"/>
<line x1="956.00" y1="1062.00" x2="956.00" y2="1114.70" stroke="#000" stroke-width="1.12" opacity="0.87"/>
<line x1="956.00" y1="1114.70" x2="956.00" y2="1136.70" stroke="#000" stroke-width="1.12" opacity="0.061"/>
<line x1="957.00" y1="1062.00" x2="957.00" y2="1114.70" stroke="#000" stroke-width="1.12" opacity="0.63"/>
<line x1="957.00" y1="1114.70" x2="957.00" y2="1136.70" stroke="#000" stroke-width="1.12" opacity="0.044"/>
<line x1="959.17" y1="1062.00" x2="959.17" y2="1114.70" stroke="#000" stroke-width="1.12" opacity="1.00"/>
<line x1="959.17" y1="1114.70" x2="959.17" y2="1136.70" stroke="#000" stroke-width="1.12" opacity="0.070"/>
<line x1="960.17" y1="1062.00" x2="960.17" y2="1114.70" stroke="#000" stroke-width="1.12" opacity="1.00"/>
<line x1="960.17" y1="1114.70" x2="960.17" y2="1136.70" stroke="#000" stroke-width="1.12" opacity="0.070"/>
<line x1="961.17" y1="1062.00" x2="961.17" y2="1114.70" stroke="#000" stroke-width="1.12" opacity="0.75"/>
<line x1="961.17" y1="1114.70" x2="961.17" y2="1136.70" stroke="#000" stroke-width="1.12" opacity="0.053"/>
<line x1="962.17" y1="1062.00" x2="962.17" y2="1114.70" stroke="#000" stroke-width="1.12" opacity="0.63"/>
<line x1="962.17" y1="1114.70" x2="962.17" y2="1136.70" stroke="#000" stroke-width="1.12" opacity="0.044"/>
<line x1="963.17" y1="1062.00" x2="963.17" y2="1114.70" stroke="#000" stroke-width="1.12" opacity="0.57"/>
<line x1="963.17" y1="1114.70" x2="963.17" y2="1136.70" stroke="#000" stroke-width="1.12" opacity="0.040"/>
<line x1="971.67" y1="1062.00" x2="971.67" y2="1114.70" stroke="#000" stroke-width="1.12" opacity="0.69"/>
<line x1="971.67" y1="1114.70" x2="971.67" y2="1136.70" stroke="#000" stroke-width="1.12" opacity="0.048"/>
<line x1="977.50" y1="1062.00" x2="977.50" y2="1114.70" stroke="#000" stroke-width="1.12" opacity="0.63"/>
<line x1="977.50" y1="1114.70" x2="977.50" y2="1136.70" stroke="#000" stroke-width="1.12" opacity="0.044"/>
<line x1="980.33" y1="1062.00" x2="980.33" y2="1114.70" stroke="#000" stroke-width="1.12" opacity="0.69"/>
<line x1="980.33" y1="1114.70" x2="980.33" y2="1136.70" stroke="#000" stroke-width="1.12" opacity="0.048"/>
<line x1="988.33" y1="1062.00" x2="988.33" y2="1114.70" stroke="#000" stroke-width="1.12" opacity="0.63"/>
<line x1="988.33" y1="1114.70" x2="988.33" y2="1136.70" stroke="#000" stroke-width="1.12" opacity="0.044"/>
<line x1="993.33" y1="1062.00" x2="993.33" y2="1114.70" stroke="#000" stroke-width="1.12" opacity="0.75"/>
<line x1="993.33" y1="1114.70" x2="993.33" y2="1136.70" stroke="#000" stroke-width="1.12" opacity="0.053"/>
<line x1="994.50" y1="1062.00" x2="994.50" y2="1114.70" stroke="#000" stroke-width="1.12" opacity="0.75"/>
<line x1="994.50" y1="1114.70" x2="994.50" y2="1136.70" stroke="#000" stroke-width="1.12" opacity="0.053"/>
<line x1="998.33" y1="1062.00" x2="998.33" y2="1114.70" stroke="#000" stroke-width="1.12" opacity="0.63"/>
<line x1="998.33" y1="1114.70" x2="998.33" y2="1136.70" stroke="#000" stroke-width="1.12" opacity="0.044"/>
<line x1="1001.67" y1="1062.00" x2="1001.67" y2="1114.70" stroke="#000" stroke-width="1.12" opacity="0.87"/>
<line x1="1001.67" y1="1114.70" x2="1001.67" y2="1136.70" stroke="#000" stroke-width="1.12" opacity="0.061"/>
<line x1="1002.83" y1="1062.00" x2="1002.83" y2="1114.70" stroke="#000" stroke-width="1.12" opacity="0.87"/>
<line x1="1002.83" y1="1114.70" x2="1002.83" y2="1136.70" stroke="#000" stroke-width="1.12" opacity="0.061"/>
<line x1="1004.00" y1="1062.00" x2="1004.00" y2="1114.70" stroke="#000" stroke-width="1.12" opacity="0.87"/>
<line x1="1004.00" y1="1114.70" x2="1004.00" y2="1136.70" stroke="#000" stroke-width="1.12" opacity="0.061"/>
<line x1="1008.33" y1="1062.00" x2="1008.33" y2="1114.70" stroke="#000" stroke-width="1.12" opacity="0.45"/>
<line x1="1008.33" y1="1114.70" x2="1008.33" y2="1136.70" stroke="#000" stroke-width="1.12" opacity="0.031"/>
<line x1="1009.50" y1="1062.00" x2="1009.50" y2="1114.70" stroke="#000" stroke-width="1.12" opacity="0.45"/>
<line x1="1009.50" y1="1114.70" x2="1009.50" y2="1136.70" stroke="#000" stroke-width="1.12" opacity="0.031"/>
<line x1="1010.67" y1="1062.00" x2="1010.67" y2="1114.70" stroke="#000" stroke-width="1.12" opacity="0.45"/>
<line x1="1010.67" y1="1114.70" x2="1010.67" y2="1136.70" stroke="#000" stroke-width="1.12" opacity="0.031"/>
<line x1="1011.67" y1="1062.00" x2="1011.67" y2="1114.70" stroke="#000" stroke-width="1.12" opacity="0.45"/>
<line x1="1011.67" y1="1114.70" x2="1011.67" y2="1136.70" stroke="#000" stroke-width="1.12" opacity="0.031"/>
<line x1="1016.00" y1="1062.00" x2="1016.00" y2="1114.70" stroke="#000" stroke-width="1.12" opacity="0.45"/>
<line x1="1016.00" y1="1114.70" x2="1016.00" y2="1136.70" stroke="#000" stroke-width="1.12" opacity="0.031"/>
<line x1="1017.17" y1="1062.00" x2="1017.17" y2="1114.70" stroke="#000" stroke-width="1.12" opacity="0.45"/>
<line x1="1017.17" y1="1114.70" x2="1017.17" y2="1136.70" stroke="#000" stroke-width="1.12" opacity="0.031"/>
<line x1="1018.33" y1="1062.00" x2="1018.33" y2="1114.70" stroke="#000" stroke-width="1.12" opacity="0.45"/>
<line x1="1018.33" y1="1114.70" x2="1018.33" y2="1136.70" stroke="#000" stroke-width="1.12" opacity="0.031"/>
<line x1="1019.33" y1="1062.00" x2="1019.33" y2="1114.70" stroke="#000" stroke-width="1.12" opacity="0.39"/>
<line x1="1019.33" y1="1114.70" x2="1019.33" y2="1136.70" stroke="#000" stroke-width="1.12" opacity="0.027"/>
<line x1="1022.83" y1="1062.00" x2="1022.83" y2="1114.70" stroke="#000" stroke-width="1.12" opacity="0.63"/>
<line x1="1022.83" y1="1114.70" x2="1022.83" y2="1136.70" stroke="#000" stroke-width="1.12" opacity="0.044"/>
<line x1="1029.17" y1="1062.00" x2="1029.17" y2="1114.70" stroke="#000" stroke-width="1.12" opacity="0.57"/>
<line x1="1029.17" y1="1114.70" x2="1029.17" y2="1136.70" stroke="#000" stroke-width="1.12" opacity="0.040"/>
<line x1="1033.33" y1="1062.00" x2="1033.33" y2="1114.70" stroke="#000" stroke-width="1.12" opacity="0.57"/>
<line x1="1033.33" y1="1114.70" x2="1033.33" y2="1136.70" stroke="#000" stroke-width="1.12" opacity="0.040"/>
<line x1="1039.17" y1="1062.00" x2="1039.17" y2="1114.70" stroke="#000" stroke-width="1.12" opacity="0.63"/>
<line x1="1039.17" y1="1114.70" x2="1039.17" y2="1136.70" stroke="#000" stroke-width="1.12" opacity="0.044"/>
<line x1="1041.67" y1="1062.00" x2="1041.67" y2="1114.70" stroke="#000" stroke-width="1.12" opacity="0.63"/>
<line x1="1041.67" y1="1114.70" x2="1041.67" y2="1136.70" stroke="#000" stroke-width="1.12" opacity="0.044"/>
<line x1="1045.83" y1="1062.00" x2="1045.83" y2="1114.70" stroke="#000" stroke-width="1.12" opacity="0.63"/>
<line x1="1045.83" y1="1114.70" x2="1045.83" y2="1136.70" stroke="#000" stroke-width="1.12" opacity="0.044"/>
<line x1="1052.50" y1="1062.00" x2="1052.50" y2="1114.70" stroke="#000" stroke-width="1.12" opacity="0.75"/>
<line x1="1052.50" y1="1114.70" x2="1052.50" y2="1136.70" stroke="#000" stroke-width="1.12" opacity="0.053"/>
<line x1="1053.67" y1="1062.00" x2="1053.67" y2="1114.70" stroke="#000" stroke-width="1.12" opacity="0.75"/>
<line x1="1053.67" y1="1114.70" x2="1053.67" y2="1136.70" stroke="#000" stroke-width="1.12" opacity="0.053"/>
<line x1="1055.00" y1="1062.00" x2="1055.00" y2="1114.70" stroke="#000" stroke-width="1.12" opacity="0.75"/>
<line x1="1055.00" y1="1114.70" x2="1055.00" y2="1136.70" stroke="#000" stroke-width="1.12" opacity="0.053"/>
<line x1="1058.33" y1="1062.00" x2="1058.33" y2="1114.70" stroke="#000" stroke-width="1.12" opacity="0.51"/>
<line x1="1058.33" y1="1114.70" x2="1058.33" y2="1136.70" stroke="#000" stroke-width="1.12" opacity="0.036"/>
<line x1="1065.00" y1="1062.00" x2="1065.00" y2="1114.70" stroke="#000" stroke-width="1.12" opacity="0.57"/>
<line x1="1065.00" y1="1114.70" x2="1065.00" y2="1136.70" stroke="#000" stroke-width="1.12" opacity="0.040"/>
<line x1="1068.33" y1="1062.00" x2="1068.33" y2="1114.70" stroke="#000" stroke-width="1.12" opacity="1.00"/>
<line x1="1068.33" y1="1114.70" x2="1068.33" y2="1136.70" stroke="#000" stroke-width="1.12" opacity="0.070"/>
<line x1="1069.33" y1="1062.00" x2="1069.33" y2="1114.70" stroke="#000" stroke-width="1.12" opacity="1.00"/>
<line x1="1069.33" y1="1114.70" x2="1069.33" y2="1136.70" stroke="#000" stroke-width="1.12" opacity="0.070"/>
<line x1="1070.50" y1="1062.00" x2="1070.50" y2="1114.70" stroke="#000" stroke-width="1.12" opacity="1.00"/>
<line x1="1070.50" y1="1114.70" x2="1070.50" y2="1136.70" stroke="#000" stroke-width="1.12" opacity="0.070"/>
<line x1="1077.50" y1="1062.00" x2="1077.50" y2="1114.70" stroke="#000" stroke-width="1.12" opacity="1.00"/>
<line x1="1077.50" y1="1114.70" x2="1077.50" y2="1136.70" stroke="#000" stroke-width="1.12" opacity="0.070"/>
<line x1="1078.50" y1="1062.00" x2="1078.50" y2="1114.70" stroke="#000" stroke-width="1.12" opacity="1.00"/>
<line x1="1078.50" y1="1114.70" x2="1078.50" y2="1136.70" stroke="#000" stroke-width="1.12" opacity="0.070"/>
<line x1="1079.33" y1="1062.00" x2="1079.33" y2="1114.70" stroke="#000" stroke-width="1.12" opacity="0.87"/>
<line x1="1079.33" y1="1114.70" x2="1079.33" y2="1136.70" stroke="#000" stroke-width="1.12" opacity="0.061"/>
<line x1="1084.17" y1="1062.00" x2="1084.17" y2="1114.70" stroke="#000" stroke-width="1.12" opacity="0.75"/>
<line x1="1084.17" y1="1114.70" x2="1084.17" y2="1136.70" stroke="#000" stroke-width="1.12" opacity="0.053"/>
<line x1="1092.83" y1="1062.00" x2="1092.83" y2="1114.70" stroke="#000" stroke-width="1.12" opacity="0.75"/>
<line x1="1092.83" y1="1114.70" x2="1092.83" y2="1136.70" stroke="#000" stroke-width="1.12" opacity="0.053"/>
<line x1="1094.00" y1="1062.00" x2="1094.00" y2="1114.70" stroke="#000" stroke-width="1.12" opacity="0.69"/>
<line x1="1094.00" y1="1114.70" x2="1094.00" y2="1136.70" stroke="#000" stroke-width="1.12" opacity="0.048"/>
<line x1="1099.00" y1="1062.00" x2="1099.00" y2="1114.70" stroke="#000" stroke-width="1.12" opacity="0.87"/>
<line x1="1099.00" y1="1114.70" x2="1099.00" y2="1136.70" stroke="#000" stroke-width="1.12" opacity="0.061"/>
<line x1="1100.17" y1="1062.00" x2="1100.17" y2="1114.70" stroke="#000" stroke-width="1.12" opacity="0.87"/>
<line x1="1100.17" y1="1114.70" x2="1100.17" y2="1136.70" stroke="#000" stroke-width="1.12" opacity="0.061"/>
<line x1="1106.33" y1="1062.00" x2="1106.33" y2="1114.70" stroke="#000" stroke-width="1.12" opacity="0.63"/>
<line x1="1106.33" y1="1114.70" x2="1106.33" y2="1136.70" stroke="#000" stroke-width="1.12" opacity="0.044"/>
<line x1="1117.83" y1="1062.00" x2="1117.83" y2="1114.70" stroke="#000" stroke-width="1.12" opacity="0.63"/>
<line x1="1117.83" y1="1114.70" x2="1117.83" y2="1136.70" stroke="#000" stroke-width="1.12" opacity="0.044"/>
<line x1="1123.33" y1="1062.00" x2="1123.33" y2="1114.70" stroke="#000" stroke-width="1.12" opacity="0.63"/>
<line x1="1123.33" y1="1114.70" x2="1123.33" y2="1136.70" stroke="#000" stroke-width="1.12" opacity="0.044"/>
<line x1="1125.33" y1="1062.00" x2="1125.33" y2="1114.70" stroke="#000" stroke-width="1.12" opacity="0.63"/>
<line x1="1125.33" y1="1114.70" x2="1125.33" y2="1136.70" stroke="#000" stroke-width="1.12" opacity="0.044"/>
<line x1="1126.67" y1="1062.00" x2="1126.67" y2="1114.70" stroke="#000" stroke-width="1.12" opacity="0.63"/>
<line x1="1126.67" y1="1114.70" x2="1126.67" y2="1136.70" stroke="#000" stroke-width="1.12" opacity="0.044"/>
<line x1="1138.00" y1="1062.00" x2="1138.00" y2="1114.70" stroke="#000" stroke-width="1.12" opacity="0.63"/>
<line x1="1138.00" y1="1114.70" x2="1138.00" y2="1136.70" stroke="#000" stroke-width="1.12" opacity="0.044"/>
<line x1="1139.33" y1="1062.00" x2="1139.33" y2="1114.70" stroke="#000" stroke-width="1.12" opacity="0.63"/>
<line x1="1139.33" y1="1114.70" x2="1139.33" y2="1136.70" stroke="#000" stroke-width="1.12" opacity="0.044"/>
<line x1="1164.17" y1="1062.00" x2="1164.17" y2="1114.70" stroke="#000" stroke-width="1.12" opacity="0.75"/>
<line x1="1164.17" y1="1114.70" x2="1164.17" y2="1136.70" stroke="#000" stroke-width="1.12" opacity="0.053"/>
<line x1="1165.33" y1="1062.00" x2="1165.33" y2="1114.70" stroke="#000" stroke-width="1.12" opacity="0.75"/>
<line x1="1165.33" y1="1114.70" x2="1165.33" y2="1136.70" stroke="#000" stroke-width="1.12" opacity="0.053"/>
<line x1="1166.67" y1="1062.00" x2="1166.67" y2="1114.70" stroke="#000" stroke-width="1.12" opacity="1.00"/>
<line x1="1166.67" y1="1114.70" x2="1166.67" y2="1136.70" stroke="#000" stroke-width="1.12" opacity="0.070"/>
<line x1="1167.83" y1="1062.00" x2="1167.83" y2="1114.70" stroke="#000" stroke-width="1.12" opacity="1.00"/>
<line x1="1167.83" y1="1114.70" x2="1167.83" y2="1136.70" stroke="#000" stroke-width="1.12" opacity="0.070"/>
<line x1="1180.83" y1="1062.00" x2="1180.83" y2="1114.70" stroke="#000" stroke-width="1.12" opacity="0.63"/>
<line x1="1180.83" y1="1114.70" x2="1180.83" y2="1136.70" stroke="#000" stroke-width="1.12" opacity="0.044"/>
<line x1="1182.17" y1="1062.00" x2="1182.17" y2="1114.70" stroke="#000" stroke-width="1.12" opacity="0.63"/>
<line x1="1182.17" y1="1114.70" x2="1182.17" y2="1136.70" stroke="#000" stroke-width="1.12" opacity="0.044"/>
<line x1="1188.33" y1="1062.00" x2="1188.33" y2="1114.70" stroke="#000" stroke-width="1.12" opacity="0.63"/>
<line x1="1188.33" y1="1114.70" x2="1188.33" y2="1136.70" stroke="#000" stroke-width="1.12" opacity="0.044"/>
<line x1="1194.17" y1="1062.00" x2="1194.17" y2="1114.70" stroke="#000" stroke-width="1.12" opacity="0.69"/>
<line x1="1194.17" y1="1114.70" x2="1194.17" y2="1136.70" stroke="#000" stroke-width="1.12" opacity="0.048"/>
<line x1="1197.50" y1="1062.00" x2="1197.50" y2="1114.70" stroke="#000" stroke-width="1.12" opacity="0.75"/>
<line x1="1197.50" y1="1114.70" x2="1197.50" y2="1136.70" stroke="#000" stroke-width="1.12" opacity="0.053"/>
<line x1="1210.00" y1="1062.00" x2="1210.00" y2="1114.70" stroke="#000" stroke-width="1.12" opacity="0.75"/>
<line x1="1210.00" y1="1114.70" x2="1210.00" y2="1136.70" stroke="#000" stroke-width="1.12" opacity="0.053"/>
<line x1="1213.00" y1="1062.00" x2="1213.00" y2="1114.70" stroke="#000" stroke-width="1.12" opacity="0.57"/>
<line x1="1213.00" y1="1114.70" x2="1213.00" y2="1136.70" stroke="#000" stroke-width="1.12" opacity="0.040"/>
<line x1="1218.33" y1="1062.00" x2="1218.33" y2="1114.70" stroke="#000" stroke-width="1.12" opacity="0.69"/>
<line x1="1218.33" y1="1114.70" x2="1218.33" y2="1136.70" stroke="#000" stroke-width="1.12" opacity="0.048"/>
<line x1="1224.17" y1="1062.00" x2="1224.17" y2="1114.70" stroke="#000" stroke-width="1.12" opacity="0.63"/>
<line x1="1224.17" y1="1114.70" x2="1224.17" y2="1136.70" stroke="#000" stroke-width="1.12" opacity="0.044"/>
<line x1="1236.83" y1="1062.00" x2="1236.83" y2="1114.70" stroke="#000" stroke-width="1.12" opacity="0.63"/>
<line x1="1236.83" y1="1114.70" x2="1236.83" y2="1136.70" stroke="#000" stroke-width="1.12" opacity="0.044"/>
<line x1="1247.00" y1="1062.00" x2="1247.00" y2="1114.70" stroke="#000" stroke-width="1.12" opacity="1.00"/>
<line x1="1247.00" y1="1114.70" x2="1247.00" y2="1136.70" stroke="#000" stroke-width="1.12" opacity="0.070"/>
<line x1="1248.00" y1="1062.00" x2="1248.00" y2="1114.70" stroke="#000" stroke-width="1.12" opacity="1.00"/>
<line x1="1248.00" y1="1114.70" x2="1248.00" y2="1136.70" stroke="#000" stroke-width="1.12" opacity="0.070"/>
<line x1="1253.50" y1="1062.00" x2="1253.50" y2="1114.70" stroke="#000" stroke-width="1.12" opacity="0.63"/>
<line x1="1253.50" y1="1114.70" x2="1253.50" y2="1136.70" stroke="#000" stroke-width="1.12" opacity="0.044"/>
<line x1="1265.17" y1="1062.00" x2="1265.17" y2="1114.70" stroke="#000" stroke-width="1.12" opacity="0.75"/>
<line x1="1265.17" y1="1114.70" x2="1265.17" y2="1136.70" stroke="#000" stroke-width="1.12" opacity="0.053"/>
<line x1="1266.17" y1="1062.00" x2="1266.17" y2="1114.70" stroke="#000" stroke-width="1.12" opacity="0.75"/>
<line x1="1266.17" y1="1114.70" x2="1266.17" y2="1136.70" stroke="#000" stroke-width="1.12" opacity="0.053"/>
<line x1="1267.17" y1="1062.00" x2="1267.17" y2="1114.70" stroke="#000" stroke-width="1.12" opacity="0.87"/>
<line x1="1267.17" y1="1114.70" x2="1267.17" y2="1136.70" stroke="#000" stroke-width="1.12" opacity="0.061"/>
<line x1="1268.33" y1="1062.00" x2="1268.33" y2="1114.70" stroke="#000" stroke-width="1.12" opacity="0.87"/>
<line x1="1268.33" y1="1114.70" x2="1268.33" y2="1136.70" stroke="#000" stroke-width="1.12" opacity="0.061"/>
<line x1="1271.50" y1="1062.00" x2="1271.50" y2="1114.70" stroke="#000" stroke-width="1.12" opacity="0.75"/>
<line x1="1271.50" y1="1114.70" x2="1271.50" y2="1136.70" stroke="#000" stroke-width="1.12" opacity="0.053"/>
<line x1="1284.00" y1="1062.00" x2="1284.00" y2="1114.70" stroke="#000" stroke-width="1.12" opacity="0.63"/>
<line x1="1284.00" y1="1114.70" x2="1284.00" y2="1136.70" stroke="#000" stroke-width="1.12" opacity="0.044"/>
<line x1="1290.67" y1="1062.00" x2="1290.67" y2="1114.70" stroke="#000" stroke-width="1.12" opacity="0.63"/>
<line x1="1290.67" y1="1114.70" x2="1290.67" y2="1136.70" stroke="#000" stroke-width="1.12" opacity="0.044"/>
<line x1="1296.83" y1="1062.00" x2="1296.83" y2="1114.70" stroke="#000" stroke-width="1.12" opacity="0.63"/>
<line x1="1296.83" y1="1114.70" x2="1296.83" y2="1136.70" stroke="#000" stroke-width="1.12" opacity="0.044"/>
<line x1="1302.17" y1="1062.00" x2="1302.17" y2="1114.70" stroke="#000" stroke-width="1.12" opacity="0.63"/>
<line x1="1302.17" y1="1114.70" x2="1302.17" y2="1136.70" stroke="#000" stroke-width="1.12" opacity="0.044"/>
<line x1="1306.00" y1="1062.00" x2="1306.00" y2="1114.70" stroke="#000" stroke-width="1.12" opacity="0.63"/>
<line x1="1306.00" y1="1114.70" x2="1306.00" y2="1136.70" stroke="#000" stroke-width="1.12" opacity="0.044"/>
<line x1="1309.33" y1="1062.00" x2="1309.33" y2="1114.70" stroke="#000" stroke-width="1.12" opacity="1.00"/>
<line x1="1309.33" y1="1114.70" x2="1309.33" y2="1136.70" stroke="#000" stroke-width="1.12" opacity="0.070"/>
<line x1="1310.33" y1="1062.00" x2="1310.33" y2="1114.70" stroke="#000" stroke-width="1.12" opacity="1.00"/>
<line x1="1310.33" y1="1114.70" x2="1310.33" y2="1136.70" stroke="#000" stroke-width="1.12" opacity="0.070"/>
<line x1="1319.83" y1="1062.00" x2="1319.83" y2="1114.70" stroke="#000" stroke-width="1.12" opacity="0.63"/>
<line x1="1319.83" y1="1114.70" x2="1319.83" y2="1136.70" stroke="#000" stroke-width="1.12" opacity="0.044"/>
<line x1="1321.00" y1="1062.00" x2="1321.00" y2="1114.70" stroke="#000" stroke-width="1.12" opacity="0.63"/>
<line x1="1321.00" y1="1114.70" x2="1321.00" y2="1136.70" stroke="#000" stroke-width="1.12" opacity="0.044"/>
<line x1="1322.17" y1="1062.00" x2="1322.17" y2="1114.70" stroke="#000" stroke-width="1.12" opacity="0.69"/>
<line x1="1322.17" y1="1114.70" x2="1322.17" y2="1136.70" stroke="#000" stroke-width="1.12" opacity="0.048"/>
<line x1="1323.33" y1="1062.00" x2="1323.33" y2="1114.70" stroke="#000" stroke-width="1.12" opacity="0.75"/>
<line x1="1323.33" y1="1114.70" x2="1323.33" y2="1136.70" stroke="#000" stroke-width="1.12" opacity="0.053"/>
<line x1="1324.50" y1="1062.00" x2="1324.50" y2="1114.70" stroke="#000" stroke-width="1.12" opacity="0.75"/>
<line x1="1324.50" y1="1114.70" x2="1324.50" y2="1136.70" stroke="#000" stroke-width="1.12" opacity="0.053"/>
<line x1="1325.67" y1="1062.00" x2="1325.67" y2="1114.70" stroke="#000" stroke-width="1.12" opacity="0.81"/>
<line x1="1325.67" y1="1114.70" x2="1325.67" y2="1136.70" stroke="#000" stroke-width="1.12" opacity="0.057"/>
<line x1="1326.83" y1="1062.00" x2="1326.83" y2="1114.70" stroke="#000" stroke-width="1.12" opacity="0.87"/>
<line x1="1326.83" y1="1114.70" x2="1326.83" y2="1136.70" stroke="#000" stroke-width="1.12" opacity="0.061"/>
<line x1="1328.00" y1="1062.00" x2="1328.00" y2="1114.70" stroke="#000" stroke-width="1.12" opacity="0.87"/>
<line x1="1328.00" y1="1114.70" x2="1328.00" y2="1136.70" stroke="#000" stroke-width="1.12" opacity="0.061"/>
<line x1="1330.33" y1="1062.00" x2="1330.33" y2="1114.70" stroke="#000" stroke-width="1.12" opacity="1.00"/>
<line x1="1330.33" y1="1114.70" x2="1330.33" y2="1136.70" stroke="#000" stroke-width="1.12" opacity="0.070"/>
<line x1="1331.33" y1="1062.00" x2="1331.33" y2="1114.70" stroke="#000" stroke-width="1.12" opacity="1.00"/>
<line x1="1331.33" y1="1114.70" x2="1331.33" y2="1136.70" stroke="#000" stroke-width="1.12" opacity="0.070"/>
<line x1="1344.83" y1="1062.00" x2="1344.83" y2="1114.70" stroke="#000" stroke-width="1.12" opacity="0.69"/>
<line x1="1344.83" y1="1114.70" x2="1344.83" y2="1136.70" stroke="#000" stroke-width="1.12" opacity="0.048"/>
<line x1="1351.83" y1="1062.00" x2="1351.83" y2="1114.70" stroke="#000" stroke-width="1.12" opacity="0.69"/>
<line x1="1351.83" y1="1114.70" x2="1351.83" y2="1136.70" stroke="#000" stroke-width="1.12" opacity="0.048"/>
<line x1="1353.00" y1="1062.00" x2="1353.00" y2="1114.70" stroke="#000" stroke-width="1.12" opacity="0.75"/>
<line x1="1353.00" y1="1114.70" x2="1353.00" y2="1136.70" stroke="#000" stroke-width="1.12" opacity="0.053"/>
<line x1="1354.17" y1="1062.00" x2="1354.17" y2="1114.70" stroke="#000" stroke-width="1.12" opacity="0.75"/>
<line x1="1354.17" y1="1114.70" x2="1354.17" y2="1136.70" stroke="#000" stroke-width="1.12" opacity="0.053"/>
<line x1="1355.17" y1="1062.00" x2="1355.17" y2="1114.70" stroke="#000" stroke-width="1.12" opacity="0.69"/>
<line x1="1355.17" y1="1114.70" x2="1355.17" y2="1136.70" stroke="#000" stroke-width="1.12" opacity="0.048"/>
<line x1="1360.17" y1="1062.00" x2="1360.17" y2="1114.70" stroke="#000" stroke-width="1.12" opacity="0.63"/>
<line x1="1360.17" y1="1114.70" x2="1360.17" y2="1136.70" stroke="#000" stroke-width="1.12" opacity="0.044"/>
<line x1="1367.67" y1="1062.00" x2="1367.67" y2="1114.70" stroke="#000" stroke-width="1.12" opacity="0.63"/>
<line x1="1367.67" y1="1114.70" x2="1367.67" y2="1136.70" stroke="#000" stroke-width="1.12" opacity="0.044"/>
<line x1="1393.00" y1="1062.00" x2="1393.00" y2="1114.70" stroke="#000" stroke-width="1.12" opacity="0.63"/>
<line x1="1393.00" y1="1114.70" x2="1393.00" y2="1136.70" stroke="#000" stroke-width="1.12" opacity="0.044"/>
<line x1="1394.83" y1="1062.00" x2="1394.83" y2="1114.70" stroke="#000" stroke-width="1.12" opacity="0.63"/>
<line x1="1394.83" y1="1114.70" x2="1394.83" y2="1136.70" stroke="#000" stroke-width="1.12" opacity="0.044"/>
<line x1="1404.83" y1="1062.00" x2="1404.83" y2="1114.70" stroke="#000" stroke-width="1.12" opacity="0.63"/>
<line x1="1404.83" y1="1114.70" x2="1404.83" y2="1136.70" stroke="#000" stroke-width="1.12" opacity="0.044"/>
<line x1="1410.17" y1="1062.00" x2="1410.17" y2="1114.70" stroke="#000" stroke-width="1.12" opacity="1.00"/>
<line x1="1410.17" y1="1114.70" x2="1410.17" y2="1136.70" stroke="#000" stroke-width="1.12" opacity="0.070"/>
<line x1="1411.17" y1="1062.00" x2="1411.17" y2="1114.70" stroke="#000" stroke-width="1.12" opacity="1.00"/>
<line x1="1411.17" y1="1114.70" x2="1411.17" y2="1136.70" stroke="#000" stroke-width="1.12" opacity="0.070"/>
<line x1="1412.33" y1="1062.00" x2="1412.33" y2="1114.70" stroke="#000" stroke-width="1.12" opacity="0.87"/>
<line x1="1412.33" y1="1114.70" x2="1412.33" y2="1136.70" stroke="#000" stroke-width="1.12" opacity="0.061"/>
<line x1="1413.67" y1="1062.00" x2="1413.67" y2="1114.70" stroke="#000" stroke-width="1.12" opacity="0.75"/>
<line x1="1413.67" y1="1114.70" x2="1413.67" y2="1136.70" stroke="#000" stroke-width="1.12" opacity="0.053"/>
<line x1="1425.50" y1="1062.00" x2="1425.50" y2="1114.70" stroke="#000" stroke-width="1.12" opacity="0.69"/>
<line x1="1425.50" y1="1114.70" x2="1425.50" y2="1136.70" stroke="#000" stroke-width="1.12" opacity="0.048"/>
<line x1="1437.67" y1="1062.00" x2="1437.67" y2="1114.70" stroke="#000" stroke-width="1.12" opacity="0.63"/>
<line x1="1437.67" y1="1114.70" x2="1437.67" y2="1136.70" stroke="#000" stroke-width="1.12" opacity="0.044"/>
<line x1="1452.67" y1="1062.00" x2="1452.67" y2="1114.70" stroke="#000" stroke-width="1.12" opacity="0.63"/>
<line x1="1452.67" y1="1114.70" x2="1452.67" y2="1136.70" stroke="#000" stroke-width="1.12" opacity="0.044"/>
<line x1="1461.50" y1="1062.00" x2="1461.50" y2="1114.70" stroke="#000" stroke-width="1.12" opacity="1.00"/>
<line x1="1461.50" y1="1114.70" x2="1461.50" y2="1136.70" stroke="#000" stroke-width="1.12" opacity="0.070"/>
<line x1="1495.33" y1="1062.00" x2="1495.33" y2="1114.70" stroke="#000" stroke-width="1.12" opacity="1.00"/>
<line x1="1495.33" y1="1114.70" x2="1495.33" y2="1136.70" stroke="#000" stroke-width="1.12" opacity="0.070"/>
<line x1="1496.33" y1="1062.00" x2="1496.33" y2="1114.70" stroke="#000" stroke-width="1.12" opacity="1.00"/>
<line x1="1496.33" y1="1114.70" x2="1496.33" y2="1136.70" stroke="#000" stroke-width="1.12" opacity="0.070"/>
<line x1="1497.33" y1="1062.00" x2="1497.33" y2="1114.70" stroke="#000" stroke-width="1.12" opacity="1.00"/>
<line x1="1497.33" y1="1114.70" x2="1497.33" y2="1136.70" stroke="#000" stroke-width="1.12" opacity="0.070"/>
<line x1="1498.50" y1="1062.00" x2="1498.50" y2="1114.70" stroke="#000" stroke-width="1.12" opacity="0.63"/>
<line x1="1498.50" y1="1114.70" x2="1498.50" y2="1136.70" stroke="#000" stroke-width="1.12" opacity="0.044"/>
<line x1="1509.83" y1="1062.00" x2="1509.83" y2="1114.70" stroke="#000" stroke-width="1.12" opacity="0.69"/>
<line x1="1509.83" y1="1114.70" x2="1509.83" y2="1136.70" stroke="#000" stroke-width="1.12" opacity="0.048"/>
<line x1="1517.67" y1="1062.00" x2="1517.67" y2="1114.70" stroke="#000" stroke-width="1.12" opacity="0.63"/>
<line x1="1517.67" y1="1114.70" x2="1517.67" y2="1136.70" stroke="#000" stroke-width="1.12" opacity="0.044"/>
<line x1="1525.50" y1="1062.00" x2="1525.50" y2="1114.70" stroke="#000" stroke-width="1.12" opacity="1.00"/>
<line x1="1525.50" y1="1114.70" x2="1525.50" y2="1136.70" stroke="#000" stroke-width="1.12" opacity="0.070"/>
<line x1="1526.50" y1="1062.00" x2="1526.50" y2="1114.70" stroke="#000" stroke-width="1.12" opacity="1.00"/>
<line x1="1526.50" y1="1114.70" x2="1526.50" y2="1136.70" stroke="#000" stroke-width="1.12" opacity="0.070"/>
<line x1="1531.50" y1="1062.00" x2="1531.50" y2="1114.70" stroke="#000" stroke-width="1.12" opacity="0.63"/>
<line x1="1531.50" y1="1114.70" x2="1531.50" y2="1136.70" stroke="#000" stroke-width="1.12" opacity="0.044"/>
<line x1="1533.83" y1="1062.00" x2="1533.83" y2="1114.70" stroke="#000" stroke-width="1.12" opacity="0.63"/>
<line x1="1533.83" y1="1114.70" x2="1533.83" y2="1136.70" stroke="#000" stroke-width="1.12" opacity="0.044"/>
<line x1="1546.00" y1="1062.00" x2="1546.00" y2="1114.70" stroke="#000" stroke-width="1.12" opacity="0.69"/>
<line x1="1546.00" y1="1114.70" x2="1546.00" y2="1136.70" stroke="#000" stroke-width="1.12" opacity="0.048"/>
<line x1="1553.83" y1="1062.00" x2="1553.83" y2="1114.70" stroke="#000" stroke-width="1.12" opacity="0.63"/>
<line x1="1553.83" y1="1114.70" x2="1553.83" y2="1136.70" stroke="#000" stroke-width="1.12" opacity="0.044"/>
<line x1="1560.17" y1="1062.00" x2="1560.17" y2="1114.70" stroke="#000" stroke-width="1.12" opacity="0.63"/>
<line x1="1560.17" y1="1114.70" x2="1560.17" y2="1136.70" stroke="#000" stroke-width="1.12" opacity="0.044"/>
<line x1="1565.50" y1="1062.00" x2="1565.50" y2="1114.70" stroke="#000" stroke-width="1.12" opacity="0.63"/>
<line x1="1565.50" y1="1114.70" x2="1565.50" y2="1136.70" stroke="#000" stroke-width="1.12" opacity="0.044"/>
<line x1="1573.83" y1="1062.00" x2="1573.83" y2="1114.70" stroke="#000" stroke-width="1.12" opacity="0.63"/>
<line x1="1573.83" y1="1114.70" x2="1573.83" y2="1136.70" stroke="#000" stroke-width="1.12" opacity="0.044"/>
<line x1="1578.50" y1="1062.00" x2="1578.50" y2="1114.70" stroke="#000" stroke-width="1.12" opacity="0.63"/>
<line x1="1578.50" y1="1114.70" x2="1578.50" y2="1136.70" stroke="#000" stroke-width="1.12" opacity="0.044"/>
<line x1="1590.67" y1="1062.00" x2="1590.67" y2="1114.70" stroke="#000" stroke-width="1.12" opacity="0.63"/>
<line x1="1590.67" y1="1114.70" x2="1590.67" y2="1136.70" stroke="#000" stroke-width="1.12" opacity="0.044"/>
<line x1="1594.67" y1="1062.00" x2="1594.67" y2="1114.70" stroke="#000" stroke-width="1.12" opacity="0.63"/>
<line x1="1594.67" y1="1114.70" x2="1594.67" y2="1136.70" stroke="#000" stroke-width="1.12" opacity="0.044"/>
<line x1="1612.17" y1="1062.00" x2="1612.17" y2="1114.70" stroke="#000" stroke-width="1.12" opacity="0.69"/>
<line x1="1612.17" y1="1114.70" x2="1612.17" y2="1136.70" stroke="#000" stroke-width="1.12" opacity="0.048"/>
<line x1="1626.00" y1="1062.00" x2="1626.00" y2="1114.70" stroke="#000" stroke-width="1.12" opacity="0.69"/>
<line x1="1626.00" y1="1114.70" x2="1626.00" y2="1136.70" stroke="#000" stroke-width="1.12" opacity="0.048"/>
<line x1="1654.00" y1="1062.00" x2="1654.00" y2="1114.70" stroke="#000" stroke-width="1.12" opacity="0.69"/>
<line x1="1654.00" y1="1114.70" x2="1654.00" y2="1136.70" stroke="#000" stroke-width="1.12" opacity="0.048"/>
<path d="M862.5,1223.8 L862.5,1168.3 L863.5,1176.0 L865.0,1183.3 L870.0,1190.0 L878.3,1195.0 L895.0,1200.0 L920.0,1205.0 L953.3,1209.2 L1003.3,1213.0 L1070.0,1216.7 L1153.3,1220.8 L1236.0,1223.6 L1242.0,1224.1 L1303.0,1227.1 L1431.8,1234.0 L1504.2,1238.0 L1572.7,1242.8 L1604.9,1246.8 L1625.0,1250.0 L1641.0,1254.9 L1651.2,1261.0 L1655.0,1267.0 L1656.6,1273.0 L1657.6,1283.0 L1657.6,1223.8 Z" fill="#bfbfbf"/>
<line x1="862.50" y1="1139.00" x2="862.50" y2="1289.40" stroke="#4a4a4a" stroke-width="1.2"/>
<line x1="861.70" y1="1288.60" x2="1657.90" y2="1288.60" stroke="#5a5a5a" stroke-width="1.7"/>
<line x1="859.90" y1="1166.30" x2="862.50" y2="1166.30" stroke="#777" stroke-width="1.0"/>
<text transform="translate(857.90,1170.30) scale(1.000,1.050)" font-size="10.8" text-anchor="end" fill="#6a6a6a" stroke="#6a6a6a" stroke-width="0.3">2</text>
<line x1="859.90" y1="1195.00" x2="862.50" y2="1195.00" stroke="#777" stroke-width="1.0"/>
<text transform="translate(857.90,1199.00) scale(1.000,1.050)" font-size="10.8" text-anchor="end" fill="#6a6a6a" stroke="#6a6a6a" stroke-width="0.3">1</text>
<line x1="859.90" y1="1223.70" x2="862.50" y2="1223.70" stroke="#777" stroke-width="1.0"/>
<text transform="translate(857.90,1227.70) scale(1.000,1.050)" font-size="10.8" text-anchor="end" fill="#6a6a6a" stroke="#6a6a6a" stroke-width="0.3">0</text>
<line x1="859.90" y1="1252.40" x2="862.50" y2="1252.40" stroke="#777" stroke-width="1.0"/>
<text transform="translate(857.90,1256.40) scale(1.000,1.050)" font-size="10.8" text-anchor="end" fill="#6a6a6a" stroke="#6a6a6a" stroke-width="0.3">-1</text>
<line x1="859.90" y1="1281.00" x2="862.50" y2="1281.00" stroke="#777" stroke-width="1.0"/>
<text transform="translate(857.90,1285.00) scale(1.000,1.050)" font-size="10.8" text-anchor="end" fill="#6a6a6a" stroke="#6a6a6a" stroke-width="0.3">-2</text>
<text transform="translate(840.50,1210.60) scale(1.000,1.228) rotate(-90)" font-size="12.7" text-anchor="middle" fill="#1c1c1c" stroke="#1c1c1c" stroke-width="0.2">Ranked List Metric</text>
<line x1="1146.50" y1="1288.60" x2="1146.50" y2="1291.60" stroke="#5a5a5a" stroke-width="1.0"/>
<text transform="translate(1146.50,1303.20) scale(1.000,1.070)" font-size="13.3" text-anchor="middle" fill="#6a6a6a" stroke="#6a6a6a" stroke-width="0.3">10000</text>
<line x1="1431.30" y1="1288.60" x2="1431.30" y2="1291.60" stroke="#5a5a5a" stroke-width="1.0"/>
<text transform="translate(1431.30,1303.20) scale(1.000,1.070)" font-size="13.3" text-anchor="middle" fill="#6a6a6a" stroke="#6a6a6a" stroke-width="0.3">20000</text>
<text transform="translate(1283.50,1315.60) scale(1.000,1.060)" font-size="13.95" text-anchor="middle" fill="#1c1c1c" stroke="#1c1c1c" stroke-width="0.3">Rank in Ordered Dataset</text>
<line x1="1778.20" y1="833.70" x2="1778.20" y2="1056.50" stroke="#efefef" stroke-width="1.0"/>
<line x1="1778.20" y1="1137.60" x2="1778.20" y2="1285.80" stroke="#efefef" stroke-width="1.0"/>
<line x1="1856.70" y1="833.70" x2="1856.70" y2="1056.50" stroke="#efefef" stroke-width="1.0"/>
<line x1="1856.70" y1="1137.60" x2="1856.70" y2="1285.80" stroke="#efefef" stroke-width="1.0"/>
<line x1="1935.30" y1="833.70" x2="1935.30" y2="1056.50" stroke="#efefef" stroke-width="1.0"/>
<line x1="1935.30" y1="1137.60" x2="1935.30" y2="1285.80" stroke="#efefef" stroke-width="1.0"/>
<line x1="2013.70" y1="833.70" x2="2013.70" y2="1056.50" stroke="#efefef" stroke-width="1.0"/>
<line x1="2013.70" y1="1137.60" x2="2013.70" y2="1285.80" stroke="#efefef" stroke-width="1.0"/>
<line x1="2092.40" y1="833.70" x2="2092.40" y2="1056.50" stroke="#efefef" stroke-width="1.0"/>
<line x1="2092.40" y1="1137.60" x2="2092.40" y2="1285.80" stroke="#efefef" stroke-width="1.0"/>
<line x1="2171.00" y1="833.70" x2="2171.00" y2="1056.50" stroke="#efefef" stroke-width="1.0"/>
<line x1="2171.00" y1="1137.60" x2="2171.00" y2="1285.80" stroke="#efefef" stroke-width="1.0"/>
<line x1="2250.00" y1="833.70" x2="2250.00" y2="1056.50" stroke="#efefef" stroke-width="1.0"/>
<line x1="2250.00" y1="1137.60" x2="2250.00" y2="1285.80" stroke="#efefef" stroke-width="1.0"/>
<line x1="2328.50" y1="833.70" x2="2328.50" y2="1056.50" stroke="#efefef" stroke-width="1.0"/>
<line x1="2328.50" y1="1137.60" x2="2328.50" y2="1285.80" stroke="#efefef" stroke-width="1.0"/>
<line x1="2407.10" y1="833.70" x2="2407.10" y2="1056.50" stroke="#efefef" stroke-width="1.0"/>
<line x1="2407.10" y1="1137.60" x2="2407.10" y2="1285.80" stroke="#efefef" stroke-width="1.0"/>
<line x1="2485.60" y1="833.70" x2="2485.60" y2="1056.50" stroke="#efefef" stroke-width="1.0"/>
<line x1="2485.60" y1="1137.60" x2="2485.60" y2="1285.80" stroke="#efefef" stroke-width="1.0"/>
<line x1="1699.50" y1="833.70" x2="1699.50" y2="1056.50" stroke="#4a4a4a" stroke-width="1.2"/>
<line x1="1696.90" y1="873.00" x2="1699.50" y2="873.00" stroke="#777" stroke-width="1.0"/>
<text transform="translate(1696.30,876.90) scale(1.000,1.000)" font-size="10.8" text-anchor="end" fill="#6a6a6a" stroke="#6a6a6a" stroke-width="0.3">0.75</text>
<line x1="1696.90" y1="928.70" x2="1699.50" y2="928.70" stroke="#777" stroke-width="1.0"/>
<text transform="translate(1696.30,932.60) scale(1.000,1.000)" font-size="10.8" text-anchor="end" fill="#6a6a6a" stroke="#6a6a6a" stroke-width="0.3">0.50</text>
<line x1="1696.90" y1="984.20" x2="1699.50" y2="984.20" stroke="#777" stroke-width="1.0"/>
<text transform="translate(1696.30,988.10) scale(1.000,1.000)" font-size="10.8" text-anchor="end" fill="#6a6a6a" stroke="#6a6a6a" stroke-width="0.3">0.25</text>
<line x1="1696.90" y1="1040.00" x2="1699.50" y2="1040.00" stroke="#777" stroke-width="1.0"/>
<text transform="translate(1696.30,1043.90) scale(1.000,1.000)" font-size="10.8" text-anchor="end" fill="#6a6a6a" stroke="#6a6a6a" stroke-width="0.3">0.00</text>
<text transform="translate(1671.50,944.40) scale(1.000,1.228) rotate(-90)" font-size="12.7" text-anchor="middle" fill="#1c1c1c" stroke="#1c1c1c" stroke-width="0.2">Running Enrichment Score</text>
<path d="M1699.5,1040.0 L1699.6,1030.0 L1700.0,943.3 L1700.8,918.3 L1702.0,893.3 L1704.2,873.3 L1707.5,860.0 L1709.6,855.6 L1711.7,851.3 L1713.8,849.4 L1715.8,847.5 L1718.8,846.2 L1721.7,845.0 L1723.9,844.6 L1726.1,844.2 L1728.3,843.8 L1730.4,844.0 L1732.5,844.2 L1734.6,844.5 L1736.7,844.7 L1738.9,845.0 L1741.1,845.2 L1743.3,845.5 L1745.6,845.8 L1747.8,846.0 L1750.0,846.3 L1752.1,846.7 L1754.2,847.1 L1756.4,847.5 L1758.5,847.9 L1760.6,848.3 L1762.7,848.8 L1764.8,849.2 L1766.9,849.6 L1769.1,850.0 L1771.2,850.4 L1773.3,850.8 L1775.3,851.4 L1777.4,852.0 L1779.4,852.6 L1781.4,853.2 L1783.5,853.8 L1785.5,854.3 L1787.5,854.9 L1789.6,855.5 L1791.6,856.1 L1793.6,856.7 L1795.7,857.3 L1797.7,857.9 L1799.7,858.5 L1801.8,859.1 L1803.8,859.7 L1805.8,860.2 L1807.9,860.8 L1809.9,861.4 L1811.9,862.0 L1814.0,862.6 L1816.0,863.2 L1818.1,863.8 L1820.1,864.4 L1822.1,865.0 L1824.2,865.6 L1826.2,866.1 L1828.2,866.7 L1830.3,867.3 L1832.3,867.9 L1834.3,868.5 L1836.4,869.1 L1838.4,869.7 L1840.4,870.3 L1842.5,870.9 L1844.5,871.5 L1846.5,872.0 L1848.6,872.6 L1850.6,873.2 L1852.6,873.8 L1854.7,874.4 L1856.7,875.0 L1858.7,875.6 L1860.7,876.1 L1862.7,876.7 L1864.8,877.2 L1866.8,877.8 L1868.8,878.3 L1870.8,878.9 L1872.8,879.5 L1874.8,880.0 L1876.9,880.6 L1878.9,881.1 L1880.9,881.7 L1882.9,882.2 L1884.9,882.8 L1886.9,883.3 L1888.9,883.9 L1891.0,884.5 L1893.0,885.0 L1895.0,885.6 L1897.0,886.1 L1899.0,886.7 L1901.0,887.2 L1903.1,887.8 L1905.1,888.4 L1907.1,888.9 L1909.1,889.5 L1911.1,890.0 L1913.1,890.6 L1915.1,891.1 L1917.2,891.7 L1919.2,892.2 L1921.2,892.8 L1923.2,893.4 L1925.2,893.9 L1927.2,894.5 L1929.3,895.0 L1931.3,895.6 L1933.3,896.1 L1935.3,896.7 L1937.3,897.3 L1939.3,897.9 L1941.3,898.5 L1943.3,899.1 L1945.4,899.7 L1947.4,900.3 L1949.4,900.9 L1951.4,901.5 L1953.4,902.1 L1955.4,902.7 L1957.4,903.3 L1959.4,903.9 L1961.4,904.5 L1963.4,905.1 L1965.5,905.7 L1967.5,906.3 L1969.5,906.9 L1971.5,907.5 L1973.5,908.1 L1975.5,908.6 L1977.5,909.2 L1979.5,909.8 L1981.5,910.4 L1983.5,911.0 L1985.6,911.6 L1987.6,912.2 L1989.6,912.8 L1991.6,913.4 L1993.6,914.0 L1995.6,914.6 L1997.6,915.2 L1999.6,915.8 L2001.6,916.4 L2003.6,917.0 L2005.7,917.6 L2007.7,918.2 L2009.7,918.8 L2011.7,919.4 L2013.7,920.0 L2015.7,920.5 L2017.7,921.1 L2019.7,921.6 L2021.7,922.1 L2023.8,922.7 L2025.8,923.2 L2027.8,923.7 L2029.8,924.3 L2031.8,924.8 L2033.8,925.3 L2035.8,925.9 L2037.8,926.4 L2039.8,927.0 L2041.9,927.5 L2043.9,928.0 L2045.9,928.6 L2047.9,929.1 L2049.9,929.6 L2051.9,930.2 L2053.9,930.7 L2055.9,931.2 L2058.0,931.8 L2060.0,932.3 L2062.0,932.8 L2064.0,933.4 L2066.0,933.9 L2068.0,934.5 L2070.0,935.1 L2072.0,935.7 L2074.0,936.2 L2076.0,936.8 L2078.0,937.4 L2080.0,938.0 L2082.0,938.6 L2084.0,939.2 L2086.1,939.7 L2088.1,940.3 L2090.1,940.9 L2092.1,941.5 L2094.1,942.1 L2096.1,942.7 L2098.1,943.3 L2100.1,943.8 L2102.1,944.4 L2104.1,945.0 L2106.1,945.6 L2108.1,946.2 L2110.1,946.8 L2112.1,947.4 L2114.1,947.9 L2116.1,948.5 L2118.1,949.1 L2120.1,949.7 L2122.1,950.3 L2124.2,950.9 L2126.2,951.4 L2128.2,952.0 L2130.2,952.6 L2132.2,953.2 L2134.2,953.8 L2136.2,954.4 L2138.2,955.0 L2140.2,955.5 L2142.2,956.1 L2144.2,956.7 L2146.2,957.3 L2148.2,957.9 L2150.2,958.5 L2152.2,959.1 L2154.2,959.6 L2156.2,960.2 L2158.2,960.8 L2160.2,961.4 L2162.3,962.0 L2164.3,962.6 L2166.3,963.1 L2168.3,963.7 L2170.3,964.3 L2172.3,964.9 L2174.3,965.5 L2176.3,966.1 L2178.3,966.7 L2180.3,967.2 L2182.3,967.8 L2184.3,968.4 L2186.3,969.0 L2188.3,969.6 L2190.3,970.2 L2192.3,970.8 L2194.3,971.3 L2196.3,971.9 L2198.4,972.5 L2200.4,973.1 L2202.4,973.7 L2204.4,974.3 L2206.4,974.8 L2208.4,975.4 L2210.4,976.0 L2212.4,976.6 L2214.4,977.2 L2216.4,977.8 L2218.4,978.4 L2220.4,978.9 L2222.4,979.5 L2224.4,980.1 L2226.4,980.7 L2228.4,981.3 L2230.4,981.9 L2232.4,982.5 L2234.4,983.0 L2236.5,983.6 L2238.5,984.2 L2240.5,984.8 L2242.5,985.4 L2244.5,986.0 L2246.5,986.5 L2248.5,987.1 L2250.5,987.7 L2252.5,988.3 L2254.5,988.9 L2256.5,989.5 L2258.5,990.1 L2260.5,990.6 L2262.5,991.2 L2264.5,991.8 L2266.5,992.4 L2268.5,993.0 L2270.5,993.6 L2272.5,994.2 L2274.6,994.7 L2276.6,995.3 L2278.6,995.9 L2280.6,996.5 L2282.6,997.1 L2284.6,997.7 L2286.6,998.2 L2288.6,998.8 L2290.6,999.4 L2292.6,1000.0 L2294.6,1000.5 L2296.6,1001.0 L2298.7,1001.5 L2300.7,1002.0 L2302.7,1002.5 L2304.7,1003.0 L2306.8,1003.5 L2308.8,1004.0 L2310.8,1004.5 L2312.8,1005.0 L2314.9,1005.5 L2316.9,1006.0 L2318.9,1006.5 L2320.9,1007.0 L2322.9,1007.5 L2325.0,1008.0 L2327.0,1008.5 L2329.0,1009.0 L2331.0,1009.5 L2333.1,1010.0 L2335.1,1010.5 L2337.1,1011.0 L2339.1,1011.5 L2341.2,1012.0 L2343.2,1012.5 L2345.2,1013.0 L2347.2,1013.5 L2349.3,1014.0 L2351.3,1014.5 L2353.3,1015.0 L2355.3,1015.5 L2357.3,1016.0 L2359.4,1016.5 L2361.4,1017.0 L2363.4,1017.5 L2365.4,1018.0 L2367.5,1018.5 L2369.5,1019.0 L2371.5,1019.5 L2373.5,1020.0 L2375.6,1020.5 L2377.6,1021.0 L2379.6,1021.5 L2381.6,1022.0 L2383.7,1022.5 L2385.7,1023.0 L2387.7,1023.5 L2389.7,1024.0 L2391.7,1024.5 L2393.8,1025.0 L2395.8,1025.5 L2397.8,1026.0 L2399.8,1026.5 L2401.9,1027.0 L2403.9,1027.5 L2405.9,1028.0 L2407.9,1028.5 L2410.0,1029.0 L2412.0,1029.5 L2414.0,1030.0 L2416.0,1030.5 L2418.1,1031.1 L2420.1,1031.6 L2422.2,1032.1 L2424.2,1032.7 L2426.3,1033.2 L2428.3,1033.7 L2430.3,1034.3 L2432.4,1034.8 L2434.4,1035.3 L2436.5,1035.9 L2438.5,1036.4 L2440.6,1036.9 L2442.6,1037.5 L2444.6,1038.0 L2446.7,1038.5 L2448.7,1039.1 L2450.8,1039.6 L2452.8,1040.2 L2454.9,1040.7 L2456.9,1041.2 L2458.9,1041.8 L2461.0,1042.3 L2463.0,1042.8 L2465.1,1043.4 L2467.1,1043.9 L2469.2,1044.4 L2471.2,1045.0 L2473.2,1045.5 L2475.3,1046.0 L2477.3,1046.6 L2479.4,1047.1 L2481.4,1047.6 L2483.5,1048.2 L2485.5,1048.7" fill="none" stroke="#cb2722" stroke-width="1.7" stroke-linejoin="round"/>
<text transform="translate(2347.70,884.40) scale(1.000,1.070)" font-size="13.8" text-anchor="end" fill="#c92a26" stroke="#c92a26" stroke-width="0.4">HALLMARK_EPITHELIAL_MESENCHYMAL_TRANSITION</text>
<rect x="2352.50" y="854.80" width="49.00" height="15.80" fill="#cbcbcb"/>
<rect x="2402.30" y="854.80" width="49.60" height="15.80" fill="#cbcbcb"/>
<rect x="2352.50" y="871.10" width="99.40" height="16.80" fill="#ededed"/>
<rect x="2402.30" y="871.10" width="49.60" height="16.80" fill="#e4e4e4"/>
<text transform="translate(2377.20,866.80) scale(1.000,1.120)" font-size="10.6" text-anchor="middle" fill="#111" font-weight="bold" stroke="#111" stroke-width="0.3">pvalue</text>
<text transform="translate(2426.90,866.80) scale(1.000,1.120)" font-size="10.4" text-anchor="middle" fill="#111" font-weight="bold" stroke="#111" stroke-width="0.3">p.adjust</text>
<text transform="translate(2377.80,883.50) scale(1.000,1.120)" font-size="10.6" text-anchor="middle" fill="#222" stroke="#222" stroke-width="0.3">2.022e-52</text>
<text transform="translate(2427.30,883.50) scale(1.000,1.120)" font-size="10.6" text-anchor="middle" fill="#222" stroke="#222" stroke-width="0.3">1.011e-50</text>
<rect x="1698.80" y="1112.60" width="17.00" height="21.80" fill="#db5a42"/>
<rect x="1715.50" y="1112.60" width="265.60" height="21.80" fill="#ed745c"/>
<rect x="1980.80" y="1112.60" width="459.50" height="21.80" fill="#f4b098"/>
<rect x="2440.00" y="1112.60" width="28.80" height="21.80" fill="#fce6dc"/>
<rect x="2468.50" y="1112.60" width="8.30" height="21.80" fill="#edf2fb"/>
<rect x="2476.50" y="1112.60" width="4.00" height="21.80" fill="#bcd6e6"/>
<rect x="2480.20" y="1112.60" width="2.70" height="21.80" fill="#74aed4"/>
<rect x="2482.60" y="1112.60" width="3.50" height="21.80" fill="#3f84b8"/>
<line x1="1699.80" y1="1059.70" x2="1699.80" y2="1112.60" stroke="#000" stroke-width="1.12" opacity="1.00"/>
<line x1="1699.80" y1="1112.60" x2="1699.80" y2="1134.40" stroke="#000" stroke-width="1.12" opacity="0.070"/>
<line x1="1700.35" y1="1059.70" x2="1700.35" y2="1112.60" stroke="#000" stroke-width="1.12" opacity="1.00"/>
<line x1="1700.35" y1="1112.60" x2="1700.35" y2="1134.40" stroke="#000" stroke-width="1.12" opacity="0.070"/>
<line x1="1700.90" y1="1059.70" x2="1700.90" y2="1112.60" stroke="#000" stroke-width="1.12" opacity="1.00"/>
<line x1="1700.90" y1="1112.60" x2="1700.90" y2="1134.40" stroke="#000" stroke-width="1.12" opacity="0.070"/>
<line x1="1701.45" y1="1059.70" x2="1701.45" y2="1112.60" stroke="#000" stroke-width="1.12" opacity="1.00"/>
<line x1="1701.45" y1="1112.60" x2="1701.45" y2="1134.40" stroke="#000" stroke-width="1.12" opacity="0.070"/>
<line x1="1702.00" y1="1059.70" x2="1702.00" y2="1112.60" stroke="#000" stroke-width="1.12" opacity="1.00"/>
<line x1="1702.00" y1="1112.60" x2="1702.00" y2="1134.40" stroke="#000" stroke-width="1.12" opacity="0.070"/>
<line x1="1702.55" y1="1059.70" x2="1702.55" y2="1112.60" stroke="#000" stroke-width="1.12" opacity="1.00"/>
<line x1="1702.55" y1="1112.60" x2="1702.55" y2="1134.40" stroke="#000" stroke-width="1.12" opacity="0.070"/>
<line x1="1703.10" y1="1059.70" x2="1703.10" y2="1112.60" stroke="#000" stroke-width="1.12" opacity="1.00"/>
<line x1="1703.10" y1="1112.60" x2="1703.10" y2="1134.40" stroke="#000" stroke-width="1.12" opacity="0.070"/>
<line x1="1703.65" y1="1059.70" x2="1703.65" y2="1112.60" stroke="#000" stroke-width="1.12" opacity="1.00"/>
<line x1="1703.65" y1="1112.60" x2="1703.65" y2="1134.40" stroke="#000" stroke-width="1.12" opacity="0.070"/>
<line x1="1704.20" y1="1059.70" x2="1704.20" y2="1112.60" stroke="#000" stroke-width="1.12" opacity="1.00"/>
<line x1="1704.20" y1="1112.60" x2="1704.20" y2="1134.40" stroke="#000" stroke-width="1.12" opacity="0.070"/>
<line x1="1704.75" y1="1059.70" x2="1704.75" y2="1112.60" stroke="#000" stroke-width="1.12" opacity="1.00"/>
<line x1="1704.75" y1="1112.60" x2="1704.75" y2="1134.40" stroke="#000" stroke-width="1.12" opacity="0.070"/>
<line x1="1705.30" y1="1059.70" x2="1705.30" y2="1112.60" stroke="#000" stroke-width="1.12" opacity="1.00"/>
<line x1="1705.30" y1="1112.60" x2="1705.30" y2="1134.40" stroke="#000" stroke-width="1.12" opacity="0.070"/>
<line x1="1705.85" y1="1059.70" x2="1705.85" y2="1112.60" stroke="#000" stroke-width="1.12" opacity="1.00"/>
<line x1="1705.85" y1="1112.60" x2="1705.85" y2="1134.40" stroke="#000" stroke-width="1.12" opacity="0.070"/>
<line x1="1706.40" y1="1059.70" x2="1706.40" y2="1112.60" stroke="#000" stroke-width="1.12" opacity="1.00"/>
<line x1="1706.40" y1="1112.60" x2="1706.40" y2="1134.40" stroke="#000" stroke-width="1.12" opacity="0.070"/>
<line x1="1706.95" y1="1059.70" x2="1706.95" y2="1112.60" stroke="#000" stroke-width="1.12" opacity="1.00"/>
<line x1="1706.95" y1="1112.60" x2="1706.95" y2="1134.40" stroke="#000" stroke-width="1.12" opacity="0.070"/>
<line x1="1707.50" y1="1059.70" x2="1707.50" y2="1112.60" stroke="#000" stroke-width="1.12" opacity="1.00"/>
<line x1="1707.50" y1="1112.60" x2="1707.50" y2="1134.40" stroke="#000" stroke-width="1.12" opacity="0.070"/>
<line x1="1708.05" y1="1059.70" x2="1708.05" y2="1112.60" stroke="#000" stroke-width="1.12" opacity="1.00"/>
<line x1="1708.05" y1="1112.60" x2="1708.05" y2="1134.40" stroke="#000" stroke-width="1.12" opacity="0.070"/>
<line x1="1708.60" y1="1059.70" x2="1708.60" y2="1112.60" stroke="#000" stroke-width="1.12" opacity="1.00"/>
<line x1="1708.60" y1="1112.60" x2="1708.60" y2="1134.40" stroke="#000" stroke-width="1.12" opacity="0.070"/>
<line x1="1709.15" y1="1059.70" x2="1709.15" y2="1112.60" stroke="#000" stroke-width="1.12" opacity="1.00"/>
<line x1="1709.15" y1="1112.60" x2="1709.15" y2="1134.40" stroke="#000" stroke-width="1.12" opacity="0.070"/>
<line x1="1709.70" y1="1059.70" x2="1709.70" y2="1112.60" stroke="#000" stroke-width="1.12" opacity="1.00"/>
<line x1="1709.70" y1="1112.60" x2="1709.70" y2="1134.40" stroke="#000" stroke-width="1.12" opacity="0.070"/>
<line x1="1710.25" y1="1059.70" x2="1710.25" y2="1112.60" stroke="#000" stroke-width="1.12" opacity="1.00"/>
<line x1="1710.25" y1="1112.60" x2="1710.25" y2="1134.40" stroke="#000" stroke-width="1.12" opacity="0.070"/>
<line x1="1710.80" y1="1059.70" x2="1710.80" y2="1112.60" stroke="#000" stroke-width="1.12" opacity="1.00"/>
<line x1="1710.80" y1="1112.60" x2="1710.80" y2="1134.40" stroke="#000" stroke-width="1.12" opacity="0.070"/>
<line x1="1711.35" y1="1059.70" x2="1711.35" y2="1112.60" stroke="#000" stroke-width="1.12" opacity="1.00"/>
<line x1="1711.35" y1="1112.60" x2="1711.35" y2="1134.40" stroke="#000" stroke-width="1.12" opacity="0.070"/>
<line x1="1711.90" y1="1059.70" x2="1711.90" y2="1112.60" stroke="#000" stroke-width="1.12" opacity="1.00"/>
<line x1="1711.90" y1="1112.60" x2="1711.90" y2="1134.40" stroke="#000" stroke-width="1.12" opacity="0.070"/>
<line x1="1712.45" y1="1059.70" x2="1712.45" y2="1112.60" stroke="#000" stroke-width="1.12" opacity="1.00"/>
<line x1="1712.45" y1="1112.60" x2="1712.45" y2="1134.40" stroke="#000" stroke-width="1.12" opacity="0.070"/>
<line x1="1713.00" y1="1059.70" x2="1713.00" y2="1112.60" stroke="#000" stroke-width="1.12" opacity="1.00"/>
<line x1="1713.00" y1="1112.60" x2="1713.00" y2="1134.40" stroke="#000" stroke-width="1.12" opacity="0.070"/>
<line x1="1713.55" y1="1059.70" x2="1713.55" y2="1112.60" stroke="#000" stroke-width="1.12" opacity="1.00"/>
<line x1="1713.55" y1="1112.60" x2="1713.55" y2="1134.40" stroke="#000" stroke-width="1.12" opacity="0.070"/>
<line x1="1714.10" y1="1059.70" x2="1714.10" y2="1112.60" stroke="#000" stroke-width="1.12" opacity="1.00"/>
<line x1="1714.10" y1="1112.60" x2="1714.10" y2="1134.40" stroke="#000" stroke-width="1.12" opacity="0.070"/>
<line x1="1714.65" y1="1059.70" x2="1714.65" y2="1112.60" stroke="#000" stroke-width="1.12" opacity="1.00"/>
<line x1="1714.65" y1="1112.60" x2="1714.65" y2="1134.40" stroke="#000" stroke-width="1.12" opacity="0.070"/>
<line x1="1715.20" y1="1059.70" x2="1715.20" y2="1112.60" stroke="#000" stroke-width="1.12" opacity="1.00"/>
<line x1="1715.20" y1="1112.60" x2="1715.20" y2="1134.40" stroke="#000" stroke-width="1.12" opacity="0.070"/>
<line x1="1715.75" y1="1059.70" x2="1715.75" y2="1112.60" stroke="#000" stroke-width="1.12" opacity="1.00"/>
<line x1="1715.75" y1="1112.60" x2="1715.75" y2="1134.40" stroke="#000" stroke-width="1.12" opacity="0.070"/>
<line x1="1716.30" y1="1059.70" x2="1716.30" y2="1112.60" stroke="#000" stroke-width="1.12" opacity="0.75"/>
<line x1="1716.30" y1="1112.60" x2="1716.30" y2="1134.40" stroke="#000" stroke-width="1.12" opacity="0.053"/>
<line x1="1717.38" y1="1059.70" x2="1717.38" y2="1112.60" stroke="#000" stroke-width="1.12" opacity="0.94"/>
<line x1="1717.38" y1="1112.60" x2="1717.38" y2="1134.40" stroke="#000" stroke-width="1.12" opacity="0.065"/>
<line x1="1718.65" y1="1059.70" x2="1718.65" y2="1112.60" stroke="#000" stroke-width="1.12" opacity="0.94"/>
<line x1="1718.65" y1="1112.60" x2="1718.65" y2="1134.40" stroke="#000" stroke-width="1.12" opacity="0.065"/>
<line x1="1720.11" y1="1059.70" x2="1720.11" y2="1112.60" stroke="#000" stroke-width="1.12" opacity="0.94"/>
<line x1="1720.11" y1="1112.60" x2="1720.11" y2="1134.40" stroke="#000" stroke-width="1.12" opacity="0.065"/>
<line x1="1721.53" y1="1059.70" x2="1721.53" y2="1112.60" stroke="#000" stroke-width="1.12" opacity="1.00"/>
<line x1="1721.53" y1="1112.60" x2="1721.53" y2="1134.40" stroke="#000" stroke-width="1.12" opacity="0.070"/>
<line x1="1722.40" y1="1059.70" x2="1722.40" y2="1112.60" stroke="#000" stroke-width="1.12" opacity="1.00"/>
<line x1="1722.40" y1="1112.60" x2="1722.40" y2="1134.40" stroke="#000" stroke-width="1.12" opacity="0.070"/>
<line x1="1723.31" y1="1059.70" x2="1723.31" y2="1112.60" stroke="#000" stroke-width="1.12" opacity="0.75"/>
<line x1="1723.31" y1="1112.60" x2="1723.31" y2="1134.40" stroke="#000" stroke-width="1.12" opacity="0.053"/>
<line x1="1724.02" y1="1059.70" x2="1724.02" y2="1112.60" stroke="#000" stroke-width="1.12" opacity="1.00"/>
<line x1="1724.02" y1="1112.60" x2="1724.02" y2="1134.40" stroke="#000" stroke-width="1.12" opacity="0.070"/>
<line x1="1725.11" y1="1059.70" x2="1725.11" y2="1112.60" stroke="#000" stroke-width="1.12" opacity="0.75"/>
<line x1="1725.11" y1="1112.60" x2="1725.11" y2="1134.40" stroke="#000" stroke-width="1.12" opacity="0.053"/>
<line x1="1726.52" y1="1059.70" x2="1726.52" y2="1112.60" stroke="#000" stroke-width="1.12" opacity="0.75"/>
<line x1="1726.52" y1="1112.60" x2="1726.52" y2="1134.40" stroke="#000" stroke-width="1.12" opacity="0.053"/>
<line x1="1728.05" y1="1059.70" x2="1728.05" y2="1112.60" stroke="#000" stroke-width="1.12" opacity="1.00"/>
<line x1="1728.05" y1="1112.60" x2="1728.05" y2="1134.40" stroke="#000" stroke-width="1.12" opacity="0.070"/>
<line x1="1728.79" y1="1059.70" x2="1728.79" y2="1112.60" stroke="#000" stroke-width="1.12" opacity="1.00"/>
<line x1="1728.79" y1="1112.60" x2="1728.79" y2="1134.40" stroke="#000" stroke-width="1.12" opacity="0.070"/>
<line x1="1730.18" y1="1059.70" x2="1730.18" y2="1112.60" stroke="#000" stroke-width="1.12" opacity="0.94"/>
<line x1="1730.18" y1="1112.60" x2="1730.18" y2="1134.40" stroke="#000" stroke-width="1.12" opacity="0.065"/>
<line x1="1731.44" y1="1059.70" x2="1731.44" y2="1112.60" stroke="#000" stroke-width="1.12" opacity="0.75"/>
<line x1="1731.44" y1="1112.60" x2="1731.44" y2="1134.40" stroke="#000" stroke-width="1.12" opacity="0.053"/>
<line x1="1735.27" y1="1059.70" x2="1735.27" y2="1112.60" stroke="#000" stroke-width="1.12" opacity="0.75"/>
<line x1="1735.27" y1="1112.60" x2="1735.27" y2="1134.40" stroke="#000" stroke-width="1.12" opacity="0.053"/>
<line x1="1737.70" y1="1059.70" x2="1737.70" y2="1112.60" stroke="#000" stroke-width="1.12" opacity="0.75"/>
<line x1="1737.70" y1="1112.60" x2="1737.70" y2="1134.40" stroke="#000" stroke-width="1.12" opacity="0.053"/>
<line x1="1743.79" y1="1059.70" x2="1743.79" y2="1112.60" stroke="#000" stroke-width="1.12" opacity="0.87"/>
<line x1="1743.79" y1="1112.60" x2="1743.79" y2="1134.40" stroke="#000" stroke-width="1.12" opacity="0.061"/>
<line x1="1745.50" y1="1059.70" x2="1745.50" y2="1112.60" stroke="#000" stroke-width="1.12" opacity="1.00"/>
<line x1="1745.50" y1="1112.60" x2="1745.50" y2="1134.40" stroke="#000" stroke-width="1.12" opacity="0.070"/>
<line x1="1750.37" y1="1059.70" x2="1750.37" y2="1112.60" stroke="#000" stroke-width="1.12" opacity="0.75"/>
<line x1="1750.37" y1="1112.60" x2="1750.37" y2="1134.40" stroke="#000" stroke-width="1.12" opacity="0.053"/>
<line x1="1757.19" y1="1059.70" x2="1757.19" y2="1112.60" stroke="#000" stroke-width="1.12" opacity="0.69"/>
<line x1="1757.19" y1="1112.60" x2="1757.19" y2="1134.40" stroke="#000" stroke-width="1.12" opacity="0.048"/>
<line x1="1760.36" y1="1059.70" x2="1760.36" y2="1112.60" stroke="#000" stroke-width="1.12" opacity="0.63"/>
<line x1="1760.36" y1="1112.60" x2="1760.36" y2="1134.40" stroke="#000" stroke-width="1.12" opacity="0.044"/>
<line x1="1765.48" y1="1059.70" x2="1765.48" y2="1112.60" stroke="#000" stroke-width="1.12" opacity="1.00"/>
<line x1="1765.48" y1="1112.60" x2="1765.48" y2="1134.40" stroke="#000" stroke-width="1.12" opacity="0.070"/>
<line x1="1766.94" y1="1059.70" x2="1766.94" y2="1112.60" stroke="#000" stroke-width="1.12" opacity="1.00"/>
<line x1="1766.94" y1="1112.60" x2="1766.94" y2="1134.40" stroke="#000" stroke-width="1.12" opacity="0.070"/>
<line x1="1771.08" y1="1059.70" x2="1771.08" y2="1112.60" stroke="#000" stroke-width="1.12" opacity="0.75"/>
<line x1="1771.08" y1="1112.60" x2="1771.08" y2="1134.40" stroke="#000" stroke-width="1.12" opacity="0.053"/>
<line x1="1777.41" y1="1059.70" x2="1777.41" y2="1112.60" stroke="#000" stroke-width="1.12" opacity="0.75"/>
<line x1="1777.41" y1="1112.60" x2="1777.41" y2="1134.40" stroke="#000" stroke-width="1.12" opacity="0.053"/>
<line x1="1782.77" y1="1059.70" x2="1782.77" y2="1112.60" stroke="#000" stroke-width="1.12" opacity="0.69"/>
<line x1="1782.77" y1="1112.60" x2="1782.77" y2="1134.40" stroke="#000" stroke-width="1.12" opacity="0.048"/>
<line x1="1800.56" y1="1059.70" x2="1800.56" y2="1112.60" stroke="#000" stroke-width="1.12" opacity="0.69"/>
<line x1="1800.56" y1="1112.60" x2="1800.56" y2="1134.40" stroke="#000" stroke-width="1.12" opacity="0.048"/>
<line x1="1809.33" y1="1059.70" x2="1809.33" y2="1112.60" stroke="#000" stroke-width="1.12" opacity="0.63"/>
<line x1="1809.33" y1="1112.60" x2="1809.33" y2="1134.40" stroke="#000" stroke-width="1.12" opacity="0.044"/>
<line x1="1824.19" y1="1059.70" x2="1824.19" y2="1112.60" stroke="#000" stroke-width="1.12" opacity="0.69"/>
<line x1="1824.19" y1="1112.60" x2="1824.19" y2="1134.40" stroke="#000" stroke-width="1.12" opacity="0.048"/>
<line x1="1837.10" y1="1059.70" x2="1837.10" y2="1112.60" stroke="#000" stroke-width="1.12" opacity="0.57"/>
<line x1="1837.10" y1="1112.60" x2="1837.10" y2="1134.40" stroke="#000" stroke-width="1.12" opacity="0.040"/>
<line x1="1838.56" y1="1059.70" x2="1838.56" y2="1112.60" stroke="#000" stroke-width="1.12" opacity="0.57"/>
<line x1="1838.56" y1="1112.60" x2="1838.56" y2="1134.40" stroke="#000" stroke-width="1.12" opacity="0.040"/>
<line x1="1840.03" y1="1059.70" x2="1840.03" y2="1112.60" stroke="#000" stroke-width="1.12" opacity="0.57"/>
<line x1="1840.03" y1="1112.60" x2="1840.03" y2="1134.40" stroke="#000" stroke-width="1.12" opacity="0.040"/>
<line x1="1855.86" y1="1059.70" x2="1855.86" y2="1112.60" stroke="#000" stroke-width="1.12" opacity="0.69"/>
<line x1="1855.86" y1="1112.60" x2="1855.86" y2="1134.40" stroke="#000" stroke-width="1.12" opacity="0.048"/>
<line x1="1858.30" y1="1059.70" x2="1858.30" y2="1112.60" stroke="#000" stroke-width="1.12" opacity="0.63"/>
<line x1="1858.30" y1="1112.60" x2="1858.30" y2="1134.40" stroke="#000" stroke-width="1.12" opacity="0.044"/>
<line x1="1863.90" y1="1059.70" x2="1863.90" y2="1112.60" stroke="#000" stroke-width="1.12" opacity="0.69"/>
<line x1="1863.90" y1="1112.60" x2="1863.90" y2="1134.40" stroke="#000" stroke-width="1.12" opacity="0.048"/>
<line x1="1992.78" y1="1059.70" x2="1992.78" y2="1112.60" stroke="#000" stroke-width="1.12" opacity="0.87"/>
<line x1="1992.78" y1="1112.60" x2="1992.78" y2="1134.40" stroke="#000" stroke-width="1.12" opacity="0.061"/>
<line x1="2120.60" y1="1059.70" x2="2120.60" y2="1112.60" stroke="#000" stroke-width="1.12" opacity="0.87"/>
<line x1="2120.60" y1="1112.60" x2="2120.60" y2="1134.40" stroke="#000" stroke-width="1.12" opacity="0.061"/>
<line x1="2204.10" y1="1059.70" x2="2204.10" y2="1112.60" stroke="#000" stroke-width="1.12" opacity="0.75"/>
<line x1="2204.10" y1="1112.60" x2="2204.10" y2="1134.40" stroke="#000" stroke-width="1.12" opacity="0.053"/>
<line x1="2327.90" y1="1059.70" x2="2327.90" y2="1112.60" stroke="#000" stroke-width="1.12" opacity="0.63"/>
<line x1="2327.90" y1="1112.60" x2="2327.90" y2="1134.40" stroke="#000" stroke-width="1.12" opacity="0.044"/>
<line x1="2355.60" y1="1059.70" x2="2355.60" y2="1112.60" stroke="#000" stroke-width="1.12" opacity="1.00"/>
<line x1="2355.60" y1="1112.60" x2="2355.60" y2="1134.40" stroke="#000" stroke-width="1.12" opacity="0.070"/>
<line x1="2356.30" y1="1059.70" x2="2356.30" y2="1112.60" stroke="#000" stroke-width="1.12" opacity="1.00"/>
<line x1="2356.30" y1="1112.60" x2="2356.30" y2="1134.40" stroke="#000" stroke-width="1.12" opacity="0.070"/>
<line x1="2379.30" y1="1059.70" x2="2379.30" y2="1112.60" stroke="#000" stroke-width="1.12" opacity="0.57"/>
<line x1="2379.30" y1="1112.60" x2="2379.30" y2="1134.40" stroke="#000" stroke-width="1.12" opacity="0.040"/>
<line x1="2398.50" y1="1059.70" x2="2398.50" y2="1112.60" stroke="#000" stroke-width="1.12" opacity="0.63"/>
<line x1="2398.50" y1="1112.60" x2="2398.50" y2="1134.40" stroke="#000" stroke-width="1.12" opacity="0.044"/>
<line x1="2405.10" y1="1059.70" x2="2405.10" y2="1112.60" stroke="#000" stroke-width="1.12" opacity="0.63"/>
<line x1="2405.10" y1="1112.60" x2="2405.10" y2="1134.40" stroke="#000" stroke-width="1.12" opacity="0.044"/>
<line x1="2411.20" y1="1059.70" x2="2411.20" y2="1112.60" stroke="#000" stroke-width="1.12" opacity="0.63"/>
<line x1="2411.20" y1="1112.60" x2="2411.20" y2="1134.40" stroke="#000" stroke-width="1.12" opacity="0.044"/>
<line x1="2425.80" y1="1059.70" x2="2425.80" y2="1112.60" stroke="#000" stroke-width="1.12" opacity="1.00"/>
<line x1="2425.80" y1="1112.60" x2="2425.80" y2="1134.40" stroke="#000" stroke-width="1.12" opacity="0.070"/>
<line x1="2426.60" y1="1059.70" x2="2426.60" y2="1112.60" stroke="#000" stroke-width="1.12" opacity="0.87"/>
<line x1="2426.60" y1="1112.60" x2="2426.60" y2="1134.40" stroke="#000" stroke-width="1.12" opacity="0.061"/>
<line x1="2429.50" y1="1059.70" x2="2429.50" y2="1112.60" stroke="#000" stroke-width="1.12" opacity="0.75"/>
<line x1="2429.50" y1="1112.60" x2="2429.50" y2="1134.40" stroke="#000" stroke-width="1.12" opacity="0.053"/>
<line x1="2445.60" y1="1059.70" x2="2445.60" y2="1112.60" stroke="#000" stroke-width="1.12" opacity="1.00"/>
<line x1="2445.60" y1="1112.60" x2="2445.60" y2="1134.40" stroke="#000" stroke-width="1.12" opacity="0.070"/>
<line x1="2454.60" y1="1059.70" x2="2454.60" y2="1112.60" stroke="#000" stroke-width="1.12" opacity="0.75"/>
<line x1="2454.60" y1="1112.60" x2="2454.60" y2="1134.40" stroke="#000" stroke-width="1.12" opacity="0.053"/>
<line x1="2461.90" y1="1059.70" x2="2461.90" y2="1112.60" stroke="#000" stroke-width="1.12" opacity="0.63"/>
<line x1="2461.90" y1="1112.60" x2="2461.90" y2="1134.40" stroke="#000" stroke-width="1.12" opacity="0.044"/>
<line x1="2463.50" y1="1059.70" x2="2463.50" y2="1112.60" stroke="#000" stroke-width="1.12" opacity="0.63"/>
<line x1="2463.50" y1="1112.60" x2="2463.50" y2="1134.40" stroke="#000" stroke-width="1.12" opacity="0.044"/>
<line x1="2465.20" y1="1059.70" x2="2465.20" y2="1112.60" stroke="#000" stroke-width="1.12" opacity="0.63"/>
<line x1="2465.20" y1="1112.60" x2="2465.20" y2="1134.40" stroke="#000" stroke-width="1.12" opacity="0.044"/>
<line x1="2466.80" y1="1059.70" x2="2466.80" y2="1112.60" stroke="#000" stroke-width="1.12" opacity="0.63"/>
<line x1="2466.80" y1="1112.60" x2="2466.80" y2="1134.40" stroke="#000" stroke-width="1.12" opacity="0.044"/>
<line x1="2476.60" y1="1059.70" x2="2476.60" y2="1112.60" stroke="#000" stroke-width="1.12" opacity="0.75"/>
<line x1="2476.60" y1="1112.60" x2="2476.60" y2="1134.40" stroke="#000" stroke-width="1.12" opacity="0.053"/>
<line x1="2478.20" y1="1059.70" x2="2478.20" y2="1112.60" stroke="#000" stroke-width="1.12" opacity="0.75"/>
<line x1="2478.20" y1="1112.60" x2="2478.20" y2="1134.40" stroke="#000" stroke-width="1.12" opacity="0.053"/>
<line x1="2481.60" y1="1059.70" x2="2481.60" y2="1112.60" stroke="#000" stroke-width="1.12" opacity="1.00"/>
<line x1="2481.60" y1="1112.60" x2="2481.60" y2="1134.40" stroke="#000" stroke-width="1.12" opacity="0.070"/>
<line x1="2482.80" y1="1059.70" x2="2482.80" y2="1112.60" stroke="#000" stroke-width="1.12" opacity="1.00"/>
<line x1="2482.80" y1="1112.60" x2="2482.80" y2="1134.40" stroke="#000" stroke-width="1.12" opacity="0.070"/>
<line x1="2484.00" y1="1059.70" x2="2484.00" y2="1112.60" stroke="#000" stroke-width="1.12" opacity="1.00"/>
<line x1="2484.00" y1="1112.60" x2="2484.00" y2="1134.40" stroke="#000" stroke-width="1.12" opacity="0.070"/>
<line x1="2485.20" y1="1059.70" x2="2485.20" y2="1112.60" stroke="#000" stroke-width="1.12" opacity="1.00"/>
<line x1="2485.20" y1="1112.60" x2="2485.20" y2="1134.40" stroke="#000" stroke-width="1.12" opacity="0.070"/>
<path d="M1699.5,1199.5 L1699.5,1158.0 L1700.5,1172.0 L1702.0,1180.2 L1706.9,1188.7 L1716.6,1193.6 L1736.1,1196.0 L1777.5,1198.0 L1856.0,1199.0 L2000.0,1199.3 L2010.0,1199.9 L2250.0,1200.4 L2407.0,1201.7 L2440.0,1203.0 L2455.8,1204.3 L2463.0,1205.4 L2470.0,1207.2 L2477.0,1212.3 L2481.0,1218.5 L2483.4,1227.0 L2484.8,1243.6 L2485.5,1277.7 L2485.5,1199.5 Z" fill="#bfbfbf"/>
<line x1="1699.50" y1="1137.60" x2="1699.50" y2="1286.60" stroke="#4a4a4a" stroke-width="1.2"/>
<line x1="1698.70" y1="1285.80" x2="2485.70" y2="1285.80" stroke="#5a5a5a" stroke-width="1.7"/>
<line x1="1696.90" y1="1155.90" x2="1699.50" y2="1155.90" stroke="#777" stroke-width="1.0"/>
<text transform="translate(1694.90,1159.90) scale(1.000,1.050)" font-size="10.8" text-anchor="end" fill="#6a6a6a" stroke="#6a6a6a" stroke-width="0.3">2</text>
<line x1="1696.90" y1="1199.40" x2="1699.50" y2="1199.40" stroke="#777" stroke-width="1.0"/>
<text transform="translate(1694.90,1203.40) scale(1.000,1.050)" font-size="10.8" text-anchor="end" fill="#6a6a6a" stroke="#6a6a6a" stroke-width="0.3">0</text>
<line x1="1696.90" y1="1243.00" x2="1699.50" y2="1243.00" stroke="#777" stroke-width="1.0"/>
<text transform="translate(1694.90,1247.00) scale(1.000,1.050)" font-size="10.8" text-anchor="end" fill="#6a6a6a" stroke="#6a6a6a" stroke-width="0.3">-2</text>
<text transform="translate(1672.00,1210.20) scale(1.000,1.228) rotate(-90)" font-size="12.7" text-anchor="middle" fill="#1c1c1c" stroke="#1c1c1c" stroke-width="0.2">Ranked List Metric</text>
<line x1="1856.70" y1="1285.80" x2="1856.70" y2="1288.80" stroke="#5a5a5a" stroke-width="1.0"/>
<text transform="translate(1854.20,1299.40) scale(1.000,1.070)" font-size="10.8" text-anchor="middle" fill="#6a6a6a" stroke="#6a6a6a" stroke-width="0.3">10000</text>
<line x1="2013.70" y1="1285.80" x2="2013.70" y2="1288.80" stroke="#5a5a5a" stroke-width="1.0"/>
<text transform="translate(2011.20,1299.40) scale(1.000,1.070)" font-size="10.8" text-anchor="middle" fill="#6a6a6a" stroke="#6a6a6a" stroke-width="0.3">20000</text>
<line x1="2171.00" y1="1285.80" x2="2171.00" y2="1288.80" stroke="#5a5a5a" stroke-width="1.0"/>
<text transform="translate(2168.50,1299.40) scale(1.000,1.070)" font-size="10.8" text-anchor="middle" fill="#6a6a6a" stroke="#6a6a6a" stroke-width="0.3">30000</text>
<line x1="2328.50" y1="1285.80" x2="2328.50" y2="1288.80" stroke="#5a5a5a" stroke-width="1.0"/>
<text transform="translate(2326.00,1299.40) scale(1.000,1.070)" font-size="10.8" text-anchor="middle" fill="#6a6a6a" stroke="#6a6a6a" stroke-width="0.3">40000</text>
<line x1="2485.60" y1="1285.80" x2="2485.60" y2="1288.80" stroke="#5a5a5a" stroke-width="1.0"/>
<text transform="translate(2476.30,1299.40) scale(1.000,1.070)" font-size="10.8" text-anchor="middle" fill="#6a6a6a" stroke="#6a6a6a" stroke-width="0.3">50000</text>
<text transform="translate(2090.30,1315.40) scale(1.000,1.060)" font-size="13.95" text-anchor="middle" fill="#1c1c1c" stroke="#1c1c1c" stroke-width="0.3">Rank in Ordered Dataset</text>
</g>
</svg></body></html>
